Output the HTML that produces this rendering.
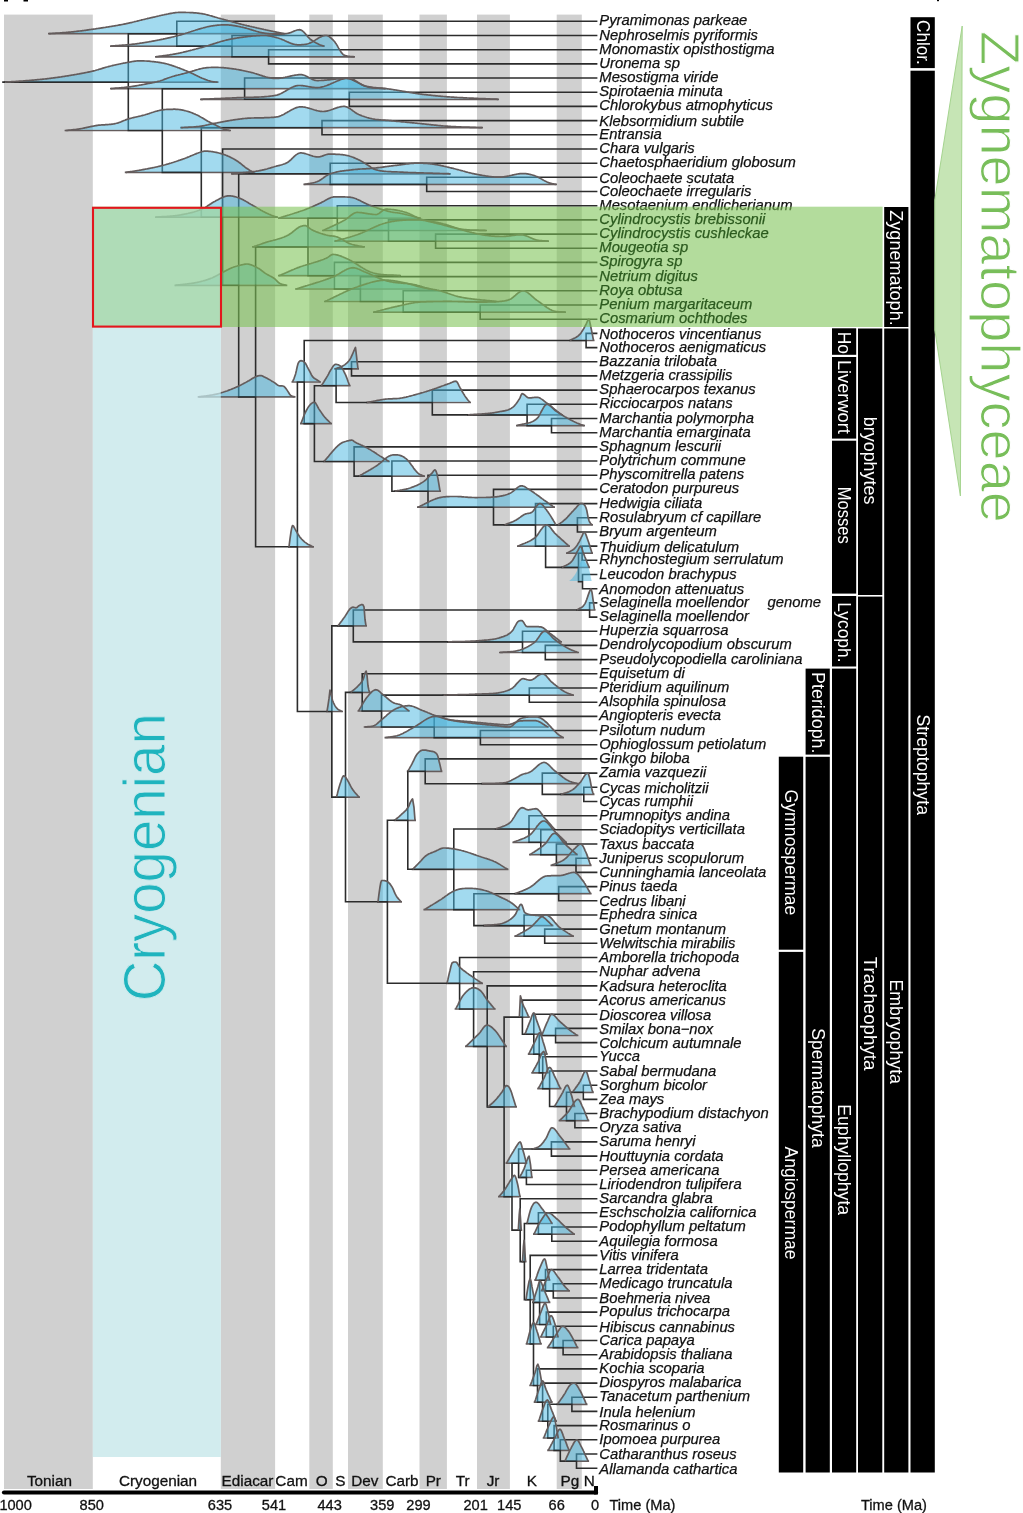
<!DOCTYPE html><html><head><meta charset="utf-8"><style>html,body{margin:0;padding:0;background:#fff}svg{display:block;will-change:transform}text{font-family:"Liberation Sans",sans-serif}</style></head><body>
<svg width="1023" height="1513" viewBox="0 0 1023 1513">
<rect width="1023" height="1513" fill="#fff"/>
<rect x="4.0" y="14.6" width="88.8" height="1474.4" fill="#d0d0d0"/>
<rect x="220.8" y="14.6" width="54.3" height="1474.4" fill="#d0d0d0"/>
<rect x="309.3" y="14.6" width="23.5" height="1474.4" fill="#d0d0d0"/>
<rect x="348.0" y="14.6" width="34.8" height="1474.4" fill="#d0d0d0"/>
<rect x="419.5" y="14.6" width="27.4" height="1474.4" fill="#d0d0d0"/>
<rect x="477.0" y="14.6" width="32.9" height="1474.4" fill="#d0d0d0"/>
<rect x="556.7" y="14.6" width="25.1" height="1474.4" fill="#d0d0d0"/>
<path d="M3.9 82.1H218.6M48 33.7H285M110 46.1H325M155 56.8H355M64.6 130.5H231M110 88.7H386M200 99.3H499M124.8 172.4H255M180 127.7H483M155 217.1H278M174.5 285.3H287.3M231 173.8H451M303.4 184.4H557M197.7 396.9H295.5M252 246.9H365M278 218.1H421M322 230.5H487M334 241.2H549M278 275.7H401M295 289H431M324 301.5H497M373 312.1H566M288 546.8H314M291.5 382H321M569 340.5H594.5M300 423.6H332M320.4 385.7H350.6M334 368.8H359M366 402.5H471M467 414.9H563M516 425.6H585M323 461.5H390M358 476.1H425M394 491.2H441M417 507.1H555M503.6 524.9H557M517 546.1H570M557 524.9H593M561 567.4H590M566 553.2H593M326 711.5H343M337 625.9H367M576 610H595.5M447 641.9H562M499 652.5H579M335.5 797.1H360M349.6 692.4H370.6M357.5 711H410M442.5 695.1H574M363.7 727H549M384.5 737.6H564M377 901.8H402M393.7 820.3H416M406.8 771.3H442.4M481 783.7H579M560 794.4H594.5M411.7 869.3H508.5M494.8 829H555.4M512.4 842.3H567M529 854.7H578M550.5 865.3H591.6M423.4 909.6H520.3M514.3 893.7H591.6M483 925.6H553.5M514.3 936.2H574M446 983.3H483M454.6 1009H495.7M465 1046.4H507M487 1106.9H517M518.4 1017.1H529.8M523.9 1034.2H542.7M527.8 1054.1H547.7M540.7 1035.5H578.4M531.3 1072.8H548.7M537.2 1088.7H561.5M553.6 1106.5H575.4M571.4 1092.3H593.8M558.6 1120.6H589.3M498 1196.7H521M505.5 1163.2H527.4M531.5 1149H570.5M518.5 1177.4H532.8M517.3 1230.1H522.2M521.5 1261.6H526.5M526 1223.5H553M533 1234.1H575M525 1299.7H535.5M525.7 1343.9H541.8M532 1302.4H550.4M534.3 1280.2H550.4M540.6 1290.9H570M535.1 1324.5H551.6M539.8 1337H559M546.8 1347.6H578.5M529.3 1385.5H543.2M533.7 1402.1H552.7M537.7 1421.2H557M556.4 1404.3H587.5M542.7 1438H559.2M547.2 1450.4H570M563.9 1461.1H589.1" fill="none" stroke="#645c5c" stroke-width="1.7"/>
<path d="M3 82.1 H128.3M128.3 33.7 V130.5M128.3 33.7 H176.8M128.3 130.5 H162.3M176.8 21.3 V46.1M176.8 21.3 H596.6M176.8 46.1 H232M232 35.5 V56.8M232 35.5 H596.6M232 56.8 H268.6M268.6 49.7 V63.9M268.6 49.7 H596.6M268.6 63.9 H596.6M162.3 88.7 V172.4M162.3 88.7 H244.6M162.3 172.4 H201.3M244.6 78 V99.3M244.6 78 H596.6M244.6 99.3 H349.3M349.3 92.2 V106.4M349.3 92.2 H596.6M349.3 106.4 H596.6M201.3 127.7 V217.1M201.3 127.7 H322M201.3 217.1 H222.6M322 120.6 V134.8M322 120.6 H596.6M322 134.8 H596.6M222.6 149 V285.3M222.6 149 H596.6M222.6 285.3 H238.7M238.7 173.8 V396.9M238.7 173.8 H330.2M238.7 396.9 H255.6M330.2 163.2 V184.4M330.2 163.2 H596.6M330.2 184.4 H426.7M426.7 177.3 V191.5M426.7 177.3 H596.6M426.7 191.5 H596.6M255.6 246.9 V546.8M255.6 246.9 H308M255.6 546.8 H297.4M308 218.1 V275.7M308 218.1 H337.3M308 275.7 H334.4M337.3 205.7 V230.5M337.3 205.7 H596.6M337.3 230.5 H388.5M388.5 219.9 V241.2M388.5 219.9 H596.6M388.5 241.2 H435.6M435.6 234.1 V248.3M435.6 234.1 H596.6M435.6 248.3 H596.6M334.4 262.4 V289M334.4 262.4 H596.6M334.4 289 H360.4M360.4 276.6 V301.5M360.4 276.6 H596.6M360.4 301.5 H403.2M403.2 290.8 V312.1M403.2 290.8 H596.6M403.2 312.1 H480.2M480.2 305 V319.2M480.2 305 H596.6M480.2 319.2 H596.6M297.4 382 V711.5M297.4 382 H304.2M297.4 711.5 H331.8M304.2 340.5 V423.6M304.2 340.5 H586.1M304.2 423.6 H314.4M586.1 333.4 V347.6M586.1 333.4 H596.6M586.1 347.6 H596.6M314.4 385.7 V461.5M314.4 385.7 H336.1M314.4 461.5 H354.1M336.1 368.8 V402.5M336.1 368.8 H351.5M336.1 402.5 H432.3M351.5 361.7 V375.9M351.5 361.7 H596.6M351.5 375.9 H596.6M432.3 390.1 V414.9M432.3 390.1 H596.6M432.3 414.9 H527.1M527.1 404.3 V425.6M527.1 404.3 H596.6M527.1 425.6 H551.5M551.5 418.5 V432.7M551.5 418.5 H596.6M551.5 432.7 H596.6M354.1 446.9 V476.1M354.1 446.9 H596.6M354.1 476.1 H391.9M391.9 461 V491.2M391.9 461 H596.6M391.9 491.2 H428M428 475.2 V507.1M428 475.2 H596.6M428 507.1 H493.5M493.5 489.4 V524.9M493.5 489.4 H596.6M493.5 524.9 H535.5M535.5 503.6 V546.1M535.5 503.6 H596.6M535.5 546.1 H545.6M545.6 524.9 V567.4M545.6 524.9 H577.4M545.6 567.4 H578.5M577.4 517.8 V532M577.4 517.8 H596.6M577.4 532 H596.6M578.5 553.2 V581.6M578.5 553.2 H582.1M578.5 581.6 H582.5M582.1 546.1 V560.3M582.1 546.1 H596.6M582.1 560.3 H596.6M582.5 574.5 V588.7M582.5 574.5 H596.6M582.5 588.7 H596.6M331.8 625.9 V797.1M331.8 625.9 H353.3M331.8 797.1 H345.5M353.3 610 V641.9M353.3 610 H589.6M353.3 641.9 H522.5M589.6 602.9 V617.1M589.6 602.9 H596.6M589.6 617.1 H596.6M522.5 631.3 V652.5M522.5 631.3 H596.6M522.5 652.5 H545.3M545.3 645.4 V659.6M545.3 645.4 H596.6M545.3 659.6 H596.6M345.5 692.4 V901.8M345.5 692.4 H362.2M345.5 901.8 H387.4M362.2 673.8 V711M362.2 673.8 H596.6M362.2 711 H381.5M381.5 695.1 V727M381.5 695.1 H529.3M381.5 727 H434.2M529.3 688 V702.2M529.3 688 H596.6M529.3 702.2 H596.6M434.2 716.4 V737.6M434.2 716.4 H596.6M434.2 737.6 H480.4M480.4 730.5 V744.7M480.4 730.5 H596.6M480.4 744.7 H596.6M387.4 820.3 V983.3M387.4 820.3 H407.8M387.4 983.3 H459.6M407.8 771.3 V869.3M407.8 771.3 H425.2M407.8 869.3 H453.8M425.2 758.9 V783.7M425.2 758.9 H596.6M425.2 783.7 H542.3M542.3 773.1 V794.4M542.3 773.1 H596.6M542.3 794.4 H583.8M583.8 787.3 V801.5M583.8 787.3 H596.6M583.8 801.5 H596.6M453.8 829 V909.6M453.8 829 H529M453.8 909.6 H473.9M529 815.7 V842.3M529 815.7 H596.6M529 842.3 H540.8M540.8 829.8 V854.7M540.8 829.8 H596.6M540.8 854.7 H556.4M556.4 844 V865.3M556.4 844 H596.6M556.4 865.3 H576M576 858.2 V872.4M576 858.2 H596.6M576 872.4 H596.6M473.9 893.7 V925.6M473.9 893.7 H558.7M473.9 925.6 H524.1M558.7 886.6 V900.8M558.7 886.6 H596.6M558.7 900.8 H596.6M524.1 915 V936.2M524.1 915 H596.6M524.1 936.2 H544.7M544.7 929.1 V943.3M544.7 929.1 H596.6M544.7 943.3 H596.6M459.6 957.5 V1009M459.6 957.5 H596.6M459.6 1009 H473.6M473.6 971.7 V1046.4M473.6 971.7 H596.6M473.6 1046.4 H487.2M487.2 985.9 V1106.9M487.2 985.9 H596.6M487.2 1106.9 H504.1M504.1 1017.1 V1196.7M504.1 1017.1 H522.4M504.1 1196.7 H512M522.4 1000.1 V1034.2M522.4 1000.1 H596.6M522.4 1034.2 H533.8M533.8 1014.2 V1054.1M533.8 1014.2 H596.6M533.8 1054.1 H539.2M539.2 1035.5 V1072.8M539.2 1035.5 H555.6M539.2 1072.8 H542.7M555.6 1028.4 V1042.6M555.6 1028.4 H596.6M555.6 1042.6 H596.6M542.7 1056.8 V1088.7M542.7 1056.8 H596.6M542.7 1088.7 H549.6M549.6 1071 V1106.5M549.6 1071 H596.6M549.6 1106.5 H566.5M566.5 1092.3 V1120.6M566.5 1092.3 H583.3M566.5 1120.6 H574.9M583.3 1085.2 V1099.4M583.3 1085.2 H596.6M583.3 1099.4 H596.6M574.9 1113.5 V1127.7M574.9 1113.5 H596.6M574.9 1127.7 H596.6M512 1163.2 V1230.1M512 1163.2 H518.6M512 1230.1 H520.2M518.6 1149 V1177.4M518.6 1149 H551.4M518.6 1177.4 H526.4M551.4 1141.9 V1156.1M551.4 1141.9 H596.6M551.4 1156.1 H596.6M526.4 1170.3 V1184.5M526.4 1170.3 H596.6M526.4 1184.5 H596.6M520.2 1198.7 V1261.6M520.2 1198.7 H596.6M520.2 1261.6 H524.4M524.4 1223.5 V1299.7M524.4 1223.5 H538.4M524.4 1299.7 H530.2M538.4 1212.8 V1234.1M538.4 1212.8 H596.6M538.4 1234.1 H551.8M551.8 1227 V1241.2M551.8 1227 H596.6M551.8 1241.2 H596.6M530.2 1255.4 V1343.9M530.2 1255.4 H596.6M530.2 1343.9 H533.5M533.5 1302.4 V1385.5M533.5 1302.4 H539.6M533.5 1385.5 H537.5M539.6 1280.2 V1324.5M539.6 1280.2 H545.5M539.6 1324.5 H546.3M545.5 1269.6 V1290.9M545.5 1269.6 H596.6M545.5 1290.9 H553.3M553.3 1283.8 V1298M553.3 1283.8 H596.6M553.3 1298 H596.6M546.3 1312.1 V1337M546.3 1312.1 H596.6M546.3 1337 H553.3M553.3 1326.3 V1347.6M553.3 1326.3 H596.6M553.3 1347.6 H563.1M563.1 1340.5 V1354.7M563.1 1340.5 H596.6M563.1 1354.7 H596.6M537.5 1368.9 V1402.1M537.5 1368.9 H596.6M537.5 1402.1 H542.6M542.6 1383.1 V1421.2M542.6 1383.1 H596.6M542.6 1421.2 H547.8M547.8 1404.3 V1438M547.8 1404.3 H571.9M547.8 1438 H554.1M571.9 1397.2 V1411.4M571.9 1397.2 H596.6M571.9 1411.4 H596.6M554.1 1425.6 V1450.4M554.1 1425.6 H596.6M554.1 1450.4 H560.3M560.3 1439.8 V1461.1M560.3 1439.8 H596.6M560.3 1461.1 H576.5M576.5 1454 V1468.2M576.5 1454 H596.6M576.5 1468.2 H596.6" fill="none" stroke="#2c2c2c" stroke-width="1.6" stroke-linecap="square"/>
<g fill="#45b6e0" fill-opacity="0.5" stroke="none">
<path d="M4.9 81.4L4.9 81.4L5.7 81.4L6.4 81.4L7.2 81.4L7.9 81.4L8.7 81.4L9.4 81.4L10.2 81.4L10.9 81.4L11.7 81.4L12.4 81.4L13.2 81.4L13.9 81.4L14.7 81.4L15.4 81.4L16.1 81.4L16.9 81.4L17.6 81.3L18.4 81.3L19.1 81.2L19.9 81.2L20.6 81.1L21.4 81.1L22.1 81L22.9 81L23.6 80.9L24.4 80.9L25.2 80.8L25.9 80.7L26.7 80.7L27.5 80.6L28.2 80.5L29 80.5L29.8 80.4L30.5 80.3L31.3 80.3L32.1 80.2L32.8 80.2L33.6 80.1L34.4 80L35.1 79.9L35.9 79.9L36.6 79.8L37.4 79.7L38.2 79.7L38.9 79.6L39.7 79.5L40.5 79.4L41.2 79.4L42 79.3L42.8 79.2L43.5 79.1L44.3 79L45.1 79L45.8 78.9L46.6 78.8L47.4 78.7L48.1 78.6L48.9 78.5L49.7 78.4L50.4 78.3L51.2 78.2L51.9 78.1L52.7 78L53.5 77.9L54.2 77.8L55 77.7L55.8 77.6L56.5 77.5L57.3 77.4L58 77.3L58.8 77.2L59.6 77.1L60.3 77L61.1 76.9L61.9 76.7L62.6 76.6L63.4 76.5L64.2 76.4L64.9 76.3L65.7 76.1L66.4 76L67.2 75.9L68 75.8L68.7 75.7L69.5 75.5L70.2 75.4L71 75.3L71.8 75.1L72.5 75L73.3 74.9L74.1 74.8L74.8 74.6L75.6 74.5L76.3 74.4L77.1 74.2L77.8 74.1L78.6 74L79.3 73.8L80.1 73.7L80.8 73.6L81.6 73.4L82.3 73.3L83.1 73.1L83.9 73L84.6 72.8L85.4 72.7L86.1 72.5L86.9 72.4L87.6 72.2L88.4 72.1L89.1 71.9L89.9 71.8L90.6 71.6L91.4 71.4L92.1 71.2L92.9 71.1L93.7 70.9L94.5 70.7L95.2 70.5L96 70.2L96.8 70L97.6 69.8L98.3 69.6L99.1 69.3L99.9 69.1L100.7 68.9L101.5 68.6L102.2 68.4L103 68.1L103.8 67.9L104.6 67.7L105.3 67.4L106.1 67.2L106.9 67L107.7 66.8L108.4 66.6L109.2 66.4L110 66.2L110.8 66L111.6 65.8L112.3 65.6L113.1 65.4L113.9 65.2L114.7 65L115.4 64.9L116.2 64.7L117 64.5L117.8 64.4L118.5 64.2L119.3 64L120.1 63.9L120.9 63.7L121.7 63.5L122.4 63.4L123.2 63.2L124 63.1L124.8 63L125.5 62.8L126.3 62.7L127.1 62.5L127.9 62.4L128.6 62.3L129.4 62.1L130.2 62L130.9 61.8L131.7 61.7L132.5 61.5L133.2 61.4L134 61.3L134.8 61.2L135.6 61.1L136.3 61L137.1 60.9L137.9 60.9L138.6 60.8L139.4 60.8L140.2 60.8L140.9 60.8L141.7 60.9L142.4 60.9L143.2 60.9L144 60.9L144.7 61L145.5 61L146.3 61L147 61.1L147.8 61.1L148.6 61.2L149.3 61.2L150.1 61.3L150.8 61.4L151.6 61.5L152.4 61.6L153.1 61.6L153.9 61.7L154.7 61.8L155.5 61.9L156.2 62L157 62.1L157.8 62.2L158.6 62.3L159.3 62.4L160.1 62.6L160.9 62.7L161.7 62.8L162.4 63L163.2 63.1L164 63.3L164.8 63.4L165.5 63.6L166.3 63.8L167.1 64L167.8 64.2L168.6 64.4L169.4 64.7L170.1 64.9L170.9 65.1L171.7 65.4L172.4 65.6L173.2 65.9L174 66.2L174.8 66.4L175.5 66.7L176.3 67L177.1 67.3L177.8 67.6L178.6 67.8L179.4 68.1L180.1 68.4L180.9 68.7L181.7 69L182.4 69.3L183.2 69.6L183.9 69.9L184.7 70.2L185.4 70.5L186.2 70.8L186.9 71.1L187.7 71.4L188.4 71.8L189.2 72.1L189.9 72.4L190.7 72.8L191.5 73.1L192.2 73.5L193 73.8L193.8 74.2L194.5 74.6L195.3 74.9L196 75.3L196.8 75.7L197.6 76.1L198.3 76.5L199.1 76.8L199.8 77.2L200.6 77.5L201.4 77.9L202.1 78.2L202.9 78.5L203.7 78.8L204.4 79.1L205.2 79.4L205.9 79.7L206.7 79.9L207.4 80.2L208.2 80.5L208.9 80.7L209.7 80.9L210.4 81.2L211.2 81.4L211.9 81.4L212.7 81.4L213.5 81.4L214.3 81.4L215.1 81.4L216 81.4L216.8 81.4L217.6 81.4L217.6 81.4Z"/>
<path d="M49 33L49 33L49.8 33L50.5 33L51.3 33L52 33L52.8 33L53.6 33L54.3 33L55.1 33L55.8 33L56.6 33L57.3 33L58.1 33L58.9 33L59.6 33L60.4 32.9L61.1 32.9L61.9 32.8L62.7 32.7L63.4 32.7L64.2 32.6L64.9 32.6L65.7 32.5L66.4 32.4L67.2 32.4L68 32.3L68.7 32.2L69.5 32.2L70.2 32.1L71 32L71.8 31.9L72.5 31.8L73.3 31.8L74.1 31.7L74.8 31.6L75.6 31.5L76.3 31.4L77.1 31.3L77.9 31.2L78.6 31.1L79.4 31L80.2 31L80.9 30.9L81.7 30.8L82.4 30.7L83.2 30.6L84 30.5L84.7 30.4L85.5 30.3L86.3 30.2L87 30.1L87.8 29.9L88.6 29.8L89.3 29.7L90.1 29.6L90.8 29.5L91.6 29.4L92.4 29.3L93.1 29.2L93.9 29.1L94.7 29L95.4 28.9L96.2 28.7L96.9 28.6L97.7 28.5L98.5 28.4L99.2 28.3L100 28.2L100.8 28.1L101.5 27.9L102.3 27.8L103 27.7L103.8 27.6L104.5 27.5L105.3 27.4L106.1 27.2L106.8 27.1L107.6 27L108.3 26.9L109.1 26.8L109.8 26.6L110.6 26.5L111.4 26.4L112.1 26.3L112.9 26.1L113.6 26L114.4 25.9L115.2 25.8L115.9 25.6L116.7 25.5L117.4 25.4L118.2 25.2L118.9 25.1L119.7 24.9L120.5 24.8L121.2 24.7L122 24.5L122.7 24.4L123.5 24.2L124.2 24.1L125 23.9L125.8 23.8L126.5 23.6L127.3 23.4L128.1 23.3L128.8 23.1L129.6 22.9L130.4 22.7L131.1 22.6L131.9 22.4L132.6 22.2L133.4 22L134.2 21.8L134.9 21.6L135.7 21.5L136.5 21.3L137.2 21.1L138 20.9L138.8 20.7L139.5 20.5L140.3 20.3L141.1 20.1L141.8 19.9L142.6 19.7L143.4 19.5L144.1 19.4L144.9 19.2L145.6 19L146.4 18.8L147.2 18.6L147.9 18.4L148.7 18.3L149.5 18.1L150.2 17.9L151 17.7L151.8 17.6L152.5 17.4L153.3 17.2L154 17.1L154.8 16.9L155.5 16.7L156.3 16.5L157.1 16.3L157.8 16.2L158.6 16L159.3 15.8L160.1 15.6L160.8 15.5L161.6 15.3L162.4 15.1L163.1 15L163.9 14.8L164.6 14.6L165.4 14.5L166.2 14.3L166.9 14.2L167.7 14L168.4 13.8L169.2 13.7L169.9 13.6L170.7 13.4L171.5 13.3L172.2 13.2L173 13L173.7 12.9L174.5 12.8L175.2 12.7L176 12.6L176.8 12.5L177.7 12.5L178.5 12.4L179.3 12.4L180.2 12.4L181 12.4L181.8 12.4L182.5 12.4L183.2 12.4L184 12.4L184.8 12.4L185.5 12.4L186.2 12.5L187 12.5L187.8 12.5L188.5 12.5L189.2 12.5L190 12.6L190.8 12.6L191.5 12.6L192.2 12.7L193 12.7L193.8 12.8L194.5 12.8L195.2 12.9L196 12.9L196.8 13L197.5 13.1L198.2 13.2L199 13.3L199.8 13.4L200.5 13.5L201.2 13.6L202 13.7L202.8 13.8L203.5 14L204.3 14.1L205.1 14.3L205.9 14.5L206.6 14.7L207.4 14.9L208.2 15.1L209 15.3L209.7 15.5L210.5 15.7L211.3 15.9L212 16.1L212.8 16.4L213.6 16.6L214.4 16.8L215.1 17.1L215.9 17.3L216.7 17.5L217.5 17.7L218.2 18L219 18.2L219.8 18.4L220.5 18.6L221.2 18.8L222 19L222.8 19.2L223.5 19.4L224.2 19.6L225 19.8L225.8 20L226.5 20.2L227.2 20.4L228 20.7L228.8 20.9L229.5 21.1L230.2 21.3L231 21.5L231.8 21.7L232.5 21.9L233.2 22.1L234 22.3L234.8 22.5L235.5 22.7L236.2 22.9L237 23.1L237.8 23.3L238.5 23.5L239.2 23.7L240 23.9L240.8 24.1L241.5 24.3L242.3 24.5L243 24.7L243.8 24.8L244.5 25L245.3 25.2L246.1 25.4L246.8 25.6L247.6 25.8L248.3 25.9L249.1 26.1L249.8 26.3L250.6 26.5L251.4 26.6L252.1 26.8L252.9 27L253.6 27.1L254.4 27.3L255.2 27.5L255.9 27.7L256.7 27.8L257.4 28L258.2 28.2L258.9 28.3L259.7 28.5L260.5 28.7L261.2 28.8L262 29L262.7 29.2L263.5 29.3L264.2 29.5L265 29.7L265.8 29.8L266.5 30L267.3 30.2L268 30.3L268.8 30.5L269.6 30.7L270.3 30.8L271.1 31L271.8 31.1L272.6 31.3L273.4 31.5L274.1 31.6L274.9 31.8L275.6 31.9L276.4 32.1L277.2 32.3L277.9 32.4L278.7 32.6L279.4 32.7L280.2 32.9L281 33L281.7 33L282.5 33L283.2 33L284 33L284 33Z"/>
<path d="M111 45.4L111 45.4L111.8 45.4L112.5 45.4L113.2 45.4L114 45.4L114.8 45.4L115.5 45.4L116.2 45.4L117 45.4L117.8 45.4L118.5 45.4L119.2 45.4L120 45.4L120.8 45.3L121.5 45.3L122.2 45.2L123 45.1L123.8 45.1L124.5 45L125.2 45L126 44.9L126.8 44.8L127.5 44.8L128.2 44.7L129 44.6L129.8 44.6L130.5 44.5L131.2 44.4L132 44.3L132.8 44.2L133.5 44.2L134.2 44.1L135 44L135.8 43.9L136.5 43.8L137.2 43.7L138 43.6L138.8 43.5L139.5 43.3L140.3 43.2L141 43.1L141.8 43L142.6 42.9L143.3 42.8L144.1 42.6L144.8 42.5L145.6 42.4L146.4 42.3L147.1 42.1L147.9 42L148.6 41.9L149.4 41.7L150.2 41.6L150.9 41.5L151.7 41.3L152.4 41.2L153.2 41.1L154 40.9L154.7 40.8L155.5 40.6L156.2 40.5L157 40.3L157.8 40.2L158.5 40L159.3 39.9L160 39.7L160.8 39.6L161.6 39.4L162.3 39.3L163.1 39.1L163.8 38.9L164.6 38.8L165.4 38.6L166.1 38.4L166.9 38.3L167.6 38.1L168.4 37.9L169.2 37.8L169.9 37.6L170.7 37.4L171.4 37.2L172.2 37L173 36.9L173.7 36.7L174.5 36.5L175.2 36.3L176 36.1L176.8 35.9L177.5 35.7L178.3 35.5L179.1 35.3L179.8 35.1L180.6 34.9L181.4 34.6L182.1 34.4L182.9 34.2L183.6 33.9L184.4 33.7L185.2 33.5L185.9 33.2L186.7 33L187.5 32.7L188.2 32.5L189 32.2L189.8 32L190.5 31.7L191.3 31.5L192.1 31.2L192.8 31L193.6 30.7L194.4 30.5L195.1 30.3L195.9 30L196.6 29.8L197.4 29.6L198.2 29.3L198.9 29.1L199.7 28.9L200.5 28.7L201.2 28.4L202 28.2L202.8 28L203.5 27.8L204.3 27.6L205.1 27.4L205.8 27.2L206.6 27L207.4 26.8L208.2 26.6L208.9 26.5L209.7 26.3L210.5 26.2L211.2 26L212 25.9L212.8 25.8L213.5 25.7L214.3 25.6L215.1 25.5L215.8 25.4L216.6 25.3L217.4 25.2L218.1 25.1L218.9 25.1L219.6 25L220.4 25L221.2 24.9L221.9 24.9L222.7 24.9L223.5 24.8L224.2 24.8L225 24.8L225.8 24.8L226.5 24.9L227.3 24.9L228.1 24.9L228.9 25L229.6 25.1L230.4 25.1L231.2 25.2L232 25.3L232.7 25.4L233.5 25.6L234.3 25.7L235 25.8L235.8 25.9L236.6 26.1L237.4 26.2L238.1 26.4L238.9 26.5L239.7 26.7L240.5 26.8L241.2 27L242 27.2L242.8 27.3L243.5 27.5L244.2 27.7L245 27.9L245.8 28.1L246.5 28.3L247.2 28.5L248 28.7L248.8 28.9L249.5 29.2L250.2 29.4L251 29.6L251.8 29.9L252.5 30.1L253.2 30.3L254 30.6L254.8 30.8L255.5 31L256.2 31.3L257 31.5L257.8 31.7L258.5 31.9L259.2 32.1L260 32.3L260.8 32.5L261.5 32.6L262.2 32.8L263 32.9L263.8 33L264.5 33.2L265.2 33.3L266 33.4L266.8 33.5L267.5 33.6L268.2 33.7L269 33.8L269.8 33.8L270.5 33.9L271.2 34L272 34L272.8 34.1L273.5 34.1L274.2 34.1L275 34.1L275.8 34.2L276.5 34.2L277.2 34.2L278 34.2L278.8 34.2L279.5 34.2L280.3 34.2L281.1 34.1L281.8 34.1L282.6 34L283.4 34L284.2 33.9L284.9 33.8L285.7 33.7L286.5 33.6L287.2 33.5L288 33.3L288.8 33.2L289.5 32.9L290.3 32.7L291.1 32.4L291.8 32.1L292.6 31.7L293.4 31.4L294.1 31.1L294.9 30.8L295.7 30.5L296.4 30.2L297.2 30L298 29.9L298.7 29.8L299.5 29.7L300.3 29.8L301 30.1L301.8 30.5L302.6 31L303.3 31.7L304.1 32.4L304.9 33.3L305.6 34.1L306.4 35L307.2 35.9L307.9 36.8L308.7 37.6L309.5 38.4L310.2 39.1L311 39.7L311.8 40.3L312.6 40.8L313.4 41.4L314.2 41.9L315 42.3L315.8 42.8L316.6 43.2L317.4 43.6L318.2 44L319 44.4L319.8 44.8L320.7 45.1L321.5 45.3L322.3 45.4L323.2 45.4L324 45.4L324 45.4Z"/>
<path d="M156 56.1L156 56.1L156.8 56.1L157.5 56.1L158.3 56.1L159.1 56.1L159.8 56.1L160.6 56.1L161.4 56L162.2 55.9L162.9 55.8L163.7 55.7L164.5 55.6L165.2 55.5L166 55.4L166.8 55.3L167.5 55.2L168.3 55.1L169.1 55L169.8 54.8L170.6 54.7L171.4 54.6L172.2 54.5L172.9 54.3L173.7 54.2L174.5 54.1L175.2 53.9L176 53.8L176.8 53.6L177.5 53.5L178.3 53.3L179.1 53.2L179.8 53L180.6 52.8L181.4 52.7L182.1 52.5L182.9 52.3L183.6 52.1L184.4 51.9L185.2 51.8L185.9 51.6L186.7 51.4L187.5 51.2L188.2 51L189 50.8L189.8 50.6L190.5 50.4L191.3 50.2L192.1 50L192.8 49.8L193.6 49.6L194.4 49.4L195.1 49.2L195.9 49L196.6 48.8L197.4 48.6L198.2 48.4L198.9 48.2L199.7 48L200.5 47.8L201.2 47.6L202 47.4L202.8 47.2L203.5 47L204.3 46.7L205 46.5L205.8 46.3L206.5 46.1L207.3 45.8L208.1 45.6L208.8 45.4L209.6 45.1L210.3 44.9L211.1 44.6L211.8 44.4L212.6 44.1L213.4 43.9L214.1 43.6L214.9 43.4L215.6 43.2L216.4 42.9L217.2 42.7L217.9 42.4L218.7 42.2L219.4 42L220.2 41.7L220.9 41.5L221.7 41.3L222.5 41.1L223.2 40.9L224 40.7L224.7 40.5L225.5 40.3L226.2 40.1L227 39.9L227.8 39.8L228.5 39.6L229.3 39.4L230 39.3L230.8 39.1L231.5 39L232.3 38.8L233.1 38.7L233.8 38.6L234.6 38.4L235.3 38.3L236.1 38.2L236.8 38L237.6 37.9L238.4 37.8L239.1 37.7L239.9 37.6L240.6 37.5L241.4 37.4L242.2 37.3L242.9 37.2L243.7 37.1L244.4 37L245.2 36.9L245.9 36.8L246.7 36.7L247.5 36.6L248.2 36.5L249 36.4L249.7 36.3L250.5 36.3L251.2 36.2L252 36.1L252.8 36L253.5 36L254.3 35.9L255.1 35.8L255.8 35.8L256.6 35.7L257.4 35.7L258.1 35.6L258.9 35.6L259.6 35.6L260.4 35.5L261.2 35.5L261.9 35.5L262.7 35.5L263.5 35.5L264.2 35.5L265 35.5L265.8 35.5L266.5 35.5L267.3 35.6L268.1 35.7L268.8 35.8L269.6 35.9L270.4 36.1L271.1 36.2L271.9 36.4L272.6 36.6L273.4 36.8L274.2 37L274.9 37.2L275.7 37.4L276.5 37.6L277.2 37.8L278 38L278.8 38.2L279.5 38.5L280.3 38.8L281.1 39L281.8 39.4L282.6 39.7L283.4 40L284.2 40.3L284.9 40.7L285.7 41.1L286.5 41.4L287.2 41.8L288 42.1L288.8 42.4L289.5 42.8L290.3 43.1L291.1 43.4L291.8 43.6L292.6 43.9L293.4 44.1L294.2 44.3L294.9 44.5L295.7 44.6L296.5 44.7L297.2 44.8L298 44.8L298.8 44.8L299.5 44.8L300.3 44.8L301.1 44.8L301.8 44.7L302.6 44.7L303.4 44.6L304.2 44.5L304.9 44.4L305.7 44.3L306.5 44.2L307.2 44L308 43.8L308.8 43.5L309.5 43.2L310.2 42.9L311 42.6L311.8 42.2L312.5 41.8L313.2 41.3L314 40.9L314.8 40.4L315.5 39.9L316.2 39.4L317 39L317.8 38.5L318.5 38.1L319.2 37.6L320 37.2L320.8 36.9L321.5 36.5L322.2 36.2L323 36L323.8 35.7L324.5 35.6L325.2 35.5L326 35.5L326.8 35.5L327.6 35.8L328.4 36.1L329.2 36.6L330 37.2L330.8 37.8L331.6 38.6L332.4 39.4L333.2 40.2L334 41L334.8 41.9L335.5 43L336.3 44.1L337.1 45.4L337.8 46.7L338.6 48.1L339.4 49.4L340.2 50.6L340.9 51.8L341.7 52.9L342.5 53.8L343.2 54.6L344 55.1L344.8 55.4L345.5 55.7L346.3 55.9L347.1 56.1L347.8 56.1L348.6 56.1L349.4 56.1L350.2 56.1L350.9 56.1L351.7 56.1L352.5 56.1L353.2 56.1L354 56.1L354 56.1Z"/>
<path d="M65.6 129.8L65.6 129.8L66.4 129.8L67.1 129.8L67.9 129.8L68.7 129.8L69.4 129.8L70.2 129.8L71 129.8L71.7 129.8L72.5 129.8L73.2 129.7L74 129.7L74.8 129.6L75.5 129.5L76.3 129.4L77.1 129.3L77.8 129.2L78.6 129.1L79.4 128.9L80.1 128.8L80.9 128.7L81.7 128.5L82.4 128.4L83.2 128.2L84 128.1L84.7 127.9L85.5 127.7L86.3 127.6L87 127.4L87.8 127.2L88.6 127.1L89.3 126.9L90.1 126.7L90.9 126.6L91.6 126.4L92.4 126.3L93.2 126.1L93.9 126L94.7 125.8L95.5 125.7L96.2 125.6L97 125.4L97.8 125.3L98.6 125.2L99.3 125.1L100.1 125.1L100.9 125L101.7 124.9L102.5 124.9L103.2 124.8L104 124.8L104.8 124.8L105.6 124.7L106.3 124.7L107.1 124.6L107.9 124.6L108.7 124.5L109.5 124.4L110.2 124.4L111 124.3L111.8 124.2L112.6 124.1L113.4 124L114.1 123.8L114.9 123.7L115.7 123.5L116.5 123.3L117.2 123.1L118 122.9L118.8 122.6L119.5 122.3L120.3 122.1L121.1 121.8L121.8 121.4L122.6 121.1L123.3 120.8L124.1 120.5L124.9 120.2L125.6 119.9L126.4 119.6L127.2 119.3L127.9 119.1L128.7 118.8L129.5 118.6L130.3 118.4L131.1 118.2L131.8 118L132.6 117.8L133.4 117.6L134.2 117.4L135 117.2L135.8 117L136.5 116.9L137.3 116.7L138.1 116.5L138.9 116.3L139.7 116.2L140.5 116L141.2 115.8L142 115.6L142.8 115.4L143.6 115.2L144.4 115L145.2 114.8L145.9 114.5L146.7 114.3L147.5 114.1L148.2 113.8L149 113.6L149.8 113.3L150.6 113L151.3 112.8L152.1 112.5L152.9 112.3L153.7 112L154.4 111.8L155.2 111.5L156 111.3L156.8 111.1L157.5 110.9L158.3 110.7L159.1 110.5L159.9 110.3L160.6 110.2L161.4 110L162.2 109.9L163 109.8L163.7 109.7L164.5 109.6L165.2 109.5L166 109.5L166.7 109.4L167.5 109.4L168.2 109.3L169 109.3L169.7 109.3L170.5 109.3L171.2 109.3L172 109.3L172.7 109.3L173.5 109.2L174.2 109.2L175 109.2L175.8 109.3L176.5 109.3L177.3 109.3L178 109.4L178.8 109.5L179.5 109.6L180.3 109.7L181 109.8L181.8 109.9L182.5 110.1L183.3 110.2L184 110.4L184.8 110.6L185.5 110.8L186.3 111L187.1 111.2L187.9 111.4L188.7 111.7L189.5 111.9L190.3 112.2L191.1 112.5L191.9 112.8L192.6 113.1L193.4 113.4L194.2 113.8L195 114.1L195.8 114.5L196.6 114.8L197.4 115.2L198.2 115.6L199 116L199.8 116.5L200.6 116.9L201.4 117.4L202.2 117.8L203 118.3L203.8 118.8L204.6 119.3L205.4 119.8L206.2 120.2L207 120.7L207.8 121.2L208.6 121.6L209.4 122L210.2 122.4L210.9 122.8L211.7 123.2L212.5 123.6L213.3 124L214.1 124.4L214.9 124.7L215.7 125.1L216.4 125.5L217.2 125.9L218 126.3L218.8 126.7L219.5 127.1L220.3 127.5L221.1 128L221.9 128.4L222.6 128.7L223.4 129.1L224.2 129.3L225.1 129.6L225.9 129.8L226.7 129.8L227.5 129.8L228.3 129.8L229.2 129.8L230 129.8L230 129.8Z"/>
<path d="M111 88L111 88L111.8 88L112.5 88L113.3 88L114 88L114.8 88L115.6 88L116.3 88L117.1 88L117.8 88L118.6 88L119.4 87.9L120.1 87.8L120.9 87.8L121.6 87.7L122.4 87.6L123.2 87.6L123.9 87.5L124.7 87.4L125.4 87.3L126.2 87.2L127 87.1L127.7 87.1L128.5 87L129.2 86.9L130 86.8L130.8 86.7L131.5 86.5L132.3 86.4L133.1 86.3L133.9 86.2L134.6 86.1L135.4 85.9L136.2 85.8L137 85.7L137.7 85.5L138.5 85.4L139.3 85.2L140 85.1L140.8 85L141.6 84.8L142.4 84.7L143.1 84.5L143.9 84.4L144.7 84.2L145.5 84.1L146.2 83.9L147 83.8L147.8 83.6L148.5 83.5L149.2 83.4L150 83.2L150.8 83.1L151.5 82.9L152.2 82.8L153 82.6L153.8 82.5L154.5 82.3L155.2 82.2L156 82L156.8 81.8L157.5 81.6L158.2 81.4L159 81.2L159.8 81L160.5 80.8L161.2 80.5L162 80.3L162.8 80L163.5 79.7L164.2 79.4L165 79.1L165.8 78.8L166.5 78.6L167.2 78.3L168 78L168.8 77.7L169.5 77.5L170.2 77.2L171 77L171.8 76.7L172.5 76.5L173.3 76.3L174.1 76.1L174.9 75.8L175.6 75.6L176.4 75.4L177.2 75.2L178 75L178.7 74.8L179.5 74.7L180.3 74.5L181 74.3L181.8 74.1L182.6 73.9L183.4 73.7L184.1 73.5L184.9 73.3L185.7 73.1L186.5 72.9L187.2 72.7L188 72.5L188.8 72.3L189.5 72.1L190.2 71.8L191 71.6L191.8 71.4L192.5 71.1L193.2 70.9L194 70.7L194.8 70.4L195.5 70.2L196.2 69.9L197 69.7L197.8 69.5L198.5 69.3L199.2 69.1L200 68.9L200.8 68.7L201.5 68.5L202.2 68.4L203 68.2L203.8 68.1L204.5 68L205.2 67.9L206 67.8L206.8 67.7L207.5 67.6L208.2 67.6L209 67.5L209.8 67.5L210.5 67.5L211.2 67.4L212 67.4L212.8 67.4L213.5 67.4L214.2 67.4L215 67.4L215.8 67.4L216.5 67.4L217.3 67.4L218.1 67.4L218.9 67.5L219.6 67.5L220.4 67.5L221.2 67.6L222 67.6L222.7 67.7L223.5 67.7L224.3 67.8L225 67.9L225.8 67.9L226.6 68L227.4 68.1L228.1 68.2L228.9 68.3L229.7 68.4L230.5 68.5L231.2 68.6L232 68.7L232.8 68.8L233.5 68.9L234.3 69L235.1 69.1L235.9 69.2L236.6 69.4L237.4 69.5L238.2 69.6L239 69.8L239.7 69.9L240.5 70.1L241.3 70.2L242 70.4L242.8 70.5L243.6 70.7L244.4 70.9L245.1 71L245.9 71.2L246.7 71.4L247.5 71.5L248.2 71.7L249 71.9L249.8 72L250.5 72.2L251.2 72.4L252 72.6L252.8 72.8L253.5 73L254.2 73.2L255 73.5L255.8 73.7L256.5 73.9L257.2 74.2L258 74.4L258.8 74.7L259.5 74.9L260.2 75.2L261 75.4L261.8 75.6L262.5 75.9L263.2 76.1L264 76.3L264.8 76.6L265.5 76.8L266.2 77L267 77.2L267.8 77.4L268.5 77.5L269.2 77.7L270 77.8L270.8 78L271.5 78.1L272.2 78.2L273 78.3L273.8 78.4L274.5 78.4L275.2 78.4L276 78.5L276.8 78.4L277.5 78.4L278.3 78.4L279 78.3L279.8 78.2L280.5 78.1L281.3 78L282.1 77.9L282.8 77.8L283.6 77.6L284.3 77.5L285.1 77.3L285.8 77.1L286.6 77L287.4 76.8L288.1 76.6L288.9 76.5L289.6 76.3L290.4 76.1L291.2 75.9L291.9 75.8L292.7 75.6L293.4 75.5L294.2 75.3L294.9 75.2L295.7 75.1L296.5 75L297.2 74.9L298 74.8L298.7 74.7L299.5 74.7L300.2 74.6L301 74.6L301.8 74.7L302.5 74.8L303.3 75L304 75.2L304.8 75.5L305.6 75.8L306.3 76.2L307.1 76.6L307.9 77L308.6 77.4L309.4 77.8L310.1 78.2L310.9 78.6L311.7 79L312.4 79.4L313.2 79.7L314 80L314.7 80.3L315.5 80.4L316.2 80.5L317 80.6L317.8 80.6L318.5 80.6L319.3 80.5L320.1 80.5L320.8 80.5L321.6 80.4L322.3 80.4L323.1 80.3L323.9 80.3L324.6 80.2L325.4 80.2L326.2 80.1L326.9 80L327.7 79.9L328.4 79.9L329.2 79.8L330 79.7L330.7 79.6L331.5 79.5L332.3 79.4L333 79.4L333.8 79.3L334.6 79.2L335.3 79.1L336.1 79L336.8 79L337.6 78.9L338.4 78.8L339.1 78.8L339.9 78.7L340.7 78.6L341.4 78.6L342.2 78.6L342.9 78.5L343.7 78.5L344.5 78.5L345.2 78.5L346 78.5L346.8 78.5L347.5 78.6L348.3 78.7L349.1 78.8L349.8 79L350.6 79.3L351.4 79.5L352.2 79.8L352.9 80.2L353.7 80.5L354.5 80.9L355.2 81.3L356 81.6L356.8 82L357.5 82.4L358.3 82.8L359.1 83.2L359.8 83.6L360.6 84L361.4 84.4L362.2 84.7L362.9 85.1L363.7 85.4L364.5 85.7L365.2 85.9L366 86.1L366.8 86.3L367.5 86.5L368.3 86.6L369 86.8L369.8 86.9L370.6 87.1L371.3 87.2L372.1 87.3L372.8 87.4L373.6 87.5L374.4 87.6L375.1 87.7L375.9 87.7L376.6 87.8L377.4 87.9L378.2 88L378.9 88L379.7 88L380.4 88L381.2 88L382 88L382.7 88L383.5 88L384.2 88L385 88L385 88Z"/>
<path d="M201 98.6L201 98.6L201.8 98.6L202.5 98.6L203.2 98.6L204 98.6L204.8 98.6L205.5 98.6L206.2 98.6L207 98.6L207.8 98.6L208.5 98.6L209.2 98.6L210 98.6L210.8 98.6L211.5 98.6L212.2 98.6L213 98.6L213.8 98.6L214.5 98.6L215.2 98.6L216 98.6L216.8 98.6L217.5 98.6L218.2 98.6L219 98.5L219.8 98.5L220.5 98.5L221.2 98.4L222 98.4L222.8 98.4L223.5 98.3L224.2 98.3L225 98.3L225.8 98.2L226.5 98.2L227.2 98.2L228 98.1L228.8 98.1L229.5 98.1L230.2 98L231 98L231.8 98L232.5 97.9L233.2 97.9L234 97.9L234.8 97.8L235.5 97.8L236.2 97.8L237 97.7L237.8 97.7L238.5 97.7L239.2 97.6L240 97.6L240.8 97.6L241.5 97.6L242.2 97.5L243 97.5L243.8 97.5L244.5 97.5L245.2 97.4L246 97.4L246.8 97.4L247.5 97.4L248.2 97.4L249 97.4L249.8 97.3L250.5 97.3L251.2 97.3L252 97.3L252.8 97.3L253.5 97.3L254.2 97.2L255 97.2L255.8 97.2L256.5 97.2L257.2 97.1L258 97.1L258.8 97.1L259.5 97L260.2 97L261 97L261.8 96.9L262.5 96.9L263.2 96.8L264 96.8L264.8 96.7L265.5 96.7L266.2 96.6L267 96.5L267.8 96.5L268.5 96.4L269.2 96.3L270 96.2L270.8 96.1L271.5 96L272.2 95.9L273 95.8L273.8 95.7L274.5 95.5L275.2 95.4L276 95.3L276.8 95.1L277.5 94.9L278.3 94.6L279.1 94.4L279.8 94L280.6 93.7L281.4 93.3L282.1 92.9L282.9 92.5L283.7 92.1L284.4 91.6L285.2 91.2L286 90.7L286.7 90.3L287.5 89.8L288.3 89.4L289 88.9L289.8 88.5L290.6 88.1L291.3 87.7L292.1 87.3L292.9 87L293.6 86.6L294.4 86.4L295.2 86.1L295.9 85.9L296.7 85.7L297.5 85.6L298.2 85.5L299 85.5L299.8 85.5L300.5 85.5L301.2 85.6L302 85.6L302.8 85.7L303.5 85.8L304.2 85.9L305 86L305.8 86.1L306.5 86.3L307.2 86.4L308 86.5L308.8 86.7L309.5 86.8L310.2 86.9L311 87.1L311.8 87.2L312.5 87.3L313.2 87.4L314 87.4L314.8 87.5L315.5 87.6L316.2 87.6L317 87.6L317.8 87.6L318.5 87.5L319.2 87.5L320 87.4L320.8 87.2L321.5 87.1L322.2 86.9L323 86.7L323.8 86.5L324.5 86.3L325.2 86L326 85.8L326.8 85.5L327.5 85.2L328.2 84.9L329 84.6L329.8 84.3L330.5 84L331.2 83.6L332 83.3L332.8 83L333.5 82.6L334.2 82.3L335 82L335.8 81.6L336.5 81.3L337.2 81L338 80.7L338.8 80.4L339.5 80.1L340.2 79.8L341 79.5L341.8 79.3L342.5 79.1L343.2 78.9L344 78.7L344.8 78.5L345.6 78.3L346.4 78.1L347.2 78.1L348 78L348.8 78.1L349.5 78.2L350.2 78.3L351 78.5L351.8 78.8L352.5 79.1L353.2 79.5L354 79.8L354.8 80.3L355.5 80.7L356.2 81.2L357 81.6L357.8 82.1L358.5 82.6L359.2 83.1L360 83.6L360.8 84L361.5 84.5L362.2 84.9L363 85.3L363.8 85.7L364.5 86L365.2 86.3L366 86.5L366.8 86.7L367.5 86.9L368.3 87.1L369 87.3L369.8 87.4L370.6 87.5L371.3 87.6L372.1 87.7L372.8 87.8L373.6 87.9L374.3 88L375.1 88L375.9 88.1L376.6 88.1L377.4 88.2L378.1 88.2L378.9 88.2L379.7 88.3L380.4 88.3L381.2 88.3L381.9 88.4L382.7 88.4L383.4 88.5L384.2 88.5L385 88.6L385.7 88.6L386.5 88.7L387.2 88.8L388 88.9L388.8 89L389.5 89.1L390.3 89.2L391 89.3L391.8 89.4L392.6 89.5L393.3 89.7L394.1 89.8L394.9 89.9L395.6 90L396.4 90.1L397.1 90.3L397.9 90.4L398.7 90.5L399.4 90.7L400.2 90.8L401 90.9L401.7 91L402.5 91.2L403.2 91.3L404 91.4L404.8 91.6L405.5 91.7L406.3 91.8L407 92L407.8 92.1L408.6 92.2L409.3 92.4L410.1 92.5L410.9 92.6L411.6 92.7L412.4 92.9L413.1 93L413.9 93.1L414.7 93.2L415.4 93.3L416.2 93.5L417 93.6L417.7 93.7L418.5 93.8L419.2 93.9L420 94L420.8 94.1L421.5 94.2L422.2 94.3L423 94.4L423.8 94.5L424.5 94.6L425.2 94.6L426 94.7L426.8 94.8L427.5 94.9L428.2 95L429 95.1L429.8 95.2L430.5 95.2L431.2 95.3L432 95.4L432.8 95.5L433.5 95.6L434.2 95.6L435 95.7L435.8 95.8L436.5 95.9L437.2 95.9L438 96L438.8 96.1L439.5 96.1L440.2 96.2L441 96.3L441.8 96.3L442.5 96.4L443.2 96.5L444 96.5L444.8 96.6L445.5 96.6L446.2 96.7L447 96.8L447.8 96.8L448.5 96.9L449.2 96.9L450 97L450.8 97L451.5 97.1L452.2 97.1L453 97.2L453.8 97.2L454.5 97.3L455.2 97.3L456 97.4L456.8 97.4L457.5 97.5L458.2 97.5L459 97.5L459.8 97.6L460.5 97.6L461.2 97.7L462 97.7L462.8 97.7L463.5 97.8L464.2 97.8L465 97.9L465.8 97.9L466.5 97.9L467.2 98L468 98L468.8 98L469.5 98.1L470.2 98.1L471 98.1L471.8 98.2L472.5 98.2L473.2 98.2L474 98.3L474.8 98.3L475.5 98.3L476.2 98.4L477 98.4L477.8 98.4L478.5 98.5L479.2 98.5L480 98.5L480.8 98.6L481.5 98.6L482.2 98.6L483 98.6L483.8 98.6L484.5 98.6L485.2 98.6L486 98.6L486.8 98.6L487.5 98.6L488.2 98.6L489 98.6L489.8 98.6L490.5 98.6L491.2 98.6L492 98.6L492.8 98.6L493.5 98.6L494.2 98.6L495 98.6L495.8 98.6L496.5 98.6L497.2 98.6L498 98.6L498 98.6Z"/>
<path d="M125.8 171.7L125.8 171.7L126.6 171.7L127.3 171.7L128.1 171.7L128.8 171.7L129.6 171.7L130.4 171.7L131.1 171.6L131.9 171.5L132.7 171.4L133.4 171.3L134.2 171.1L134.9 171L135.7 170.9L136.5 170.8L137.2 170.6L138 170.5L138.8 170.4L139.5 170.2L140.2 170.1L141 170L141.8 169.8L142.5 169.7L143.2 169.6L144 169.4L144.8 169.3L145.5 169.1L146.2 169L147 168.9L147.8 168.7L148.5 168.6L149.2 168.4L150 168.3L150.8 168.1L151.5 168L152.2 167.8L153 167.7L153.8 167.5L154.5 167.4L155.2 167.2L156 167L156.8 166.9L157.5 166.7L158.2 166.5L159 166.3L159.8 166.2L160.5 166L161.2 165.8L162 165.6L162.8 165.4L163.5 165.2L164.3 165L165.1 164.8L165.8 164.6L166.6 164.3L167.4 164.1L168.2 163.9L168.9 163.7L169.7 163.4L170.5 163.2L171.2 163L172 162.7L172.8 162.5L173.5 162.2L174.3 162L175.1 161.7L175.8 161.5L176.6 161.2L177.4 161L178.1 160.7L178.9 160.4L179.7 160.2L180.5 159.9L181.2 159.7L182 159.4L182.8 159.1L183.5 158.8L184.3 158.6L185.1 158.3L185.8 158L186.6 157.7L187.3 157.4L188.1 157.1L188.9 156.8L189.6 156.5L190.4 156.1L191.1 155.8L191.9 155.5L192.7 155.2L193.4 154.8L194.2 154.5L194.9 154.2L195.7 153.9L196.4 153.6L197.2 153.3L198 153L198.7 152.7L199.5 152.5L200.2 152.2L201 152L201.8 151.7L202.6 151.5L203.4 151.3L204.2 151.2L205 151.1L205.8 151.1L206.5 151.1L207.2 151.2L208 151.2L208.8 151.3L209.5 151.3L210.2 151.4L211 151.5L211.8 151.6L212.5 151.7L213.2 151.8L214 152L214.8 152.1L215.6 152.3L216.4 152.4L217.2 152.6L218 152.8L218.8 153L219.6 153.2L220.4 153.4L221.2 153.6L222 153.9L222.8 154.1L223.6 154.4L224.4 154.7L225.2 154.9L226 155.3L226.8 155.6L227.6 155.9L228.4 156.3L229.2 156.6L230 157L230.8 157.4L231.5 157.8L232.3 158.2L233.1 158.6L233.9 159.1L234.7 159.5L235.5 160L236.3 160.5L237.1 161L237.9 161.5L238.7 162.1L239.5 162.7L240.3 163.3L241.1 163.9L241.9 164.6L242.6 165.2L243.4 165.8L244.2 166.4L245 167.1L245.8 167.7L246.6 168.2L247.4 168.8L248.2 169.3L248.9 169.8L249.7 170.3L250.4 170.7L251.2 171.1L252.1 171.6L253.1 171.7L254 171.7L254 171.7Z"/>
<path d="M181 127L181 127L181.8 127L182.5 127L183.3 127L184.1 127L184.8 127L185.6 127L186.4 127L187.2 127L187.9 127L188.7 127L189.5 127L190.2 127L191 127L191.8 127L192.5 127L193.3 127L194.1 126.9L194.8 126.9L195.6 126.8L196.4 126.7L197.2 126.7L197.9 126.6L198.7 126.5L199.5 126.4L200.2 126.3L201 126.2L201.8 126.1L202.5 125.9L203.3 125.8L204.1 125.7L204.8 125.5L205.6 125.3L206.4 125.1L207.1 125L207.9 124.8L208.6 124.6L209.4 124.4L210.2 124.2L210.9 124.1L211.7 123.9L212.5 123.7L213.2 123.6L214 123.4L214.8 123.3L215.5 123.2L216.2 123L217 122.9L217.8 122.7L218.5 122.6L219.2 122.5L220 122.3L220.8 122.2L221.5 122L222.2 121.9L223 121.8L223.8 121.6L224.5 121.5L225.2 121.3L226 121.2L226.8 121.1L227.5 120.9L228.2 120.8L229 120.7L229.8 120.5L230.5 120.4L231.2 120.3L232 120.2L232.8 120L233.5 119.9L234.2 119.8L235 119.7L235.8 119.6L236.5 119.5L237.2 119.4L238 119.3L238.8 119.2L239.5 119.1L240.2 119L241 118.9L241.8 118.8L242.5 118.7L243.2 118.6L244 118.5L244.8 118.5L245.5 118.4L246.2 118.3L247 118.3L247.8 118.2L248.5 118.2L249.2 118.1L250 118.1L250.8 118.1L251.5 118L252.3 118L253.1 118L253.8 118L254.6 117.9L255.4 117.9L256.1 117.9L256.9 117.9L257.6 117.9L258.4 117.9L259.2 117.9L259.9 117.8L260.7 117.8L261.5 117.8L262.2 117.8L263 117.8L263.8 117.8L264.5 117.7L265.3 117.7L266.1 117.7L266.8 117.7L267.6 117.6L268.4 117.6L269.1 117.6L269.9 117.5L270.6 117.5L271.4 117.4L272.2 117.4L272.9 117.3L273.7 117.3L274.5 117.2L275.2 117.1L276 117L276.8 116.9L277.5 116.8L278.3 116.6L279 116.4L279.8 116.1L280.5 115.8L281.3 115.5L282.1 115.1L282.8 114.8L283.6 114.4L284.3 114L285.1 113.5L285.8 113.1L286.6 112.7L287.4 112.2L288.1 111.8L288.9 111.4L289.6 110.9L290.4 110.5L291.2 110.1L291.9 109.6L292.7 109.3L293.4 108.9L294.2 108.5L294.9 108.2L295.7 107.9L296.5 107.6L297.2 107.4L298 107.2L298.7 107L299.5 106.9L300.2 106.8L301 106.8L301.8 106.8L302.5 106.9L303.3 107L304 107.1L304.8 107.2L305.6 107.3L306.3 107.5L307.1 107.7L307.8 107.9L308.6 108.1L309.3 108.3L310.1 108.6L310.9 108.8L311.6 109L312.4 109.3L313.1 109.5L313.9 109.8L314.7 110L315.4 110.2L316.2 110.4L316.9 110.6L317.7 110.8L318.4 111L319.2 111.1L320 111.3L320.7 111.4L321.5 111.4L322.2 111.5L323 111.5L323.8 111.5L324.5 111.4L325.2 111.3L326 111.2L326.8 111.1L327.5 110.9L328.2 110.7L329 110.5L329.8 110.3L330.5 110L331.2 109.8L332 109.5L332.8 109.2L333.5 108.9L334.2 108.7L335 108.4L335.8 108.1L336.5 107.9L337.2 107.6L338 107.4L338.8 107.2L339.5 107L340.2 106.8L341 106.7L341.8 106.6L342.5 106.5L343.2 106.4L344 106.4L344.8 106.4L345.5 106.6L346.3 106.8L347.1 107.1L347.9 107.5L348.6 107.9L349.4 108.3L350.2 108.8L351 109.4L351.7 109.9L352.5 110.5L353.3 111.1L354.1 111.6L354.8 112.2L355.6 112.7L356.4 113.2L357.2 113.7L357.9 114.1L358.7 114.5L359.5 114.8L360.2 115.1L361 115.4L361.7 115.7L362.5 116L363.2 116.2L364 116.5L364.7 116.8L365.5 117L366.2 117.2L367 117.5L367.7 117.7L368.5 117.9L369.2 118.1L370 118.3L370.7 118.5L371.5 118.6L372.2 118.8L373 119L373.8 119.1L374.5 119.2L375.2 119.4L376 119.5L376.8 119.6L377.5 119.6L378.2 119.7L379 119.8L379.8 119.8L380.5 119.9L381.2 120L382 120L382.8 120.1L383.5 120.1L384.2 120.2L385 120.2L385.8 120.3L386.5 120.3L387.2 120.4L388 120.4L388.8 120.5L389.5 120.6L390.3 120.7L391.1 120.7L391.8 120.8L392.6 120.9L393.3 121L394.1 121L394.9 121.1L395.6 121.2L396.4 121.3L397.2 121.3L397.9 121.4L398.7 121.5L399.4 121.5L400.2 121.6L401 121.7L401.7 121.8L402.5 121.8L403.3 121.9L404 122L404.8 122L405.6 122.1L406.3 122.2L407.1 122.3L407.8 122.3L408.6 122.4L409.4 122.5L410.1 122.6L410.9 122.6L411.7 122.7L412.4 122.8L413.2 122.8L413.9 122.9L414.7 123L415.5 123.1L416.2 123.1L417 123.2L417.8 123.3L418.5 123.4L419.3 123.4L420 123.5L420.8 123.6L421.6 123.7L422.3 123.8L423.1 123.8L423.8 123.9L424.6 124L425.3 124.1L426.1 124.2L426.9 124.3L427.6 124.3L428.4 124.4L429.1 124.5L429.9 124.6L430.7 124.7L431.4 124.8L432.2 124.8L432.9 124.9L433.7 125L434.5 125.1L435.2 125.2L436 125.2L436.7 125.3L437.5 125.4L438.3 125.5L439 125.6L439.8 125.6L440.5 125.7L441.3 125.8L442 125.8L442.8 125.9L443.6 126L444.3 126L445.1 126.1L445.8 126.1L446.6 126.2L447.4 126.2L448.1 126.3L448.9 126.3L449.6 126.4L450.4 126.4L451.1 126.5L451.9 126.5L452.6 126.6L453.4 126.6L454.1 126.7L454.9 126.7L455.6 126.7L456.4 126.8L457.1 126.8L457.9 126.8L458.7 126.9L459.4 126.9L460.2 126.9L460.9 126.9L461.7 127L462.4 127L463.2 127L463.9 127L464.7 127L465.4 127L466.2 127L466.9 127L467.7 127L468.4 127L469.2 127L469.9 127L470.7 127L471.5 127L472.2 127L473 127L473.7 127L474.5 127L475.2 127L476 127L476.7 127L477.5 127L478.2 127L479 127L479.7 127L480.5 127L481.2 127L482 127L482 127Z"/>
<path d="M156 216.4L156 216.4L156.8 216.4L157.5 216.4L158.2 216.4L159 216.4L159.8 216.4L160.5 216.4L161.2 216.4L162 216.4L162.8 216.4L163.5 216.4L164.2 216.4L165 216.4L165.8 216.4L166.5 216.4L167.2 216.4L168 216.4L168.8 216.3L169.5 216.3L170.2 216.2L171 216.1L171.8 216.1L172.5 216L173.2 215.9L174 215.9L174.8 215.8L175.5 215.7L176.2 215.6L177 215.5L177.8 215.4L178.5 215.3L179.2 215.1L180 215L180.8 214.9L181.5 214.7L182.3 214.6L183.1 214.4L183.8 214.3L184.6 214.1L185.4 214L186.1 213.8L186.9 213.7L187.7 213.5L188.4 213.3L189.2 213.1L190 213L190.7 212.8L191.5 212.6L192.3 212.4L193 212.2L193.8 212L194.6 211.7L195.3 211.5L196.1 211.3L196.9 211L197.6 210.7L198.4 210.5L199.2 210.2L199.9 209.9L200.7 209.6L201.5 209.3L202.2 209L203 208.6L203.8 208.2L204.6 207.8L205.4 207.4L206.1 206.9L206.9 206.4L207.7 205.8L208.5 205.3L209.3 204.8L210.1 204.2L210.9 203.7L211.6 203.2L212.4 202.7L213.2 202.2L214 201.8L214.8 201.4L215.5 201L216.2 200.6L217 200.2L217.8 199.8L218.5 199.4L219.2 199L220 198.6L220.8 198.2L221.5 197.9L222.2 197.5L223 197.2L223.8 196.9L224.5 196.7L225.2 196.4L226 196.2L226.8 196.1L227.5 195.9L228.2 195.9L229 195.8L229.8 195.9L230.6 195.9L231.4 196L232.1 196.1L232.9 196.2L233.7 196.4L234.5 196.6L235.3 196.8L236.1 197L236.9 197.3L237.6 197.5L238.4 197.8L239.2 198.1L240 198.4L240.8 198.7L241.6 199.1L242.4 199.4L243.1 199.8L243.9 200.3L244.7 200.7L245.5 201.1L246.3 201.6L247.1 202.1L247.9 202.5L248.6 203L249.4 203.5L250.2 203.9L251 204.4L251.8 204.8L252.5 205.2L253.3 205.7L254.1 206.1L254.8 206.6L255.6 207L256.4 207.5L257.1 207.9L257.9 208.4L258.6 208.8L259.4 209.3L260.2 209.7L260.9 210.2L261.7 210.6L262.5 211L263.2 211.4L264 211.8L264.8 212.2L265.5 212.6L266.2 212.9L267 213.3L267.8 213.6L268.5 214L269.2 214.3L270 214.6L270.8 215L271.5 215.3L272.2 215.6L273 215.9L273.8 216.2L274.6 216.4L275.4 216.4L276.2 216.4L277 216.4L277 216.4Z"/>
<path d="M175.5 284.6L175.5 284.6L176.3 284.6L177 284.6L177.8 284.6L178.5 284.6L179.3 284.6L180 284.6L180.8 284.6L181.5 284.6L182.3 284.5L183.1 284.4L183.8 284.3L184.6 284.3L185.3 284.2L186.1 284.1L186.8 284L187.6 283.9L188.3 283.8L189.1 283.7L189.8 283.6L190.6 283.5L191.4 283.4L192.1 283.3L192.9 283.2L193.6 283.1L194.4 282.9L195.1 282.8L195.9 282.6L196.6 282.5L197.4 282.3L198.2 282.2L198.9 282L199.7 281.8L200.4 281.6L201.2 281.4L201.9 281.2L202.7 281L203.4 280.8L204.2 280.6L205 280.4L205.7 280.2L206.5 279.9L207.2 279.7L208 279.4L208.7 279.1L209.5 278.9L210.2 278.6L211 278.3L211.8 278L212.5 277.7L213.3 277.3L214 276.9L214.8 276.6L215.5 276.2L216.3 275.8L217 275.4L217.8 275L218.5 274.6L219.3 274.2L220.1 273.9L220.8 273.4L221.6 273L222.4 272.6L223.1 272.2L223.9 271.8L224.7 271.3L225.4 270.9L226.2 270.5L227 270.1L227.8 269.7L228.5 269.3L229.3 268.9L230.1 268.5L230.8 268.2L231.6 267.9L232.4 267.5L233.2 267.3L233.9 267L234.7 266.7L235.5 266.5L236.3 266.2L237.1 266L237.8 265.8L238.6 265.6L239.4 265.4L240.2 265.2L240.9 265L241.7 264.8L242.5 264.7L243.3 264.5L244.1 264.3L245 264.2L245.8 264.1L246.6 264L247.4 264L248.2 264.1L249 264.3L249.7 264.4L250.5 264.7L251.3 264.9L252.1 265.2L252.9 265.5L253.7 265.9L254.5 266.3L255.2 266.6L256 267L256.8 267.4L257.6 267.9L258.4 268.3L259.2 268.8L260.1 269.4L260.9 270L261.7 270.6L262.5 271.2L263.3 271.9L264.2 272.5L265 273.1L265.8 273.6L266.6 274.1L267.4 274.6L268.3 275L269.1 275.4L269.9 275.9L270.7 276.3L271.5 276.7L272.4 277.2L273.2 277.7L274 278.3L274.8 278.9L275.6 279.7L276.4 280.4L277.1 281.2L277.9 282L278.7 282.6L279.5 283.2L280.3 283.6L281 283.9L281.8 284.2L282.5 284.4L283.3 284.6L284 284.6L284.8 284.6L285.5 284.6L286.3 284.6L286.3 284.6Z"/>
<path d="M232 173.1L232 173.1L232.8 173.1L233.5 173.1L234.3 173.1L235 173.1L235.8 173.1L236.5 173.1L237.3 173.1L238.1 173.1L238.8 173.1L239.6 173L240.3 173L241.1 172.9L241.8 172.8L242.6 172.8L243.4 172.7L244.1 172.6L244.9 172.6L245.6 172.5L246.4 172.4L247.1 172.4L247.9 172.3L248.6 172.2L249.4 172.1L250.2 172L250.9 172L251.7 171.9L252.4 171.8L253.2 171.7L253.9 171.6L254.7 171.5L255.5 171.4L256.2 171.2L257 171.1L257.7 171L258.5 170.9L259.2 170.7L260 170.6L260.8 170.4L261.5 170.3L262.2 170.1L263 169.9L263.8 169.8L264.5 169.6L265.2 169.4L266 169.2L266.8 169L267.5 168.8L268.2 168.5L269 168.3L269.8 168.1L270.5 167.9L271.2 167.7L272 167.4L272.8 167.2L273.5 167L274.2 166.8L275 166.5L275.8 166.3L276.5 166.1L277.2 165.9L278 165.7L278.8 165.6L279.5 165.4L280.2 165.2L281 165L281.8 164.8L282.5 164.5L283.2 164.3L284 164L284.8 163.7L285.5 163.4L286.2 163.1L287 162.7L287.8 162.3L288.5 161.8L289.2 161.2L290 160.5L290.8 159.8L291.5 159.1L292.2 158.4L293 157.7L293.8 156.9L294.5 156.2L295.2 155.6L296 154.9L296.8 154.4L297.5 153.9L298.2 153.5L299 153.2L299.8 153L300.5 152.9L301.3 152.9L302 153L302.8 153.1L303.5 153.2L304.3 153.4L305.1 153.6L305.8 153.8L306.6 154L307.3 154.3L308.1 154.5L308.9 154.8L309.6 155.1L310.4 155.3L311.2 155.6L311.9 155.8L312.7 156.1L313.4 156.3L314.2 156.5L315 156.6L315.7 156.8L316.5 156.9L317.2 156.9L318 157L318.8 156.9L319.6 156.8L320.4 156.6L321.1 156.4L321.9 156.2L322.7 155.9L323.5 155.6L324.3 155.3L325.1 155L325.9 154.7L326.6 154.5L327.4 154.3L328.2 154.2L329 154.2L329.8 154.2L330.5 154.2L331.2 154.2L332 154.2L332.8 154.2L333.5 154.2L334.2 154.2L335 154.2L335.8 154.3L336.5 154.3L337.2 154.3L338 154.4L338.8 154.4L339.5 154.4L340.2 154.5L341 154.6L341.8 154.6L342.5 154.7L343.2 154.8L344 154.9L344.8 155L345.5 155.2L346.2 155.3L347 155.5L347.8 155.6L348.5 155.8L349.2 156L350 156.3L350.8 156.5L351.5 156.8L352.2 157L353 157.3L353.8 157.6L354.5 157.9L355.2 158.2L356 158.6L356.8 158.9L357.5 159.2L358.2 159.6L359 159.9L359.8 160.3L360.5 160.7L361.2 161.1L362 161.6L362.8 162L363.5 162.5L364.2 162.9L365 163.4L365.8 163.9L366.5 164.3L367.2 164.8L368 165.3L368.8 165.8L369.6 166.3L370.3 166.8L371.1 167.4L371.9 167.9L372.7 168.4L373.4 168.9L374.2 169.2L375 169.5L375.8 169.7L376.5 170L377.3 170.1L378 170.3L378.8 170.5L379.5 170.6L380.3 170.8L381.1 170.9L381.8 171L382.6 171.1L383.3 171.2L384.1 171.3L384.8 171.4L385.6 171.4L386.4 171.5L387.1 171.5L387.9 171.6L388.6 171.6L389.4 171.7L390.2 171.7L390.9 171.7L391.7 171.8L392.4 171.8L393.2 171.8L393.9 171.8L394.7 171.9L395.5 171.9L396.2 171.9L397 171.9L397.7 172L398.5 172L399.2 172L400 172.1L400.8 172.1L401.5 172.2L402.2 172.2L403 172.2L403.8 172.3L404.5 172.3L405.2 172.4L406 172.4L406.8 172.4L407.5 172.4L408.2 172.5L409 172.5L409.8 172.5L410.5 172.6L411.2 172.6L412 172.6L412.8 172.6L413.5 172.7L414.2 172.7L415 172.7L415.8 172.7L416.5 172.8L417.2 172.8L418 172.8L418.8 172.8L419.5 172.8L420.2 172.9L421 172.9L421.8 172.9L422.5 172.9L423.2 172.9L424 173L424.8 173L425.5 173L426.2 173L427 173.1L427.8 173.1L428.5 173.1L429.2 173.1L430 173.1L430.8 173.1L431.5 173.1L432.3 173.1L433.1 173.1L433.8 173.1L434.6 173.1L435.4 173.1L436.2 173.1L436.9 173.1L437.7 173.1L438.5 173.1L439.2 173.1L440 173.1L440.8 173.1L441.5 173.1L442.3 173.1L443.1 173.1L443.8 173.1L444.6 173.1L445.4 173.1L446.2 173.1L446.9 173.1L447.7 173.1L448.5 173.1L449.2 173.1L450 173.1L450 173.1Z"/>
<path d="M304.4 183.7L304.4 183.7L305.2 183.7L306 183.7L306.7 183.7L307.5 183.7L308.3 183.7L309.1 183.6L309.8 183.5L310.6 183.3L311.4 183.2L312.2 183L312.9 182.9L313.7 182.7L314.5 182.5L315.3 182.3L316 182L316.8 181.8L317.6 181.4L318.4 181.1L319.2 180.7L319.9 180.2L320.7 179.7L321.5 179.2L322.3 178.6L323.1 178.1L323.8 177.5L324.6 177L325.4 176.4L326.2 175.9L327 175.4L327.7 175L328.5 174.6L329.3 174.2L330.1 173.9L330.8 173.6L331.6 173.4L332.3 173.1L333.1 172.9L333.8 172.7L334.6 172.5L335.4 172.3L336.1 172.1L336.9 171.9L337.6 171.8L338.4 171.6L339.2 171.5L339.9 171.3L340.7 171.2L341.4 171.1L342.2 171L342.9 170.9L343.7 170.8L344.5 170.7L345.2 170.6L346 170.5L346.7 170.4L347.5 170.4L348.3 170.3L349 170.2L349.8 170.1L350.5 170L351.3 169.9L352 169.8L352.8 169.7L353.6 169.6L354.3 169.5L355.1 169.5L355.8 169.4L356.6 169.3L357.4 169.3L358.1 169.2L358.9 169.1L359.6 169.1L360.4 169L361.2 169L361.9 169L362.7 168.9L363.4 168.9L364.2 168.8L364.9 168.8L365.7 168.8L366.5 168.7L367.2 168.7L368 168.6L368.7 168.6L369.5 168.6L370.3 168.5L371 168.4L371.8 168.4L372.5 168.3L373.3 168.2L374.1 168.2L374.8 168.1L375.6 168L376.3 167.9L377.1 167.8L377.8 167.7L378.6 167.6L379.4 167.5L380.1 167.5L380.9 167.4L381.6 167.3L382.4 167.2L383.2 167.1L383.9 166.9L384.7 166.8L385.4 166.7L386.2 166.6L386.9 166.5L387.7 166.4L388.5 166.3L389.2 166.2L390 166.1L390.7 166L391.5 165.9L392.3 165.8L393 165.7L393.8 165.6L394.5 165.5L395.3 165.4L396 165.3L396.8 165.3L397.6 165.2L398.3 165.1L399.1 165L399.8 164.9L400.6 164.8L401.4 164.7L402.1 164.6L402.9 164.5L403.6 164.4L404.4 164.3L405.2 164.1L405.9 164L406.7 163.9L407.4 163.8L408.2 163.8L408.9 163.7L409.7 163.6L410.5 163.5L411.2 163.4L412 163.4L412.7 163.3L413.5 163.3L414.3 163.2L415 163.2L415.8 163.1L416.5 163.1L417.3 163.1L418.1 163.1L418.8 163.1L419.6 163.1L420.4 163.2L421.2 163.2L421.9 163.2L422.7 163.2L423.5 163.3L424.3 163.3L425 163.3L425.8 163.4L426.6 163.4L427.4 163.5L428.1 163.6L428.9 163.6L429.7 163.7L430.5 163.8L431.2 163.9L432 164L432.8 164.1L433.5 164.2L434.3 164.3L435 164.4L435.8 164.6L436.6 164.7L437.3 164.8L438.1 165L438.8 165.1L439.6 165.3L440.4 165.4L441.1 165.6L441.9 165.8L442.6 165.9L443.4 166.1L444.1 166.3L444.9 166.5L445.7 166.6L446.4 166.8L447.2 167L447.9 167.2L448.7 167.3L449.5 167.5L450.2 167.7L451 167.9L451.7 168.1L452.5 168.2L453.3 168.4L454 168.6L454.8 168.8L455.5 169L456.3 169.2L457 169.4L457.8 169.6L458.6 169.8L459.3 170L460.1 170.2L460.8 170.4L461.6 170.6L462.4 170.8L463.1 171L463.9 171.2L464.6 171.4L465.4 171.7L466.1 171.9L466.9 172.1L467.7 172.3L468.4 172.5L469.2 172.7L469.9 172.8L470.7 173L471.5 173.2L472.2 173.4L473 173.6L473.7 173.7L474.5 173.9L475.2 174.1L476 174.2L476.8 174.3L477.5 174.5L478.3 174.6L479 174.8L479.8 174.9L480.5 175.1L481.3 175.2L482 175.3L482.8 175.5L483.5 175.6L484.3 175.7L485.1 175.8L485.8 176L486.6 176.1L487.3 176.2L488.1 176.3L488.8 176.4L489.6 176.5L490.3 176.6L491.1 176.7L491.9 176.8L492.6 176.8L493.4 176.9L494.1 177L494.9 177L495.6 177.1L496.4 177.1L497.1 177.1L497.9 177.2L498.6 177.2L499.4 177.2L500.2 177.2L500.9 177.1L501.7 177.1L502.4 177L503.2 176.9L503.9 176.8L504.7 176.7L505.5 176.6L506.2 176.4L507 176.3L507.7 176.1L508.5 176L509.3 175.8L510 175.6L510.8 175.5L511.5 175.3L512.3 175.1L513 174.9L513.8 174.8L514.6 174.6L515.3 174.5L516.1 174.3L516.8 174.2L517.6 174L518.4 173.9L519.1 173.8L519.9 173.7L520.6 173.7L521.4 173.6L522.1 173.6L522.9 173.6L523.7 173.6L524.5 173.6L525.2 173.7L526 173.7L526.8 173.8L527.6 173.9L528.4 174.1L529.1 174.2L529.9 174.4L530.7 174.6L531.5 174.8L532.3 175L533 175.2L533.8 175.4L534.6 175.7L535.4 176L536.1 176.3L536.9 176.6L537.7 177L538.5 177.4L539.2 177.8L540 178.2L540.8 178.6L541.6 179.1L542.3 179.5L543.1 179.9L543.9 180.4L544.7 180.8L545.4 181.2L546.2 181.6L547 182L547.8 182.3L548.5 182.6L549.3 182.9L550.1 183.2L551 183.4L551.8 183.6L552.6 183.7L553.5 183.7L554.3 183.7L555.2 183.7L556 183.7L556 183.7Z"/>
<path d="M198.7 396.2L198.7 396.2L199.5 396.2L200.2 396.2L201 396.2L201.8 396.2L202.5 396.2L203.3 396.2L204.1 396.2L204.8 396.1L205.6 396L206.4 395.9L207.2 395.8L207.9 395.6L208.7 395.5L209.5 395.4L210.2 395.3L211 395.1L211.8 395L212.6 394.9L213.4 394.7L214.2 394.6L215 394.4L215.8 394.2L216.6 394.1L217.4 393.9L218.2 393.7L219 393.5L219.8 393.3L220.6 393L221.4 392.8L222.1 392.5L222.9 392.3L223.7 392L224.5 391.8L225.2 391.5L226 391.2L226.8 391L227.6 390.7L228.3 390.4L229.1 390.1L229.9 389.8L230.7 389.5L231.4 389.2L232.2 388.9L233 388.5L233.8 388.2L234.5 387.9L235.3 387.6L236.1 387.2L236.9 386.9L237.6 386.5L238.4 386.2L239.2 385.8L240 385.4L240.9 385L241.7 384.6L242.5 384.1L243.3 383.7L244.1 383.2L245 382.8L245.8 382.4L246.6 381.9L247.4 381.5L248.1 381.1L248.9 380.7L249.6 380.2L250.4 379.8L251.2 379.3L251.9 378.8L252.7 378.3L253.4 377.9L254.2 377.5L255 377.1L255.7 376.7L256.5 376.4L257.3 376.1L258 375.9L258.8 375.7L259.5 375.6L260.3 375.6L261.1 375.6L261.9 375.8L262.7 376.1L263.4 376.5L264.2 376.9L265 377.3L265.8 377.7L266.6 378.1L267.4 378.5L268.3 379L269.1 379.4L269.9 379.9L270.7 380.4L271.5 380.9L272.4 381.4L273.2 381.9L274 382.4L274.8 382.9L275.6 383.5L276.4 384.1L277.1 384.7L277.9 385.2L278.7 385.6L279.5 385.8L280.3 385.9L281.1 385.9L282 385.9L282.8 386L283.6 386.2L284.4 386.7L285.2 387.6L286.1 388.7L286.9 389.9L287.7 391.1L288.6 392.5L289.5 394L290.4 395.1L291.2 395.8L292 396.1L292.9 396.2L293.7 396.2L294.5 396.2L294.5 396.2Z"/>
<path d="M253 246.2L253 246.2L253.8 246.2L254.5 246.2L255.2 246.1L256 245.9L256.8 245.6L257.5 245.3L258.2 245L259 244.8L259.8 244.5L260.5 244.2L261.2 244L262 243.7L262.8 243.4L263.5 243.2L264.2 242.9L265 242.7L265.8 242.4L266.5 242.2L267.3 241.9L268.1 241.7L268.8 241.5L269.6 241.3L270.4 241.1L271.1 240.9L271.9 240.7L272.7 240.5L273.4 240.3L274.2 240.1L275 239.9L275.7 239.7L276.5 239.5L277.3 239.2L278 239L278.8 238.8L279.6 238.6L280.3 238.3L281.1 238.1L281.9 237.8L282.6 237.5L283.4 237.3L284.2 237L284.9 236.6L285.7 236.3L286.5 236L287.2 235.6L288 235.2L288.8 234.8L289.5 234.3L290.2 233.8L291 233.3L291.8 232.7L292.5 232.1L293.2 231.5L294 230.9L294.8 230.3L295.5 229.7L296.2 229.1L297 228.5L297.8 228L298.5 227.5L299.2 227.1L300 226.7L300.8 226.3L301.7 226.1L302.5 225.9L303.3 225.7L304.2 225.7L305 225.6L305.8 225.7L306.6 226L307.3 226.5L308.1 227L308.9 227.7L309.7 228.3L310.4 228.9L311.2 229.4L312 229.9L312.8 230.2L313.5 230.6L314.2 230.9L315 231.2L315.8 231.6L316.5 231.9L317.2 232.1L318 232.4L318.8 232.7L319.5 233L320.2 233.2L321 233.5L321.8 233.7L322.5 233.9L323.2 234.2L324 234.4L324.8 234.6L325.5 234.8L326.2 235L327 235.2L327.8 235.4L328.5 235.5L329.3 235.7L330.1 235.8L330.8 235.8L331.6 235.9L332.4 236L333.2 236.1L333.9 236.2L334.7 236.3L335.5 236.5L336.2 236.7L337 236.9L337.8 237.2L338.5 237.5L339.3 237.9L340.1 238.3L340.8 238.7L341.6 239.1L342.4 239.6L343.1 240L343.9 240.5L344.6 241L345.4 241.4L346.2 241.9L346.9 242.3L347.7 242.7L348.5 243.1L349.2 243.4L350 243.7L350.8 244L351.6 244.3L352.3 244.5L353.1 244.7L353.9 244.9L354.7 245.1L355.4 245.3L356.2 245.4L357 245.6L357.8 245.7L358.6 245.9L359.3 246L360.1 246.2L360.9 246.2L361.7 246.2L362.4 246.2L363.2 246.2L364 246.2L364 246.2Z"/>
<path d="M279 217.4L279 217.4L279.8 217.4L280.5 217.4L281.3 217.4L282.1 217.1L282.8 216.9L283.6 216.6L284.3 216.4L285.1 216.2L285.9 215.9L286.6 215.7L287.4 215.4L288.2 215.2L288.9 215L289.7 214.7L290.4 214.5L291.2 214.2L292 214L292.7 213.8L293.5 213.5L294.3 213.3L295 213L295.8 212.8L296.6 212.6L297.3 212.3L298.1 212.1L298.8 211.8L299.6 211.5L300.4 211.3L301.1 211L301.9 210.8L302.7 210.5L303.4 210.2L304.2 210L304.9 209.7L305.7 209.4L306.5 209.1L307.2 208.8L308 208.5L308.8 208.2L309.5 207.9L310.2 207.6L311 207.3L311.8 207L312.5 206.6L313.2 206.3L314 205.9L314.8 205.6L315.5 205.2L316.2 204.9L317 204.6L317.8 204.2L318.5 203.9L319.2 203.5L320 203.2L320.8 202.9L321.5 202.5L322.2 202.1L323 201.7L323.8 201.3L324.5 200.9L325.2 200.4L326 200L326.8 199.6L327.5 199.2L328.2 198.8L329 198.4L329.8 198.1L330.5 197.8L331.2 197.5L332 197.3L332.8 197.1L333.5 196.9L334.2 196.8L335 196.8L335.8 196.8L336.5 196.8L337.2 196.8L338 196.8L338.8 196.8L339.5 196.8L340.2 196.8L341 196.8L341.8 196.9L342.5 196.9L343.2 196.9L344 196.9L344.8 196.9L345.5 197L346.2 197L347 197L347.8 197.1L348.5 197.1L349.2 197.2L350 197.2L350.8 197.3L351.5 197.5L352.3 197.6L353.1 197.8L353.8 198L354.6 198.3L355.4 198.5L356.2 198.8L356.9 199.2L357.7 199.5L358.5 199.9L359.2 200.2L360 200.6L360.8 201L361.5 201.4L362.3 201.8L363.1 202.2L363.8 202.6L364.6 202.9L365.4 203.3L366.2 203.7L366.9 204.1L367.7 204.4L368.5 204.7L369.2 205L370 205.3L370.8 205.6L371.5 205.9L372.3 206.2L373.1 206.4L373.8 206.7L374.6 207L375.4 207.3L376.2 207.5L376.9 207.8L377.7 208.1L378.5 208.3L379.2 208.6L380 208.9L380.8 209.1L381.5 209.4L382.3 209.6L383.1 209.8L383.8 210.1L384.6 210.3L385.4 210.5L386.2 210.7L386.9 210.9L387.7 211.2L388.5 211.4L389.2 211.5L390 211.7L390.8 211.9L391.5 212L392.3 212.2L393.1 212.3L393.8 212.4L394.6 212.5L395.4 212.6L396.2 212.7L396.9 212.7L397.7 212.8L398.5 213L399.2 213.1L400 213.2L400.8 213.4L401.5 213.5L402.3 213.7L403.1 213.9L403.8 214L404.6 214.2L405.4 214.4L406.2 214.6L406.9 214.8L407.7 215L408.5 215.2L409.2 215.4L410 215.5L410.8 215.7L411.5 215.9L412.3 216.1L413.1 216.3L413.8 216.5L414.6 216.7L415.4 216.9L416.2 217.1L416.9 217.3L417.7 217.4L418.5 217.4L419.2 217.4L420 217.4L420 217.4Z"/>
<path d="M323 229.8L323 229.8L323.8 229.8L324.5 229.8L325.3 229.4L326 229.1L326.8 228.7L327.6 228.4L328.3 228L329.1 227.7L329.8 227.3L330.6 227L331.3 226.6L332.1 226.3L332.9 225.9L333.6 225.6L334.4 225.2L335.1 224.9L335.9 224.5L336.7 224.1L337.4 223.8L338.2 223.4L338.9 223L339.7 222.7L340.4 222.3L341.2 221.9L342 221.5L342.7 221.1L343.5 220.7L344.2 220.3L345 219.9L345.8 219.4L346.5 218.9L347.2 218.4L348 217.8L348.8 217.2L349.5 216.5L350.2 215.9L351 215.3L351.8 214.7L352.5 214.2L353.2 213.7L354 213.3L354.8 212.9L355.5 212.7L356.2 212.5L357 212.4L357.8 212.4L358.5 212.5L359.3 212.5L360 212.6L360.8 212.6L361.6 212.7L362.3 212.8L363.1 212.9L363.8 213.1L364.6 213.2L365.4 213.3L366.1 213.4L366.9 213.6L367.6 213.7L368.4 213.8L369.2 213.9L369.9 214L370.7 214.1L371.4 214.2L372.2 214.3L373 214.4L373.7 214.5L374.5 214.5L375.2 214.5L376 214.6L376.8 214.5L377.5 214.2L378.3 213.8L379.1 213.4L379.8 212.8L380.6 212.2L381.4 211.6L382.2 211L382.9 210.4L383.7 209.9L384.5 209.6L385.2 209.3L386 209.2L386.8 209.2L387.5 209.2L388.3 209.3L389.1 209.3L389.8 209.4L390.6 209.4L391.4 209.5L392.2 209.5L392.9 209.6L393.7 209.7L394.5 209.8L395.2 209.9L396 210.1L396.8 210.2L397.5 210.3L398.3 210.5L399.1 210.6L399.8 210.8L400.6 211L401.4 211.2L402.2 211.3L402.9 211.5L403.7 211.7L404.5 212L405.2 212.2L406 212.4L406.8 212.7L407.6 213L408.3 213.3L409.1 213.6L409.9 214L410.7 214.3L411.4 214.7L412.2 215.1L413 215.5L413.8 215.9L414.6 216.3L415.3 216.7L416.1 217.1L416.9 217.5L417.7 217.9L418.4 218.2L419.2 218.5L420 218.8L420.8 219.1L421.5 219.3L422.3 219.6L423.1 219.8L423.8 220.1L424.6 220.3L425.4 220.5L426.2 220.7L426.9 221L427.7 221.2L428.5 221.4L429.2 221.6L430 221.7L430.8 221.9L431.5 222.1L432.3 222.3L433.1 222.5L433.8 222.7L434.6 222.8L435.4 223L436.2 223.2L436.9 223.4L437.7 223.6L438.5 223.8L439.2 223.9L440 224.1L440.8 224.3L441.5 224.5L442.3 224.7L443.1 225L443.8 225.2L444.6 225.4L445.4 225.6L446.2 225.8L446.9 226L447.7 226.2L448.5 226.4L449.2 226.6L450 226.8L450.8 227.1L451.5 227.3L452.3 227.4L453.1 227.6L453.8 227.8L454.6 228L455.4 228.2L456.2 228.3L456.9 228.5L457.7 228.6L458.5 228.8L459.2 228.9L460 229L460.8 229.1L461.5 229.3L462.3 229.3L463.1 229.4L463.8 229.5L464.6 229.6L465.4 229.7L466.1 229.7L466.9 229.8L467.6 229.8L468.4 229.8L469.2 229.8L469.9 229.8L470.7 229.8L471.5 229.8L472.2 229.8L473 229.8L473.8 229.8L474.5 229.8L475.3 229.8L476.1 229.8L476.8 229.8L477.6 229.8L478.4 229.8L479.1 229.8L479.9 229.8L480.6 229.8L481.4 229.8L482.2 229.8L482.9 229.8L483.7 229.8L484.5 229.8L485.2 229.8L486 229.8L486 229.8Z"/>
<path d="M335 240.5L335 240.5L335.8 240.5L336.5 240.5L337.3 240.5L338 240.3L338.8 240.1L339.6 239.9L340.3 239.7L341.1 239.5L341.8 239.3L342.6 239.1L343.3 238.9L344.1 238.7L344.9 238.5L345.6 238.2L346.4 238L347.1 237.8L347.9 237.6L348.7 237.4L349.4 237.2L350.2 237L350.9 236.7L351.7 236.5L352.4 236.3L353.2 236L354 235.8L354.7 235.5L355.5 235.3L356.2 235L357 234.8L357.8 234.5L358.5 234.2L359.3 233.9L360.1 233.6L360.8 233.3L361.6 233L362.3 232.7L363.1 232.3L363.9 232L364.6 231.7L365.4 231.3L366.2 231L366.9 230.6L367.7 230.3L368.4 229.9L369.2 229.5L370 229.2L370.7 228.8L371.5 228.5L372.3 228.1L373 227.8L373.8 227.4L374.6 227.1L375.3 226.7L376.1 226.4L376.8 226.1L377.6 225.8L378.4 225.4L379.1 225.1L379.9 224.8L380.7 224.5L381.4 224.3L382.2 224L382.9 223.7L383.7 223.5L384.5 223.3L385.2 223.1L386 222.8L386.8 222.7L387.5 222.5L388.3 222.3L389.1 222.1L389.8 222L390.6 221.8L391.3 221.7L392.1 221.5L392.9 221.4L393.6 221.3L394.4 221.2L395.2 221L395.9 220.9L396.7 220.8L397.4 220.7L398.2 220.7L399 220.6L399.7 220.5L400.5 220.4L401.3 220.4L402 220.3L402.8 220.2L403.6 220.2L404.3 220.1L405.1 220.1L405.8 220.1L406.6 220L407.4 220L408.1 220L408.9 219.9L409.7 219.9L410.4 219.9L411.2 219.9L411.9 219.9L412.7 219.9L413.5 219.9L414.2 219.9L415 219.9L415.8 219.9L416.5 219.9L417.3 219.9L418 219.9L418.8 220L419.5 220L420.3 220L421.1 220.1L421.8 220.2L422.6 220.2L423.3 220.3L424.1 220.4L424.8 220.5L425.6 220.5L426.4 220.6L427.1 220.7L427.9 220.8L428.6 221L429.4 221.1L430.2 221.2L430.9 221.3L431.7 221.4L432.4 221.6L433.2 221.7L433.9 221.8L434.7 222L435.5 222.1L436.2 222.3L437 222.4L437.7 222.6L438.5 222.7L439.2 222.9L440 223.1L440.8 223.2L441.5 223.4L442.3 223.6L443 223.8L443.8 224L444.5 224.2L445.3 224.4L446.1 224.6L446.8 224.9L447.6 225.1L448.3 225.3L449.1 225.6L449.8 225.8L450.6 226.1L451.4 226.3L452.1 226.6L452.9 226.8L453.6 227.1L454.4 227.3L455.1 227.6L455.9 227.8L456.6 228.1L457.4 228.3L458.2 228.6L458.9 228.9L459.7 229.1L460.4 229.4L461.2 229.6L461.9 229.8L462.7 230.1L463.5 230.3L464.2 230.5L465 230.8L465.7 231L466.5 231.2L467.2 231.4L468 231.6L468.8 231.8L469.5 232L470.3 232.2L471.1 232.3L471.8 232.5L472.6 232.7L473.4 232.9L474.2 233.1L474.9 233.2L475.7 233.4L476.5 233.6L477.2 233.7L478 233.9L478.8 234.1L479.5 234.2L480.3 234.4L481.1 234.5L481.8 234.7L482.6 234.8L483.4 234.9L484.2 235.1L484.9 235.2L485.7 235.3L486.5 235.4L487.2 235.5L488 235.6L488.8 235.7L489.6 235.8L490.3 235.9L491.1 236L491.9 236.1L492.7 236.1L493.4 236.2L494.2 236.2L495 236.3L495.8 236.3L496.6 236.4L497.3 236.4L498.1 236.4L498.9 236.4L499.7 236.5L500.4 236.5L501.2 236.5L502 236.5L502.8 236.5L503.5 236.5L504.3 236.4L505 236.4L505.8 236.3L506.6 236.2L507.3 236.2L508.1 236.1L508.8 236L509.6 235.9L510.4 235.8L511.1 235.7L511.9 235.6L512.6 235.5L513.4 235.4L514.2 235.3L514.9 235.2L515.7 235.1L516.4 235L517.2 235L518 234.9L518.7 234.8L519.5 234.8L520.2 234.8L521 234.8L521.8 234.8L522.5 234.9L523.3 235L524 235.2L524.8 235.4L525.6 235.6L526.3 235.9L527.1 236.2L527.9 236.5L528.6 236.8L529.4 237.2L530.1 237.5L530.9 237.9L531.7 238.2L532.4 238.5L533.2 238.9L534 239.2L534.7 239.4L535.5 239.7L536.2 239.9L537 240.1L537.8 240.3L538.6 240.4L539.4 240.5L540.1 240.5L540.9 240.5L541.7 240.5L542.5 240.5L543.3 240.5L544.1 240.5L544.9 240.5L545.6 240.5L546.4 240.5L547.2 240.5L548 240.5L548 240.5Z"/>
<path d="M279 275L279 275L279.8 275L280.5 275L281.3 274.8L282 274.4L282.8 274.1L283.6 273.8L284.3 273.4L285.1 273.1L285.8 272.8L286.6 272.4L287.4 272.1L288.1 271.8L288.9 271.4L289.6 271.1L290.4 270.8L291.2 270.4L291.9 270.1L292.7 269.8L293.4 269.5L294.2 269.2L295 268.8L295.7 268.5L296.5 268.2L297.2 267.9L298 267.6L298.8 267.4L299.5 267.1L300.3 266.8L301.1 266.5L301.8 266.3L302.6 266L303.3 265.8L304.1 265.5L304.9 265.3L305.6 265.1L306.4 264.8L307.2 264.6L307.9 264.4L308.7 264.1L309.4 263.9L310.2 263.7L311 263.5L311.7 263.2L312.5 263L313.3 262.8L314 262.5L314.8 262.3L315.6 262.1L316.3 261.8L317.1 261.6L317.8 261.4L318.6 261.1L319.4 260.8L320.1 260.6L320.9 260.3L321.7 260L322.4 259.7L323.2 259.5L323.9 259.2L324.7 258.8L325.5 258.5L326.2 258.2L327 257.9L327.8 257.4L328.5 256.9L329.2 256.4L330 255.8L330.8 255.3L331.5 254.8L332.2 254.6L333 254.4L333.8 254.5L334.6 254.5L335.3 254.6L336.1 254.8L336.9 254.9L337.7 255.1L338.4 255.3L339.2 255.6L340 255.8L340.8 256.1L341.6 256.4L342.3 256.7L343.1 257L343.9 257.4L344.7 257.7L345.4 258L346.2 258.4L347 258.7L347.8 259L348.5 259.4L349.3 259.8L350 260.2L350.8 260.6L351.5 261L352.3 261.4L353.1 261.9L353.8 262.3L354.6 262.8L355.3 263.3L356.1 263.8L356.8 264.2L357.6 264.7L358.4 265.2L359.1 265.7L359.9 266.2L360.6 266.7L361.4 267.2L362.2 267.6L362.9 268.1L363.7 268.6L364.4 269L365.2 269.4L365.9 269.9L366.7 270.3L367.5 270.6L368.2 271L369 271.4L369.7 271.7L370.5 272L371.2 272.3L372 272.5L372.8 272.8L373.5 273L374.3 273.2L375 273.4L375.8 273.6L376.5 273.7L377.3 273.9L378.1 274L378.8 274.1L379.6 274.3L380.3 274.4L381.1 274.5L381.8 274.5L382.6 274.6L383.4 274.7L384.1 274.8L384.9 274.8L385.6 274.9L386.4 274.9L387.1 275L387.9 275L388.6 275L389.4 275L390.2 275L390.9 275L391.7 275L392.4 275L393.2 275L393.9 275L394.7 275L395.5 275L396.2 275L397 275L397.7 275L398.5 275L399.2 275L400 275L400 275Z"/>
<path d="M296 288.3L296 288.3L296.8 288.3L297.5 288.3L298.3 288.3L299 288.1L299.8 287.8L300.5 287.6L301.3 287.3L302 287.1L302.8 286.9L303.6 286.6L304.3 286.4L305.1 286.2L305.8 285.9L306.6 285.7L307.3 285.5L308.1 285.2L308.8 285L309.6 284.8L310.3 284.6L311.1 284.3L311.9 284.1L312.6 283.9L313.4 283.6L314.1 283.4L314.9 283.2L315.6 282.9L316.4 282.7L317.1 282.4L317.9 282.2L318.7 282L319.4 281.7L320.2 281.5L320.9 281.2L321.7 281L322.4 280.7L323.2 280.5L323.9 280.2L324.7 280L325.4 279.7L326.2 279.4L327 279.2L327.7 278.9L328.5 278.6L329.2 278.3L330 278.1L330.7 277.8L331.5 277.5L332.2 277.2L333 276.9L333.8 276.6L334.5 276.2L335.3 275.9L336.1 275.5L336.8 275L337.6 274.6L338.4 274.1L339.2 273.7L339.9 273.2L340.7 272.7L341.5 272.3L342.2 271.8L343 271.3L343.8 270.9L344.5 270.5L345.3 270L346.1 269.7L346.8 269.3L347.6 269L348.4 268.7L349.2 268.4L349.9 268.2L350.7 268L351.5 267.9L352.2 267.8L353 267.7L353.8 267.8L354.5 267.9L355.2 268L356 268.2L356.8 268.4L357.5 268.7L358.2 269L359 269.3L359.8 269.6L360.5 270L361.2 270.3L362 270.7L362.8 271L363.5 271.4L364.2 271.7L365 272L365.8 272.3L366.5 272.6L367.2 272.9L368 273.2L368.8 273.6L369.5 273.9L370.2 274.2L371 274.6L371.8 274.9L372.5 275.3L373.2 275.6L374 276L374.8 276.3L375.5 276.7L376.2 277L377 277.3L377.8 277.7L378.5 278L379.2 278.3L380 278.6L380.8 278.9L381.5 279.2L382.2 279.5L383 279.8L383.8 280L384.5 280.3L385.2 280.5L386 280.7L386.8 280.9L387.5 281.1L388.3 281.3L389.1 281.5L389.8 281.6L390.6 281.8L391.3 281.9L392.1 282L392.9 282.2L393.6 282.3L394.4 282.4L395.2 282.5L395.9 282.6L396.7 282.6L397.4 282.7L398.2 282.8L399 282.9L399.7 282.9L400.5 283L401.3 283.1L402 283.1L402.8 283.2L403.6 283.3L404.3 283.3L405.1 283.4L405.8 283.5L406.6 283.5L407.4 283.6L408.1 283.7L408.9 283.8L409.7 283.9L410.4 284L411.2 284.1L411.9 284.2L412.7 284.3L413.5 284.5L414.2 284.6L415 284.8L415.8 284.9L416.5 285.1L417.2 285.3L418 285.5L418.8 285.7L419.5 285.9L420.2 286.1L421 286.3L421.8 286.6L422.5 286.8L423.2 287L424 287.2L424.8 287.5L425.5 287.7L426.2 287.9L427 288.2L427.8 288.3L428.5 288.3L429.2 288.3L430 288.3L430 288.3Z"/>
<path d="M325 300.8L325 300.8L325.8 300.8L326.5 300.8L327.3 300.4L328 300L328.8 299.7L329.6 299.3L330.3 299L331.1 298.6L331.9 298.2L332.6 297.9L333.4 297.5L334.1 297.1L334.9 296.7L335.7 296.4L336.4 296L337.2 295.6L338 295.3L338.7 294.9L339.5 294.5L340.2 294.1L341 293.8L341.8 293.4L342.5 293L343.3 292.7L344 292.3L344.8 292L345.6 291.6L346.3 291.3L347.1 290.9L347.9 290.6L348.6 290.3L349.4 289.9L350.1 289.6L350.9 289.3L351.7 289L352.4 288.7L353.2 288.4L354 288.1L354.7 287.8L355.5 287.5L356.2 287.2L357 287L357.8 286.7L358.5 286.4L359.3 286.2L360.1 285.9L360.8 285.7L361.6 285.4L362.3 285.1L363.1 284.9L363.9 284.6L364.6 284.4L365.4 284.1L366.2 283.9L366.9 283.6L367.7 283.4L368.4 283.2L369.2 283L370 282.7L370.7 282.5L371.5 282.3L372.3 282.1L373 281.9L373.8 281.7L374.6 281.6L375.3 281.4L376.1 281.2L376.8 281.1L377.6 280.9L378.4 280.8L379.1 280.7L379.9 280.6L380.7 280.5L381.4 280.4L382.2 280.3L382.9 280.3L383.7 280.2L384.5 280.2L385.2 280.2L386 280.2L386.8 280.2L387.5 280.2L388.3 280.2L389.1 280.3L389.8 280.3L390.6 280.4L391.4 280.5L392.2 280.5L392.9 280.6L393.7 280.8L394.5 280.9L395.2 281L396 281.1L396.8 281.3L397.5 281.4L398.3 281.5L399.1 281.7L399.8 281.8L400.6 282L401.4 282.2L402.2 282.3L402.9 282.5L403.7 282.6L404.5 282.8L405.2 283L406 283.1L406.8 283.3L407.6 283.5L408.3 283.7L409.1 283.9L409.9 284.1L410.7 284.3L411.4 284.6L412.2 284.8L413 285L413.8 285.2L414.6 285.5L415.3 285.7L416.1 285.9L416.9 286.2L417.7 286.4L418.4 286.6L419.2 286.8L420 287L420.8 287.1L421.5 287.3L422.3 287.5L423.1 287.6L423.8 287.8L424.6 287.9L425.4 288.1L426.2 288.2L426.9 288.3L427.7 288.5L428.5 288.6L429.2 288.7L430 288.8L430.8 289L431.5 289.1L432.3 289.2L433.1 289.4L433.8 289.5L434.6 289.6L435.4 289.8L436.2 289.9L436.9 290.1L437.7 290.3L438.5 290.4L439.2 290.6L440 290.8L440.8 291L441.5 291.2L442.3 291.4L443 291.7L443.8 291.9L444.6 292.2L445.3 292.4L446.1 292.7L446.8 292.9L447.6 293.2L448.4 293.5L449.1 293.7L449.9 294L450.6 294.3L451.4 294.5L452.2 294.8L452.9 295L453.7 295.3L454.4 295.5L455.2 295.8L456 296L456.7 296.2L457.5 296.4L458.2 296.6L459 296.8L459.8 296.9L460.5 297.1L461.3 297.2L462 297.4L462.8 297.5L463.5 297.7L464.3 297.8L465 297.9L465.8 298.1L466.6 298.2L467.3 298.3L468.1 298.4L468.8 298.5L469.6 298.6L470.3 298.7L471.1 298.8L471.8 298.9L472.6 299L473.3 299.1L474.1 299.2L474.9 299.3L475.6 299.3L476.4 299.4L477.1 299.5L477.9 299.6L478.6 299.7L479.4 299.7L480.1 299.8L480.9 299.9L481.7 300L482.4 300L483.2 300.1L483.9 300.2L484.7 300.2L485.4 300.3L486.2 300.4L486.9 300.5L487.7 300.5L488.4 300.6L489.2 300.7L490 300.8L490.7 300.8L491.5 300.8L492.2 300.8L493 300.8L493.7 300.8L494.5 300.8L495.2 300.8L496 300.8L496 300.8Z"/>
<path d="M374 311.4L374 311.4L374.8 311.4L375.5 311.4L376.3 311.4L377 311.3L377.8 311.1L378.6 310.9L379.3 310.7L380.1 310.5L380.8 310.3L381.6 310.1L382.3 309.9L383.1 309.7L383.9 309.5L384.6 309.3L385.4 309.1L386.1 308.9L386.9 308.7L387.7 308.6L388.4 308.4L389.2 308.2L389.9 308L390.7 307.8L391.4 307.6L392.2 307.4L393 307.2L393.7 307.1L394.5 306.9L395.2 306.7L396 306.6L396.8 306.4L397.5 306.2L398.2 306.1L399 305.9L399.8 305.7L400.5 305.5L401.2 305.4L402 305.2L402.8 305L403.5 304.8L404.2 304.7L405 304.5L405.8 304.3L406.5 304.2L407.2 304L408 303.9L408.8 303.7L409.5 303.5L410.2 303.4L411 303.3L411.8 303.1L412.5 303L413.2 302.9L414 302.7L414.8 302.6L415.5 302.5L416.2 302.4L417 302.3L417.8 302.3L418.5 302.2L419.2 302.1L420 302.1L420.8 302L421.5 302L422.2 301.9L423 301.9L423.8 301.9L424.5 301.8L425.2 301.8L426 301.8L426.8 301.7L427.5 301.7L428.2 301.7L429 301.7L429.8 301.6L430.5 301.6L431.2 301.6L432 301.6L432.8 301.6L433.5 301.5L434.2 301.5L435 301.5L435.8 301.5L436.5 301.5L437.2 301.5L438 301.5L438.8 301.5L439.5 301.5L440.2 301.5L441 301.5L441.8 301.5L442.5 301.5L443.2 301.4L444 301.4L444.8 301.4L445.5 301.4L446.2 301.4L447 301.4L447.8 301.4L448.5 301.4L449.2 301.4L450 301.4L450.8 301.4L451.5 301.4L452.2 301.5L453 301.5L453.8 301.5L454.5 301.5L455.2 301.5L456 301.5L456.8 301.5L457.5 301.5L458.2 301.6L459 301.6L459.8 301.6L460.5 301.6L461.2 301.6L462 301.7L462.8 301.7L463.5 301.7L464.2 301.7L465 301.8L465.8 301.8L466.5 301.8L467.2 301.8L468 301.9L468.8 301.9L469.5 301.9L470.2 301.9L471 301.9L471.8 302L472.5 302L473.2 302L474 302L474.8 302L475.5 302L476.2 302.1L477 302.1L477.8 302.1L478.5 302.1L479.2 302.1L480 302.1L480.8 302.1L481.5 302.1L482.3 302.1L483.1 302.1L483.8 302.1L484.6 302.1L485.4 302.1L486.2 302.1L486.9 302.1L487.7 302L488.5 302L489.2 302L490 302L490.8 302L491.5 302L492.3 301.9L493.1 301.9L493.8 301.9L494.6 301.8L495.4 301.8L496.2 301.7L496.9 301.7L497.7 301.6L498.5 301.6L499.2 301.5L500 301.4L500.8 301.4L501.5 301.3L502.3 301.2L503.1 301.1L503.8 301L504.6 300.9L505.4 300.7L506.2 300.6L506.9 300.4L507.7 300.2L508.5 299.9L509.2 299.6L510 299.3L510.8 298.9L511.5 298.5L512.3 297.9L513.1 297.3L513.8 296.7L514.6 296L515.4 295.4L516.1 294.7L516.9 294L517.6 293.4L518.4 292.8L519.2 292.2L519.9 291.7L520.7 291.4L521.5 291L522.2 290.9L523 290.8L523.8 290.9L524.6 291L525.3 291.3L526.1 291.6L526.9 292.1L527.7 292.6L528.4 293.2L529.2 293.8L530 294.4L530.8 295.1L531.6 295.8L532.3 296.5L533.1 297.2L533.9 297.9L534.7 298.6L535.4 299.2L536.2 299.8L537 300.4L537.8 300.9L538.5 301.4L539.3 302L540.1 302.5L540.9 303.1L541.6 303.7L542.4 304.2L543.2 304.8L544 305.4L544.7 305.9L545.5 306.5L546.3 307L547 307.6L547.8 308.1L548.6 308.5L549.4 309L550.1 309.4L550.9 309.8L551.7 310.2L552.5 310.5L553.2 310.8L554 311L554.8 311.2L555.6 311.4L556.4 311.4L557.1 311.4L557.9 311.4L558.7 311.4L559.5 311.4L560.3 311.4L561.1 311.4L561.9 311.4L562.6 311.4L563.4 311.4L564.2 311.4L565 311.4L565 311.4Z"/>
<path d="M289 546.1L289 546.1L290 538.9L291 531.9L291.8 527.6L292.5 525.5L293.4 526L294.2 527.5L295.1 529.2L296 530.8L296.8 532.1L297.6 533.5L298.4 534.8L299.2 536.1L300 537.2L300.8 538.1L301.5 539L302.2 539.7L303 540.5L303.8 541.1L304.5 541.8L305.2 542.4L306 542.9L306.8 543.5L307.6 544L308.3 544.4L309.1 544.8L309.9 545.2L310.7 545.6L311.4 546L312.2 546.1L313 546.1L313 546.1Z"/>
<path d="M292.5 381.3L292.5 381.3L293.3 380.1L294.1 378.3L294.8 376.3L295.6 373.9L296.4 370.5L297.2 366.7L298 363.7L298.8 362.1L299.6 361.2L300.3 360.8L301.1 360.7L301.9 360.8L302.7 361L303.4 361.4L304.2 362L305 362.9L305.8 363.9L306.6 365.3L307.3 366.8L308.1 368.4L308.9 369.9L309.7 371.4L310.5 372.9L311.2 374.4L312 375.8L312.8 376.9L313.6 377.7L314.4 378.3L315.1 378.8L315.9 379.2L316.7 379.7L317.5 380.3L318.4 380.8L319.2 381.3L320 381.3L320 381.3Z"/>
<path d="M570 339.8L570 339.8L570.8 339.8L571.5 339.6L572.3 339.2L573.1 338.8L573.8 338.4L574.6 338.1L575.4 337.7L576.2 337.2L576.9 336.7L577.7 336.2L578.5 335.6L579.2 334.9L580 334.1L580.8 333.2L581.5 332.1L582.2 331L583 329.8L583.8 328.5L584.5 327.2L585.2 325.8L586 324.5L586.9 322.4L587.8 320.2L588.7 319.2L589.5 320.6L590.2 324L591 327.7L591.8 331.7L592.7 336.1L593.5 339.8L593.5 339.8Z"/>
<path d="M301 422.9L301 422.9L301.8 421.4L302.6 419.2L303.4 417L304.2 415L305 413.1L305.8 411.5L306.6 410L307.4 408.6L308.1 407.4L308.9 406.2L309.7 405.3L310.5 404.4L311.3 403.7L312 403.1L312.8 402.6L313.6 402.4L314.4 402.3L315.2 402.6L315.9 403.6L316.7 404.9L317.5 406.3L318.2 407.8L319 409.1L319.8 410.3L320.6 411.4L321.4 412.6L322.2 413.8L323 414.9L323.8 416L324.6 417L325.4 417.9L326.2 418.8L327 419.6L327.8 420.4L328.6 421.2L329.4 422L330.2 422.8L331 422.9L331 422.9Z"/>
<path d="M321.4 385L321.4 385L322.2 384.4L323 383.2L323.8 382L324.5 380.8L325.3 379.5L326.1 378.3L326.9 376.9L327.7 375.6L328.5 374.1L329.2 372.6L330 371.2L330.8 369.9L331.6 368.7L332.4 367.4L333.1 366.3L333.9 365.3L334.7 364.6L335.5 364.4L336.3 364.4L337.1 364.5L337.9 364.7L338.6 364.9L339.4 365.4L340.2 365.9L341 366.7L341.8 367.7L342.6 368.9L343.4 370.3L344.1 371.9L344.9 373.5L345.7 375.2L346.5 377.1L347.3 379.2L348 381.3L348.8 383.5L349.6 385L349.6 385Z"/>
<path d="M335 368.1L335 368.1L335.8 368.1L336.5 368.1L337.3 368L338.1 367.7L338.8 367.5L339.6 367.2L340.4 367L341.2 366.7L341.9 366.4L342.7 366L343.5 365.6L344.2 365.1L345 364.6L345.8 363.9L346.7 363.2L347.5 362.4L348.3 361.5L349.2 360.5L350 359.2L350.8 357.8L351.6 356.1L352.4 354.3L353.2 352.5L354 350.7L354.8 348.7L355.5 347.5L356.5 356.1L357.2 362.4L358 368.1L358 368.1Z"/>
<path d="M367 401.8L367 401.8L367.8 401.8L368.5 401.8L369.3 401.8L370 401.8L370.8 401.8L371.6 401.6L372.3 401.5L373.1 401.3L373.8 401.2L374.6 401L375.4 400.9L376.1 400.7L376.9 400.6L377.6 400.4L378.4 400.3L379.2 400.2L379.9 400L380.7 399.9L381.4 399.8L382.2 399.6L383 399.5L383.7 399.4L384.5 399.3L385.2 399.2L386 399.1L386.8 399L387.6 399L388.3 398.9L389.1 398.9L389.9 398.8L390.7 398.8L391.4 398.8L392.2 398.8L393 398.7L393.8 398.7L394.6 398.7L395.3 398.7L396.1 398.6L396.9 398.6L397.7 398.5L398.4 398.5L399.2 398.4L400 398.3L400.8 398.1L401.5 398L402.3 397.9L403.1 397.7L403.8 397.6L404.6 397.4L405.4 397.3L406.2 397.1L406.9 396.9L407.7 396.7L408.5 396.5L409.2 396.3L410 396.1L410.8 395.9L411.5 395.7L412.3 395.5L413.1 395.3L413.8 395.1L414.6 394.9L415.4 394.7L416.2 394.4L416.9 394.2L417.7 394L418.5 393.8L419.2 393.6L420 393.4L420.8 393.1L421.5 392.9L422.3 392.7L423.1 392.5L423.8 392.3L424.6 392L425.4 391.8L426.1 391.6L426.9 391.3L427.6 391.1L428.4 390.8L429.2 390.6L429.9 390.3L430.7 390.1L431.5 389.8L432.2 389.6L433 389.3L433.8 389.1L434.5 388.8L435.3 388.5L436 388.3L436.8 388L437.6 387.7L438.3 387.4L439.1 387.2L439.9 386.9L440.6 386.6L441.4 386.3L442.1 386L442.9 385.8L443.7 385.5L444.4 385.2L445.2 384.9L446 384.6L446.7 384.4L447.5 384.1L448.2 383.8L449 383.6L449.8 383.3L450.6 382.9L451.3 382.6L452.1 382.3L452.9 381.9L453.7 381.6L454.4 381.4L455.2 381.3L456 381.2L456.8 381.7L457.6 382.8L458.4 384.4L459.2 386.1L460 387.6L460.8 389L461.7 390.5L462.5 392L463.3 393.4L464.2 394.8L465 396.1L465.8 397.3L466.7 398.4L467.5 399.5L468.3 400.5L469.2 401.5L470 401.8L470 401.8Z"/>
<path d="M468 414.2L468 414.2L468.8 414.2L469.5 414.2L470.2 414.2L471 414.2L471.8 414.2L472.5 414.2L473.2 414.2L474 414.2L474.8 414.2L475.5 414.2L476.2 414.2L477 414.2L477.8 414.2L478.5 414.2L479.2 414.1L480 414.1L480.8 414L481.5 414L482.2 413.9L483 413.9L483.8 413.8L484.5 413.8L485.2 413.7L486 413.6L486.8 413.6L487.5 413.5L488.2 413.4L489 413.3L489.8 413.3L490.5 413.2L491.2 413.1L492 413L492.8 412.9L493.5 412.8L494.2 412.7L495 412.5L495.8 412.4L496.5 412.3L497.2 412.1L498 412L498.8 411.8L499.5 411.7L500.2 411.5L501 411.4L501.8 411.3L502.5 411.2L503.2 411.1L504 410.9L504.8 410.8L505.5 410.6L506.2 410.4L507 410.2L507.8 410L508.5 409.7L509.2 409.4L510 409L510.8 408.6L511.5 408.2L512.2 407.6L513 407.1L513.8 406.4L514.6 405.6L515.3 404.7L516.1 403.8L516.9 402.7L517.7 401.6L518.4 400.4L519.2 399.2L520 397.9L521 395.3L522 393.6L522.8 393.8L523.6 394.2L524.3 394.7L525.1 395.4L525.9 396.1L526.7 396.8L527.4 397.4L528.2 397.7L529 397.9L529.8 397.9L530.6 397.8L531.4 397.8L532.2 397.7L533 397.6L533.8 397.5L534.6 397.4L535.4 397.3L536.2 397.3L537 397.3L537.8 397.3L538.5 397.5L539.3 397.8L540.1 398.1L540.8 398.6L541.6 399.1L542.4 399.6L543.2 400.2L543.9 400.8L544.7 401.5L545.5 402.1L546.2 402.7L547 403.2L547.8 403.8L548.6 404.4L549.4 405L550.2 405.7L551 406.3L551.8 407L552.6 407.7L553.4 408.3L554.2 409L555 409.6L555.8 410.2L556.6 410.8L557.3 411.4L558.1 412L558.9 412.6L559.7 413.2L560.4 413.8L561.2 414.2L562 414.2L562 414.2Z"/>
<path d="M517 424.9L517 424.9L517.8 424.9L518.5 424.9L519.3 424.9L520.1 424.7L520.8 424.5L521.6 424.4L522.4 424.2L523.2 424.1L523.9 424L524.7 423.8L525.5 423.7L526.2 423.6L527 423.4L527.8 423.2L528.5 423L529.3 422.8L530.1 422.6L530.8 422.3L531.6 422L532.4 421.6L533.2 421.2L533.9 420.8L534.7 420.3L535.5 419.8L536.2 419.2L537 418.5L537.8 417.7L538.5 416.7L539.3 415.4L540.1 414L540.8 412.5L541.6 411L542.4 409.6L543.2 408.2L543.9 406.9L544.7 405.8L545.5 405L546.2 404.5L547 404.3L547.8 404.4L548.5 404.6L549.2 405.1L550 405.6L550.8 406.2L551.5 406.9L552.2 407.7L553 408.4L553.8 409.2L554.5 409.9L555.2 410.5L556 411.1L556.8 411.6L557.5 412.1L558.3 412.6L559.1 413.1L559.8 413.6L560.6 414.1L561.4 414.6L562.2 415L562.9 415.5L563.7 416L564.5 416.4L565.2 416.9L566 417.3L566.8 417.8L567.5 418.2L568.3 418.6L569.1 419.1L569.8 419.5L570.6 419.9L571.4 420.3L572.2 420.7L572.9 421.1L573.7 421.5L574.5 421.8L575.2 422.2L576 422.6L576.8 423L577.6 423.3L578.4 423.6L579.2 423.9L580 424.2L580.8 424.5L581.6 424.7L582.4 424.9L583.2 424.9L584 424.9L584 424.9Z"/>
<path d="M324 460.8L324 460.8L324.8 460.6L325.5 459.8L326.3 458.9L327 458L327.8 457.1L328.6 456.2L329.3 455.3L330.1 454.3L330.9 453.4L331.6 452.5L332.4 451.6L333.1 450.8L333.9 449.9L334.7 449L335.4 448.2L336.2 447.4L337 446.7L337.7 445.9L338.5 445.3L339.2 444.6L340 444L340.8 443.5L341.6 443L342.3 442.6L343.1 442.3L343.9 442L344.7 441.7L345.4 441.5L346.2 441.3L347 441L347.8 440.8L348.7 440.6L349.5 440.4L350.3 440.3L351.2 440.2L352 440.2L352.8 440.4L353.5 440.9L354.2 441.6L355 442.1L355.8 442.5L356.5 442.9L357.2 443.3L358 443.6L358.8 444L359.5 444.3L360.2 444.6L361 445L361.8 445.3L362.5 445.6L363.2 446L364 446.3L364.8 446.7L365.5 447.1L366.2 447.4L367 447.8L367.8 448.3L368.5 448.7L369.3 449.2L370.1 449.6L370.9 450.1L371.6 450.6L372.4 451.1L373.2 451.6L374 452L374.7 452.5L375.5 453L376.3 453.5L377 454.1L377.8 454.6L378.6 455.1L379.4 455.6L380.1 456.1L380.9 456.6L381.7 457L382.5 457.5L383.2 458L384 458.5L384.8 459L385.7 459.5L386.5 460L387.3 460.5L388.2 460.8L389 460.8L389 460.8Z"/>
<path d="M359 475.4L359 475.4L359.8 475.4L360.5 475.2L361.2 474.8L362 474.4L362.8 473.9L363.5 473.5L364.2 473.1L365 472.7L365.8 472.2L366.5 471.8L367.2 471.4L368 471L368.8 470.5L369.5 470.1L370.2 469.7L371 469.2L371.8 468.8L372.5 468.3L373.2 467.9L374 467.4L374.8 466.9L375.5 466.4L376.2 466L377 465.5L377.8 464.9L378.5 464.3L379.3 463.7L380.1 463.1L380.8 462.5L381.6 461.8L382.4 461.1L383.1 460.5L383.9 459.8L384.6 459.2L385.4 458.6L386.2 458L386.9 457.4L387.7 456.9L388.5 456.4L389.2 456L390 455.7L390.8 455.4L391.5 455.2L392.2 455L393 454.9L393.8 454.9L394.5 454.8L395.2 454.8L396 454.8L396.8 454.8L397.5 454.9L398.3 455L399.1 455.2L399.8 455.3L400.6 455.6L401.4 455.9L402.2 456.2L402.9 456.6L403.7 457L404.5 457.5L405.2 458.1L406 458.6L406.8 459.3L407.5 460L408.2 460.9L409 461.8L409.8 462.7L410.5 463.7L411.2 464.8L412 465.8L412.8 466.8L413.5 467.9L414.2 468.9L415 469.9L415.8 470.8L416.5 471.7L417.2 472.4L418 473.1L418.8 473.7L419.5 474.2L420.2 474.6L421 474.9L421.8 475.2L422.5 475.4L423.2 475.4L424 475.4L424 475.4Z"/>
<path d="M395 490.5L395 490.5L395.8 490.5L396.5 490.5L397.2 490.5L398 490.5L398.8 490.5L399.5 490.4L400.2 490.2L401 490.1L401.8 490L402.5 489.8L403.2 489.7L404 489.6L404.8 489.4L405.5 489.3L406.2 489.1L407 488.9L407.8 488.7L408.5 488.5L409.2 488.2L410 488L410.8 487.7L411.5 487.4L412.2 487.2L413 486.9L413.8 486.6L414.5 486.3L415.2 486L416 485.7L416.8 485.4L417.5 485.1L418.2 484.7L419 484.3L419.8 483.9L420.5 483.5L421.2 483.1L422 482.6L422.8 482.1L423.5 481.6L424.2 481.1L425 480.5L425.8 479.9L426.6 479.1L427.3 478.3L428.1 477.5L428.9 476.6L429.7 475.7L430.4 474.8L431.2 473.9L432 473.1L432.8 472.1L433.5 471.1L434.2 470.2L435 469.9L436 471.1L437 474.1L438 478.9L439 484.8L440 490.5L440 490.5Z"/>
<path d="M418 506.4L418 506.4L418.8 506.4L419.5 506.4L420.3 506.1L421 505.7L421.8 505.4L422.6 505L423.3 504.6L424.1 504.2L424.8 503.8L425.6 503.4L426.3 503.1L427.1 502.7L427.9 502.3L428.6 501.9L429.4 501.5L430.1 501.2L430.9 500.8L431.7 500.5L432.4 500.1L433.2 499.8L433.9 499.5L434.7 499.2L435.4 498.9L436.2 498.6L437 498.4L437.7 498.1L438.5 497.9L439.2 497.7L440 497.6L440.8 497.4L441.5 497.3L442.2 497.1L443 497L443.8 496.9L444.5 496.9L445.2 496.8L446 496.7L446.8 496.7L447.5 496.6L448.2 496.6L449 496.6L449.8 496.5L450.5 496.5L451.2 496.5L452 496.5L452.8 496.5L453.5 496.5L454.2 496.5L455 496.5L455.8 496.5L456.5 496.5L457.3 496.5L458.1 496.6L458.8 496.6L459.6 496.6L460.4 496.7L461.2 496.7L461.9 496.8L462.7 496.8L463.5 496.9L464.2 497L465 497L465.8 497.1L466.5 497.1L467.3 497.2L468.1 497.3L468.8 497.3L469.6 497.4L470.4 497.4L471.2 497.4L471.9 497.5L472.7 497.5L473.5 497.5L474.2 497.5L475 497.6L475.8 497.6L476.5 497.6L477.3 497.6L478.1 497.5L478.8 497.5L479.6 497.5L480.4 497.5L481.2 497.5L481.9 497.5L482.7 497.5L483.5 497.5L484.2 497.5L485 497.5L485.8 497.5L486.5 497.4L487.3 497.4L488.1 497.4L488.8 497.3L489.6 497.3L490.4 497.3L491.2 497.2L491.9 497.2L492.7 497.1L493.5 497L494.2 497L495 496.9L495.8 496.8L496.5 496.8L497.2 496.7L498 496.6L498.8 496.5L499.5 496.3L500.2 496.2L501 496.1L501.8 495.9L502.5 495.8L503.2 495.6L504 495.4L504.8 495.2L505.5 495L506.2 494.7L507 494.5L507.8 494.2L508.5 493.9L509.2 493.6L510 493.3L510.8 492.9L511.5 492.4L512.3 491.9L513.1 491.2L513.9 490.6L514.6 489.9L515.4 489.3L516.2 488.6L517 488L517.7 487.4L518.5 486.9L519.3 486.4L520.1 486.1L520.8 485.9L521.6 485.8L522.4 485.9L523.1 486.1L523.9 486.3L524.7 486.7L525.4 487.1L526.2 487.6L526.9 488.1L527.7 488.6L528.5 489.1L529.2 489.6L530 490.1L530.8 490.6L531.5 491L532.2 491.5L533 492L533.8 492.5L534.5 493.1L535.2 493.6L536 494.1L536.8 494.7L537.5 495.2L538.2 495.8L539 496.3L539.8 496.9L540.5 497.5L541.2 498L542 498.6L542.8 499.1L543.5 499.7L544.2 500.2L545 500.7L545.8 501.3L546.5 501.8L547.2 502.3L548 502.9L548.8 503.4L549.5 503.9L550.2 504.5L551 505L551.8 505.5L552.5 506.1L553.2 506.4L554 506.4L554 506.4Z"/>
<path d="M504.6 524.2L504.6 524.2L505.4 524.2L506.2 524.2L507 523.9L507.8 523.6L508.6 523.3L509.4 523L510.2 522.7L511 522.4L511.8 522.1L512.6 521.8L513.4 521.4L514.2 521L515 520.6L515.8 520.2L516.5 519.7L517.3 519.2L518.1 518.7L518.8 518.2L519.6 517.6L520.4 517.1L521.2 516.5L521.9 516L522.7 515.5L523.5 515L524.2 514.6L525 514.2L525.8 513.9L526.6 513.7L527.3 513.5L528.1 513.4L528.9 513.3L529.7 513.1L530.4 512.9L531.2 512.6L532 512.1L532.8 511.4L533.6 510.5L534.3 509.4L535.1 508.3L535.9 507.1L536.7 506L537.5 505.1L538.2 504.3L539 503.8L539.8 503.6L540.6 503.7L541.4 504.1L542.3 504.7L543.1 505.5L543.9 506.5L544.7 507.5L545.5 508.7L546.4 509.8L547.2 511L548 512.1L548.8 513.2L549.6 514.4L550.4 515.6L551.2 516.9L552 518.2L552.8 519.5L553.6 520.9L554.4 522.2L555.2 523.6L556 524.2L556 524.2Z"/>
<path d="M518 545.4L518 545.4L518.8 545.4L519.5 545.4L520.3 545.1L521.1 544.7L521.9 544.4L522.6 544.1L523.4 543.8L524.2 543.5L525 543.2L525.7 542.8L526.5 542.5L527.3 542.2L528 541.8L528.8 541.5L529.6 541.1L530.4 540.7L531.1 540.3L531.9 539.8L532.7 539.3L533.5 538.8L534.2 538.2L535 537.6L535.8 536.9L536.5 536.1L537.3 535.1L538.1 534.1L538.9 532.9L539.6 531.8L540.4 530.6L541.2 529.5L542 528.5L542.7 527.5L543.5 526.6L544.3 525.9L545.1 525.3L545.8 525L546.6 524.8L547.4 525L548.1 525.4L548.9 526L549.7 526.7L550.4 527.6L551.2 528.6L551.9 529.6L552.7 530.6L553.5 531.6L554.2 532.6L555 533.4L555.8 534.1L556.6 534.8L557.3 535.6L558.1 536.3L558.9 537L559.7 537.7L560.4 538.4L561.2 539.1L562 539.8L562.8 540.5L563.6 541.2L564.3 541.9L565.1 542.6L565.9 543.3L566.7 544L567.4 544.7L568.2 545.4L569 545.4L569 545.4Z"/>
<path d="M558 524.2L558 524.2L558.8 524.2L559.6 523.7L560.3 523.2L561.1 522.6L561.9 522.1L562.7 521.5L563.4 520.9L564.2 520.2L565 519.5L565.8 518.8L566.5 518.1L567.3 517.3L568.1 516.4L568.8 515.6L569.6 514.7L570.4 513.9L571.2 513L571.9 512.1L572.7 511.3L573.5 510.5L574.2 509.7L575 508.9L575.8 508.1L576.5 507.2L577.2 506.3L578 505.5L578.8 504.7L579.5 504.1L580.2 503.7L581 503.6L581.8 503.6L582.7 503.7L583.5 504.1L584.3 504.8L585.2 506L586 507.8L586.8 510.5L587.5 514.1L588.2 517.8L589 520.6L589.8 522.3L590.5 523.3L591.2 524L592 524.2L592 524.2Z"/>
<path d="M562 566.7L562 566.7L562.8 566.7L563.5 566.6L564.3 566.2L565.1 565.8L565.8 565.5L566.6 565.1L567.4 564.7L568.2 564.3L568.9 563.8L569.7 563.3L570.5 562.6L571.2 561.9L572 561L572.8 560L573.5 558.8L574.2 557.5L575 556.1L575.8 554.6L576.5 553.2L577.2 551.7L578 550.4L578.8 548.6L579.7 546.9L580.5 546.1L581.4 547L582.2 549.3L583.1 552.1L584 554.6L584.8 556.7L585.7 558.9L586.5 561L587.3 563.1L588.2 565.3L589 566.7L589 566.7Z"/>
<path d="M567 552.5L567 552.5L567.8 552.5L568.5 552.3L569.2 551.9L570 551.5L570.8 551.1L571.5 550.6L572.2 550.2L573 549.7L573.8 549.1L574.5 548.5L575.2 547.7L576 546.8L576.8 545.8L577.5 544.7L578.2 543.4L579 542.1L579.8 540.6L580.5 539.2L581.2 537.7L582 536.2L583 533.6L584 531.9L584.8 532.5L585.6 533.9L586.4 535.9L587.2 538.2L588 540.5L588.8 542.7L589.6 545.3L590.4 547.9L591.2 550.6L592 552.5L592 552.5Z"/>
<path d="M568.7 580.9L568.7 580.9L569.6 580.8L570.4 580L571.3 579.2L572.1 578.4L573 577.3L573.8 576.3L574.6 575.2L575.4 574L576.2 572.6L577 571L577.8 568.9L578.5 566.7L579.3 564.6L580.2 562.8L581 561.4L582 560.5L583 560.3L583.9 560.7L584.8 561.8L585.6 563.2L586.5 564.6L587.5 565.7L588.6 567.8L589.4 570.6L590.2 574.1L590.9 577.9L591.7 580.9L591.7 580.9Z"/>
<path d="M327 710.8L327 710.8L328 705.4L329 698.7L330 690.2L331 693.7L332 698.7L332.8 701.1L333.6 703L334.4 704.7L335.2 706.1L336 707.3L336.8 708.2L337.5 708.9L338.2 709.5L339 709.9L339.8 710.3L340.5 710.7L341.2 710.8L342 710.8L342 710.8Z"/>
<path d="M338 625.2L338 625.2L338.8 624.9L339.6 623.8L340.3 622.8L341.1 621.7L341.9 620.7L342.7 619.6L343.4 618.5L344.2 617.5L345 616.4L345.8 615.1L346.7 613.7L347.5 612.4L348.3 611.1L349.2 609.9L350 608.9L350.8 608.2L351.5 607.7L352.2 607.3L353 607.2L353.8 607.3L354.5 607.5L355.2 607.7L356 607.8L356.8 607.6L357.5 607L358.2 606.3L359 605.7L359.8 605.3L360.5 605L361.2 604.7L362 604.6L363 604.9L364 606.8L365 619.5L366 625.2L366 625.2Z"/>
<path d="M577 609.3L577 609.3L577.8 609.3L578.6 608.9L579.4 608.5L580.2 608.1L581 607.7L581.8 607.2L582.6 606.6L583.4 605.8L584.2 604.8L585 603.6L585.8 601.9L586.6 599.8L587.4 597.4L588.2 595.1L589 592.9L590 590.2L591 588.7L592 592.4L593 599.3L593.8 604.5L594.5 609.3L594.5 609.3Z"/>
<path d="M448 641.2L448 641.2L448.8 641.2L449.5 641.2L450.3 641.2L451 641.2L451.8 641.2L452.6 641.2L453.3 641.2L454.1 641.2L454.9 641.2L455.6 641.2L456.4 641.2L457.1 641.2L457.9 641.2L458.7 641.2L459.4 641.2L460.2 641.2L461 641.2L461.7 641.2L462.5 641.2L463.2 641.2L464 641.2L464.8 641.2L465.5 641.2L466.3 641.2L467 641.2L467.8 641.2L468.6 641.2L469.3 641.2L470.1 641.2L470.9 641.2L471.6 641.2L472.4 641.2L473.1 641.1L473.9 641.1L474.7 641L475.4 641L476.2 640.9L477 640.9L477.7 640.8L478.5 640.8L479.2 640.7L480 640.6L480.8 640.5L481.5 640.5L482.3 640.4L483.1 640.4L483.8 640.3L484.6 640.2L485.4 640.2L486.2 640.1L486.9 640L487.7 640L488.5 639.9L489.2 639.8L490 639.7L490.8 639.6L491.5 639.5L492.3 639.4L493.1 639.3L493.8 639.2L494.6 639L495.4 638.9L496.2 638.7L496.9 638.5L497.7 638.3L498.5 638.1L499.2 637.9L500 637.6L500.8 637.4L501.5 637.1L502.2 636.9L503 636.7L503.8 636.4L504.5 636.1L505.2 635.8L506 635.5L506.8 635.2L507.5 634.8L508.2 634.3L509 633.8L509.8 633.3L510.5 632.7L511.2 632L512 631.2L512.8 630.3L513.5 629.1L514.2 627.7L515 626.3L515.8 624.9L516.5 623.6L517.2 622.5L518 621.7L518.9 621L519.9 620.7L520.8 620.6L521.7 620.6L522.5 620.9L523.2 621.8L524 622.9L524.7 624.2L525.5 625.3L526.2 626.2L527 626.6L527.8 626.6L528.5 626.6L529.3 626.6L530.1 626.6L530.8 626.7L531.6 626.7L532.4 626.7L533.1 626.7L533.9 626.7L534.6 626.7L535.4 626.7L536.2 626.7L536.9 626.7L537.7 626.7L538.5 626.7L539.2 626.8L540 626.8L540.8 626.9L541.5 627.1L542.3 627.4L543.1 627.8L543.8 628.3L544.6 628.9L545.4 629.5L546.2 630.2L546.9 630.8L547.7 631.5L548.5 632.2L549.2 632.8L550 633.4L550.8 633.9L551.6 634.5L552.4 635.1L553.1 635.7L553.9 636.3L554.7 636.9L555.5 637.6L556.3 638.2L557.1 638.8L557.9 639.4L558.6 640L559.4 640.7L560.2 641.2L561 641.2L561 641.2Z"/>
<path d="M500 651.8L500 651.8L500.8 651.8L501.5 651.8L502.3 651.8L503.1 651.8L503.8 651.8L504.6 651.8L505.4 651.8L506.2 651.8L506.9 651.8L507.7 651.8L508.5 651.8L509.2 651.8L510 651.8L510.8 651.7L511.5 651.6L512.3 651.6L513.1 651.5L513.8 651.4L514.6 651.3L515.4 651.1L516.2 651L516.9 650.8L517.7 650.6L518.5 650.4L519.2 650.2L520 650L520.8 649.7L521.5 649.5L522.2 649.2L523 648.9L523.8 648.6L524.5 648.3L525.2 647.9L526 647.6L526.8 647.2L527.5 646.8L528.2 646.5L529 646L529.8 645.6L530.5 645.1L531.2 644.7L532 644.1L532.8 643.6L533.5 643.1L534.2 642.5L535 641.9L535.8 641.1L536.6 640.2L537.4 639.1L538.2 637.9L539 636.8L539.8 635.6L540.6 634.4L541.4 633.4L542.2 632.5L543 631.8L543.8 631.4L544.6 631.2L545.4 631.3L546.2 631.6L547 632.1L547.8 632.7L548.6 633.3L549.4 634.1L550.2 635L551 635.8L551.8 636.7L552.6 637.6L553.4 638.4L554.2 639.1L555 639.8L555.8 640.3L556.5 640.9L557.3 641.4L558.1 642L558.8 642.5L559.6 643L560.4 643.6L561.1 644.1L561.9 644.6L562.6 645.1L563.4 645.6L564.2 646.1L564.9 646.5L565.7 647L566.5 647.4L567.2 647.9L568 648.3L568.8 648.7L569.5 649.1L570.3 649.4L571.1 649.8L571.8 650.1L572.6 650.4L573.4 650.7L574.2 651L574.9 651.3L575.7 651.6L576.5 651.8L577.2 651.8L578 651.8L578 651.8Z"/>
<path d="M336.5 796.4L336.5 796.4L337.4 793.8L338.2 790.4L339.1 787.2L340 784.3L340.8 782L341.5 779.7L342.3 777.7L343 776.3L343.8 775.8L344.6 776.2L345.5 777.1L346.3 778.3L347.2 779.7L348 781.1L348.8 782.5L349.6 784.1L350.4 785.7L351.2 787.2L352 788.6L352.8 789.7L353.6 790.8L354.3 791.8L355.1 792.7L355.9 793.6L356.7 794.4L357.4 795.3L358.2 796.2L359 796.4L359 796.4Z"/>
<path d="M350.6 691.7L350.6 691.7L351.4 691.7L352.2 691.1L353.1 690.4L353.9 689.8L354.7 689.1L355.5 688.4L356.4 687.7L357.2 686.9L358 686L358.8 685.2L359.7 684.3L360.5 683.4L361.3 682.4L362.2 681.1L363 679.6L363.8 677.4L364.6 674.6L365.4 672.2L366.2 671.1L367 675.4L368 686L368.8 689.9L369.6 691.7L369.6 691.7Z"/>
<path d="M358.5 710.3L358.5 710.3L359.3 709.8L360 708.4L360.8 707.1L361.6 705.7L362.4 704.4L363.1 703L363.9 701.7L364.7 700.5L365.5 699.3L366.2 698.2L367 697.2L367.8 696.3L368.5 695.4L369.2 694.5L370 693.6L370.8 692.8L371.5 692.1L372.2 691.4L373 690.9L373.8 690.4L374.5 690L375.2 689.8L376 689.7L376.8 689.9L377.6 690.2L378.3 690.6L379.1 691.2L379.9 691.9L380.7 692.6L381.4 693.3L382.2 694L383 694.6L383.8 695.2L384.5 695.9L385.3 696.5L386.1 697.2L386.8 697.8L387.6 698.5L388.4 699.2L389.2 699.8L389.9 700.4L390.7 701L391.5 701.6L392.2 702.1L393 702.5L393.8 702.9L394.6 703.2L395.4 703.5L396.2 703.7L397 703.8L397.8 704L398.6 704.2L399.4 704.4L400.2 704.7L401 705.1L401.8 705.5L402.6 706.1L403.4 706.6L404.2 707.2L405 707.9L405.8 708.5L406.6 709.1L407.4 709.8L408.2 710.3L409 710.3L409 710.3Z"/>
<path d="M443.5 694.4L443.5 694.4L444.3 694.4L445 694.4L445.8 694.4L446.5 694.4L447.3 694.4L448.1 694.4L448.8 694.4L449.6 694.4L450.3 694.4L451.1 694.4L451.9 694.4L452.6 694.4L453.4 694.4L454.1 694.4L454.9 694.4L455.7 694.4L456.4 694.4L457.2 694.4L457.9 694.4L458.7 694.4L459.5 694.4L460.2 694.4L461 694.4L461.8 694.4L462.5 694.4L463.3 694.4L464 694.4L464.8 694.4L465.6 694.4L466.3 694.4L467.1 694.4L467.8 694.4L468.6 694.4L469.4 694.4L470.1 694.4L470.9 694.4L471.6 694.4L472.4 694.3L473.2 694.3L473.9 694.3L474.7 694.3L475.4 694.2L476.2 694.2L477 694.2L477.7 694.1L478.5 694.1L479.2 694.1L480 694L480.8 694L481.5 694L482.3 693.9L483.1 693.9L483.8 693.9L484.6 693.9L485.4 693.8L486.2 693.8L486.9 693.8L487.7 693.8L488.5 693.8L489.2 693.7L490 693.7L490.8 693.7L491.5 693.6L492.3 693.6L493.1 693.5L493.8 693.4L494.6 693.4L495.4 693.3L496.2 693.2L496.9 693.1L497.7 693L498.5 692.8L499.2 692.7L500 692.5L500.8 692.4L501.5 692.2L502.3 692L503.1 691.9L503.8 691.7L504.6 691.5L505.4 691.3L506.1 691L506.9 690.8L507.6 690.5L508.4 690.2L509.2 689.9L509.9 689.5L510.7 689.1L511.5 688.6L512.2 688.2L513 687.6L513.8 686.9L514.7 686.1L515.5 685.1L516.3 684.1L517.2 683.1L518 682.3L518.8 681.5L519.6 680.7L520.4 680L521.1 679.3L521.9 678.9L522.7 678.7L523.5 678.7L524.3 678.9L525.1 679.1L525.9 679.3L526.8 679.6L527.6 679.8L528.4 680L529.2 680.1L530 680.2L530.8 680.1L531.6 679.9L532.3 679.6L533.1 679.2L533.9 678.7L534.7 678.2L535.5 677.6L536.2 677L537 676.4L537.8 675.8L538.6 675.3L539.4 674.8L540.2 674.4L540.9 674.1L541.7 673.9L542.5 673.8L543.3 673.9L544.1 674.2L544.9 674.8L545.7 675.4L546.5 676.2L547.2 677.1L548 678L548.8 678.9L549.6 679.9L550.4 680.8L551.2 681.6L552 682.3L552.8 682.9L553.5 683.6L554.3 684.2L555.1 684.8L555.8 685.4L556.6 686L557.4 686.6L558.1 687.2L558.9 687.8L559.6 688.4L560.4 688.9L561.2 689.5L561.9 690L562.7 690.5L563.5 691L564.2 691.4L565 691.9L565.8 692.3L566.6 692.7L567.4 693L568.2 693.4L569 693.7L569.8 693.9L570.6 694.2L571.4 694.4L572.2 694.4L573 694.4L573 694.4Z"/>
<path d="M364.7 726.3L364.7 726.3L365.5 726.3L366.3 726.3L367.1 726.3L367.9 726.3L368.7 726.3L369.5 726.3L370.4 726.3L371.2 726.3L372 726.3L372.8 726.1L373.6 725.8L374.4 725.5L375.2 725.1L376 724.6L376.9 723.9L377.7 723.2L378.5 722.5L379.3 721.7L380.2 721L381 720.2L381.8 719.5L382.6 718.9L383.3 718.3L384.1 717.6L384.9 716.9L385.6 716.3L386.4 715.6L387.1 714.9L387.9 714.2L388.7 713.6L389.4 713L390.2 712.3L390.9 711.7L391.7 711.2L392.5 710.7L393.2 710.2L394 709.8L394.8 709.3L395.5 709L396.3 708.6L397.1 708.2L397.9 707.9L398.6 707.6L399.4 707.3L400.2 707.1L401 706.8L401.7 706.6L402.5 706.4L403.3 706.3L404.1 706.1L404.8 706L405.6 705.9L406.4 705.8L407.2 705.8L407.9 705.7L408.7 705.7L409.5 705.7L410.2 705.8L411 705.9L411.8 706.1L412.5 706.3L413.3 706.5L414.1 706.8L414.8 707.1L415.6 707.4L416.4 707.7L417.2 708.1L417.9 708.4L418.7 708.8L419.5 709.2L420.2 709.5L421 709.9L421.8 710.2L422.5 710.5L423.3 710.8L424.1 711.1L424.8 711.4L425.6 711.7L426.4 712L427.1 712.3L427.9 712.7L428.7 713L429.5 713.3L430.2 713.6L431 713.9L431.8 714.3L432.5 714.6L433.3 714.9L434.1 715.2L434.8 715.4L435.6 715.7L436.4 716L437.1 716.2L437.9 716.5L438.7 716.8L439.4 717L440.2 717.3L440.9 717.5L441.7 717.7L442.5 718L443.2 718.2L444 718.4L444.8 718.6L445.5 718.8L446.3 719L447 719.2L447.8 719.3L448.6 719.5L449.3 719.6L450.1 719.8L450.8 719.9L451.6 720L452.3 720.1L453.1 720.2L453.9 720.3L454.6 720.4L455.4 720.5L456.1 720.6L456.9 720.6L457.6 720.7L458.4 720.8L459.1 720.9L459.9 720.9L460.7 721L461.4 721L462.2 721.1L462.9 721.2L463.7 721.2L464.4 721.3L465.2 721.3L465.9 721.4L466.7 721.4L467.5 721.5L468.2 721.6L469 721.6L469.7 721.7L470.5 721.7L471.2 721.8L472 721.9L472.8 722L473.5 722L474.3 722.1L475 722.2L475.8 722.3L476.5 722.3L477.3 722.4L478.1 722.5L478.8 722.6L479.6 722.6L480.3 722.7L481.1 722.8L481.8 722.9L482.6 722.9L483.4 723L484.1 723.1L484.9 723.2L485.6 723.2L486.4 723.3L487.2 723.4L487.9 723.5L488.7 723.5L489.4 723.6L490.2 723.7L490.9 723.7L491.7 723.8L492.5 723.9L493.2 723.9L494 724L494.7 724.1L495.5 724.1L496.2 724.2L497 724.2L497.8 724.3L498.5 724.4L499.3 724.4L500.1 724.5L500.8 724.6L501.6 724.6L502.4 724.7L503.2 724.7L503.9 724.8L504.7 724.8L505.5 724.8L506.2 724.9L507 724.9L507.8 724.8L508.6 724.7L509.3 724.6L510.1 724.4L510.9 724.1L511.7 723.9L512.4 723.6L513.2 723.3L514 722.9L514.8 722.6L515.6 722.3L516.3 722L517.1 721.7L517.9 721.4L518.7 721.2L519.4 721L520.2 720.9L521 720.8L521.8 720.8L522.6 720.8L523.3 720.7L524.1 720.7L524.9 720.7L525.7 720.7L526.4 720.7L527.2 720.7L528 720.6L528.8 720.6L529.6 720.6L530.3 720.6L531.1 720.6L531.9 720.6L532.7 720.6L533.4 720.6L534.2 720.6L535 720.6L535.8 720.7L536.5 720.8L537.3 721L538.1 721.2L538.8 721.6L539.6 721.9L540.4 722.3L541.1 722.8L541.9 723.2L542.6 723.7L543.4 724.2L544.2 724.7L544.9 725.2L545.7 725.7L546.5 726.2L547.2 726.3L548 726.3L548 726.3Z"/>
<path d="M385.5 736.9L385.5 736.9L386.2 736.9L387 736.9L387.8 736.9L388.5 736.9L389.2 736.9L390 736.9L390.8 736.9L391.5 736.8L392.2 736.7L393 736.5L393.8 736.4L394.5 736.3L395.2 736.1L396 736L396.8 735.8L397.5 735.6L398.2 735.3L399 735.1L399.8 734.8L400.5 734.5L401.3 734.1L402.1 733.8L402.9 733.4L403.6 733L404.4 732.6L405.2 732.2L406 731.8L406.7 731.4L407.5 730.9L408.3 730.5L409 730L409.8 729.6L410.6 729.1L411.4 728.7L412.1 728.2L412.9 727.7L413.7 727.3L414.5 726.8L415.2 726.4L416 725.9L416.8 725.5L417.5 725L418.3 724.5L419.1 724L419.9 723.5L420.6 723L421.4 722.5L422.2 721.9L423 721.4L423.7 720.9L424.5 720.4L425.3 719.9L426.1 719.4L426.8 719L427.6 718.6L428.4 718.2L429.2 717.8L429.9 717.5L430.7 717.2L431.5 716.9L432.3 716.7L433.1 716.6L433.9 716.5L434.8 716.4L435.6 716.4L436.4 716.4L437.2 716.3L438 716.3L438.8 716.4L439.5 716.5L440.3 716.7L441 716.9L441.8 717.2L442.5 717.5L443.3 717.8L444 718.1L444.8 718.5L445.5 718.8L446.3 719.1L447 719.3L447.8 719.5L448.6 719.7L449.3 719.9L450.1 720L450.8 720.2L451.6 720.4L452.3 720.5L453.1 720.6L453.9 720.8L454.6 720.9L455.4 721L456.1 721.1L456.9 721.3L457.6 721.4L458.4 721.5L459.1 721.6L459.9 721.7L460.7 721.8L461.4 721.9L462.2 722L462.9 722.1L463.7 722.2L464.4 722.3L465.2 722.3L465.9 722.4L466.7 722.5L467.5 722.6L468.2 722.7L469 722.8L469.7 722.9L470.5 723L471.2 723.1L472 723.2L472.8 723.3L473.5 723.3L474.3 723.4L475 723.5L475.8 723.6L476.5 723.7L477.3 723.8L478.1 723.9L478.8 723.9L479.6 724L480.3 724.1L481.1 724.2L481.8 724.2L482.6 724.3L483.4 724.4L484.1 724.5L484.9 724.5L485.6 724.6L486.4 724.7L487.2 724.8L487.9 724.8L488.7 724.9L489.4 725L490.2 725L490.9 725.1L491.7 725.2L492.5 725.3L493.2 725.3L494 725.4L494.7 725.5L495.5 725.6L496.2 725.6L497 725.7L497.8 725.8L498.5 725.9L499.2 726L500 726.1L500.8 726.2L501.5 726.3L502.2 726.4L503 726.5L503.8 726.6L504.5 726.7L505.2 726.8L506 726.9L506.8 726.9L507.5 727L508.2 727L509 727L509.8 726.9L510.5 726.7L511.2 726.3L512 725.9L512.8 725.3L513.5 724.7L514.2 724L515 723.2L515.8 722.5L516.5 721.8L517.2 721.1L518 720.4L518.8 719.8L519.5 719.2L520.2 718.8L521 718.5L521.8 718.2L522.5 718L523.2 717.8L524 717.6L524.8 717.5L525.5 717.4L526.2 717.2L527 717.1L527.8 717.1L528.5 717L529.2 716.9L530 716.9L530.8 716.8L531.5 716.8L532.2 716.8L533 716.8L533.8 716.8L534.5 716.8L535.2 716.8L536 716.8L536.8 716.8L537.6 716.9L538.3 717.1L539.1 717.4L539.9 717.7L540.7 718.1L541.4 718.5L542.2 719L543 719.5L543.8 720.1L544.5 720.7L545.2 721.3L546 722L546.8 722.7L547.5 723.4L548.2 724.2L549 725L549.8 725.8L550.5 726.6L551.2 727.4L552 728.3L552.8 729.1L553.5 729.9L554.2 730.7L555 731.4L555.8 732.2L556.5 732.9L557.2 733.6L558 734.2L558.8 734.9L559.7 735.5L560.5 736L561.3 736.6L562.2 736.9L563 736.9L563 736.9Z"/>
<path d="M378 901.1L378 901.1L379 893.9L380 886.9L380.8 882.5L381.6 880.5L382.4 880.5L383.3 880.5L384.1 880.6L384.9 880.7L385.7 880.9L386.6 881.2L387.4 881.6L388.2 882.1L388.9 882.8L389.7 883.6L390.5 884.6L391.2 885.7L392 886.9L392.8 888.4L393.6 890.2L394.4 892.1L395.2 893.9L396 895.4L396.8 896.7L397.7 897.9L398.5 898.9L399.3 899.8L400.2 900.8L401 901.1L401 901.1Z"/>
<path d="M394.7 819.6L394.7 819.6L395.5 819.6L396.3 818.9L397.1 818.2L397.9 817.6L398.8 816.9L399.6 816.2L400.4 815.4L401.2 814.7L402 813.9L402.8 813.2L403.5 812.6L404.2 811.9L405 811.2L405.8 810.4L406.5 809.6L407.2 808.6L408 807.5L408.8 806.1L409.5 804.4L410.2 802.6L411 801.1L411.8 799.7L412.6 799L414 807.5L415 819.6L415 819.6Z"/>
<path d="M407.8 770.6L407.8 770.6L408.6 769.9L409.5 768.4L410.3 766.9L411.2 765.4L412 763.9L412.8 762.2L413.7 760.5L414.5 758.7L415.3 757L416.2 755.5L417 754.3L417.8 753.3L418.6 752.5L419.4 751.7L420.2 751.1L421.1 750.6L421.9 750.3L422.7 750.1L423.5 750L424.3 750.1L425.1 750.1L425.9 750.2L426.8 750.4L427.6 750.6L428.4 750.7L429.2 750.9L430 751.1L430.8 751.2L431.6 751.3L432.3 751.4L433.1 751.6L433.9 751.8L434.7 752.2L435.4 752.7L436.2 753.4L437 754.3L437.8 756L438.5 758.6L439.2 761.8L440 764.9L441.4 770.6L441.4 770.6Z"/>
<path d="M482 783L482 783L482.8 783L483.5 783L484.3 783L485.1 783L485.8 783L486.6 783L487.4 783L488.1 783L488.9 783L489.7 783L490.4 783L491.2 783L492 783L492.7 783L493.5 783L494.3 783L495 783L495.8 783L496.6 783L497.3 783L498.1 783L498.9 783L499.6 783L500.4 783L501.2 783L501.9 783L502.7 783L503.5 782.9L504.2 782.8L505 782.7L505.8 782.5L506.5 782.4L507.3 782.1L508.1 781.8L508.8 781.5L509.6 781.2L510.4 780.8L511.2 780.4L511.9 780L512.7 779.6L513.5 779.2L514.2 778.8L515 778.4L515.8 778L516.6 777.6L517.3 777.1L518.1 776.7L518.9 776.2L519.7 775.8L520.4 775.3L521.2 774.9L522 774.6L522.8 774.3L523.6 774L524.4 773.8L525.2 773.6L526 773.4L526.8 773.2L527.6 773L528.4 772.7L529.2 772.4L530 772L530.8 771.6L531.6 771.1L532.3 770.5L533.1 769.9L533.9 769.2L534.7 768.5L535.4 767.8L536.2 767.1L537 766.4L537.8 765.7L538.6 765L539.3 764.4L540.1 763.9L540.9 763.4L541.7 763L542.4 762.7L543.2 762.5L544 762.4L544.8 762.5L545.6 762.8L546.4 763.1L547.1 763.6L547.9 764.2L548.7 764.9L549.5 765.7L550.3 766.4L551.1 767.3L551.9 768.1L552.6 768.9L553.4 769.6L554.2 770.3L555 771L555.8 771.5L556.5 772.1L557.3 772.8L558.1 773.4L558.8 774L559.6 774.6L560.4 775.2L561.1 775.8L561.9 776.4L562.6 777L563.4 777.6L564.2 778.1L564.9 778.7L565.7 779.2L566.5 779.7L567.2 780.1L568 780.5L568.8 780.9L569.5 781.3L570.3 781.6L571.1 781.8L571.8 782.1L572.6 782.3L573.4 782.5L574.2 782.7L574.9 782.9L575.7 783L576.5 783L577.2 783L578 783L578 783Z"/>
<path d="M561 793.7L561 793.7L561.8 793.7L562.6 793.7L563.4 793.6L564.1 793.3L564.9 793.1L565.7 792.9L566.5 792.6L567.3 792.4L568.1 792.1L568.9 791.8L569.6 791.4L570.4 791L571.2 790.6L572 790.1L572.8 789.6L573.6 789L574.4 788.3L575.2 787.6L576 786.8L576.8 786L577.6 785.2L578.4 784.4L579.2 783.5L580 782.7L580.8 781.7L581.5 780.6L582.3 779.4L583.1 778.1L583.9 776.8L584.6 775.7L585.4 774.6L586.2 773.8L586.9 773.3L587.7 773.1L588.5 774L589.2 776.4L590 779.5L591 784.8L592 790.1L592.8 792.5L593.5 793.7L593.5 793.7Z"/>
<path d="M412.7 868.6L412.7 868.6L413.5 868.5L414.3 867.6L415.1 866.8L415.9 866L416.8 865.2L417.6 864.3L418.4 863.5L419.2 862.7L420 861.8L420.8 861L421.5 860.2L422.2 859.4L423 858.5L423.8 857.7L424.5 857L425.2 856.3L426 855.7L426.8 855.1L427.5 854.7L428.2 854.2L429 853.8L429.8 853.5L430.5 853.2L431.2 852.9L432 852.6L432.8 852.3L433.5 852L434.2 851.7L435 851.4L435.8 851.1L436.5 850.7L437.2 850.3L438 850L438.8 849.6L439.5 849.2L440.2 848.9L441 848.6L441.8 848.3L442.5 848.2L443.2 848L444 848L444.8 848L445.5 848L446.3 848.1L447 848.1L447.8 848.1L448.6 848.2L449.3 848.3L450.1 848.4L450.9 848.5L451.6 848.6L452.4 848.7L453.1 848.8L453.9 848.9L454.7 849L455.4 849.2L456.2 849.3L457 849.5L457.7 849.6L458.5 849.8L459.2 850L460 850.1L460.8 850.3L461.5 850.5L462.3 850.7L463.1 850.9L463.8 851.1L464.6 851.3L465.4 851.6L466.2 851.8L466.9 852L467.7 852.3L468.5 852.5L469.2 852.8L470 853L470.8 853.3L471.5 853.6L472.3 853.8L473.1 854.1L473.8 854.4L474.6 854.6L475.4 854.9L476.2 855.2L476.9 855.5L477.7 855.7L478.5 856L479.2 856.3L480 856.5L480.8 856.8L481.5 857L482.2 857.3L483 857.5L483.8 857.7L484.5 858L485.2 858.2L486 858.4L486.8 858.7L487.5 858.9L488.2 859.2L489 859.4L489.8 859.7L490.5 860L491.2 860.2L492 860.5L492.8 860.8L493.5 861.2L494.2 861.5L495 861.8L495.8 862.2L496.6 862.6L497.3 863.1L498.1 863.5L498.9 863.9L499.7 864.4L500.5 864.9L501.2 865.4L502 865.9L502.8 866.4L503.6 866.9L504.4 867.4L505.2 867.9L505.9 868.3L506.7 868.6L507.5 868.6L507.5 868.6Z"/>
<path d="M495.8 828.3L495.8 828.3L496.6 828.3L497.4 828.3L498.2 828L499 827.7L499.7 827.5L500.5 827.2L501.3 827L502.1 826.7L502.9 826.4L503.7 826.2L504.5 825.8L505.3 825.5L506.1 825.1L506.8 824.7L507.6 824.3L508.4 823.8L509.2 823.2L510 822.6L510.8 821.8L511.5 821L512.3 819.9L513 818.8L513.8 817.6L514.6 816.4L515.3 815.1L516.1 813.8L516.9 812.6L517.6 811.5L518.4 810.4L519.2 809.5L519.9 808.7L520.7 808.2L521.4 807.8L522.2 807.7L523 807.8L523.9 808.1L524.7 808.5L525.5 809L526.3 809.4L527.2 809.7L528 809.8L528.8 809.8L529.6 809.7L530.4 809.6L531.2 809.4L532 809.3L532.7 809.1L533.5 809L534.3 808.8L535.1 808.8L535.9 808.7L536.7 808.8L537.4 809.2L538.2 809.8L538.9 810.5L539.7 811.3L540.5 812.3L541.2 813.3L542 814.3L542.7 815.4L543.5 816.4L544.2 817.4L545 818.3L545.8 819.2L546.6 820L547.4 820.9L548.1 821.8L548.9 822.7L549.7 823.6L550.5 824.5L551.3 825.4L552 826.3L552.8 827.2L553.6 828.1L554.4 828.3L554.4 828.3Z"/>
<path d="M513.4 841.6L513.4 841.6L514.2 841.6L514.9 841.6L515.7 841.3L516.4 841L517.2 840.7L517.9 840.5L518.7 840.2L519.4 839.9L520.2 839.7L520.9 839.4L521.7 839.1L522.5 838.8L523.2 838.5L524 838.2L524.7 837.9L525.5 837.5L526.2 837.1L527 836.7L527.7 836.3L528.5 835.8L529.2 835.3L530 834.8L530.8 834.2L531.5 833.4L532.3 832.6L533 831.7L533.8 830.7L534.6 829.7L535.3 828.7L536.1 827.7L536.9 826.6L537.6 825.6L538.4 824.7L539.1 823.8L539.9 823L540.7 822.3L541.4 821.8L542.2 821.3L542.9 821.1L543.7 821L544.5 821L545.2 821.3L546 821.7L546.7 822.3L547.5 822.9L548.2 823.7L549 824.5L549.7 825.4L550.5 826.3L551.2 827.2L552 828.2L552.7 829.1L553.5 830L554.2 830.8L555 831.6L555.8 832.4L556.6 833.1L557.4 833.9L558.1 834.6L558.9 835.4L559.7 836.2L560.5 836.9L561.3 837.7L562.1 838.4L562.9 839.2L563.6 840L564.4 840.7L565.2 841.5L566 841.6L566 841.6Z"/>
<path d="M530 854L530 854L530.8 854L531.5 853.6L532.2 853.1L533 852.6L533.8 852.2L534.5 851.7L535.2 851.2L536 850.7L536.8 850.2L537.5 849.7L538.2 849.2L539 848.7L539.8 848.2L540.5 847.7L541.2 847.1L542 846.6L542.8 846L543.5 845.3L544.2 844.7L545 844L545.8 843.2L546.6 842.2L547.4 841.1L548.1 840L548.9 838.8L549.7 837.6L550.5 836.5L551.3 835.5L552 834.6L552.8 834L553.6 833.5L554.4 833.4L555.2 833.5L555.9 833.8L556.7 834.3L557.4 834.9L558.2 835.7L558.9 836.5L559.7 837.4L560.5 838.4L561.2 839.4L562 840.4L562.7 841.4L563.5 842.4L564.2 843.2L565 844L565.8 844.7L566.5 845.4L567.2 846.1L568 846.8L568.8 847.5L569.5 848.1L570.2 848.8L571 849.4L571.8 850.1L572.5 850.7L573.2 851.4L574 852L574.8 852.7L575.5 853.3L576.2 854L577 854L577 854Z"/>
<path d="M551.5 864.6L551.5 864.6L552.2 864.6L553 864.6L553.8 864.3L554.5 864L555.2 863.8L556 863.5L556.8 863.2L557.5 862.9L558.2 862.6L559 862.3L559.8 862L560.5 861.6L561.2 861.3L562 860.9L562.8 860.4L563.5 860L564.2 859.5L565 858.9L565.8 858.3L566.5 857.6L567.3 856.8L568.1 856L568.8 855.1L569.6 854.2L570.4 853.3L571.2 852.4L571.9 851.5L572.7 850.6L573.5 849.8L574.2 849L575 848.3L575.8 847.5L576.7 846.7L577.5 845.9L578.3 845.1L579.1 844.5L580 844.2L580.8 844L581.7 844.4L582.5 845.4L583.4 846.8L584.3 848.6L585.1 850.6L586 852.5L586.8 854.4L587.5 856.4L588.3 858.6L589.1 860.9L589.8 863.1L590.6 864.6L590.6 864.6Z"/>
<path d="M424.4 908.9L424.4 908.9L425.2 908.9L426 908.7L426.7 908.2L427.5 907.7L428.3 907.2L429.1 906.8L429.9 906.3L430.6 905.8L431.4 905.3L432.2 904.9L433 904.4L433.8 903.9L434.5 903.4L435.3 903L436.1 902.5L436.9 902L437.7 901.5L438.4 901L439.2 900.5L440 900.1L440.8 899.6L441.5 899.1L442.2 898.6L443 898L443.8 897.5L444.5 897L445.2 896.4L446 895.9L446.8 895.4L447.5 894.8L448.2 894.3L449 893.8L449.8 893.3L450.5 892.8L451.2 892.4L452 891.9L452.8 891.5L453.5 891.1L454.2 890.8L455 890.5L455.8 890.2L456.6 889.9L457.4 889.7L458.2 889.4L458.9 889.2L459.7 889.1L460.5 888.9L461.3 888.8L462.1 888.7L462.9 888.6L463.7 888.5L464.5 888.5L465.2 888.4L466 888.4L466.8 888.4L467.6 888.3L468.4 888.3L469.2 888.3L469.9 888.4L470.7 888.4L471.4 888.4L472.2 888.4L472.9 888.5L473.7 888.5L474.4 888.6L475.2 888.7L475.9 888.7L476.7 888.8L477.5 888.9L478.2 889L479 889.1L479.7 889.3L480.5 889.4L481.2 889.6L482 889.7L482.7 889.9L483.5 890.1L484.2 890.3L485 890.5L485.8 890.7L486.5 890.9L487.2 891.2L488 891.4L488.8 891.7L489.5 892L490.2 892.3L491 892.6L491.8 892.9L492.5 893.3L493.2 893.6L494 894L494.8 894.3L495.5 894.7L496.2 895L497 895.4L497.8 895.8L498.5 896.1L499.2 896.5L500 896.9L500.8 897.2L501.5 897.6L502.2 897.9L503 898.3L503.8 898.6L504.5 899L505.2 899.3L506 899.7L506.8 900.1L507.5 900.5L508.2 900.9L509 901.3L509.8 901.8L510.5 902.2L511.2 902.7L512 903.2L512.8 903.8L513.6 904.5L514.4 905.2L515.2 905.9L516.1 906.7L516.9 907.4L517.7 908.2L518.5 908.9L519.3 908.9L519.3 908.9Z"/>
<path d="M515.3 893L515.3 893L516.1 893L516.8 893L517.6 892.7L518.4 892.4L519.2 892.1L519.9 891.8L520.7 891.5L521.5 891.2L522.3 890.9L523 890.6L523.8 890.2L524.6 889.9L525.4 889.6L526.1 889.2L526.9 888.9L527.7 888.5L528.5 888.1L529.2 887.7L530 887.3L530.8 886.8L531.5 886.3L532.3 885.8L533 885.2L533.8 884.6L534.5 884L535.3 883.3L536 882.7L536.8 882L537.5 881.3L538.3 880.7L539.1 880L539.8 879.4L540.6 878.8L541.3 878.3L542.1 877.8L542.8 877.3L543.6 876.9L544.3 876.6L545.1 876.3L545.8 876.1L546.6 876L547.4 875.9L548.2 875.9L549 875.8L549.8 875.8L550.5 875.8L551.3 875.7L552.1 875.7L552.9 875.7L553.7 875.7L554.5 875.7L555.3 875.7L556.1 875.7L556.8 875.6L557.6 875.6L558.4 875.6L559.2 875.6L560 875.6L560.8 875.5L561.6 875.4L562.3 875.3L563.1 875.1L563.9 874.9L564.7 874.7L565.4 874.4L566.2 874.2L567 873.9L567.8 873.7L568.6 873.4L569.3 873.2L570.1 873L570.9 872.8L571.7 872.6L572.4 872.5L573.2 872.4L574 872.4L574.8 872.5L575.5 872.7L576.2 873.2L577 873.7L577.8 874.4L578.5 875.2L579.2 876L580 876.9L580.8 877.9L581.5 878.9L582.2 879.9L583 880.9L583.8 881.9L584.5 883.1L585.3 884.3L586 885.6L586.8 886.9L587.6 888.3L588.3 889.7L589.1 891L589.8 892.4L590.6 893L590.6 893Z"/>
<path d="M484 924.9L484 924.9L484.8 924.9L485.5 924.9L486.2 924.9L487 924.9L487.8 924.9L488.5 924.9L489.2 924.9L490 924.9L490.8 924.9L491.5 924.9L492.2 924.9L493 924.9L493.8 924.8L494.5 924.7L495.2 924.7L496 924.6L496.8 924.5L497.5 924.4L498.2 924.3L499 924.2L499.8 924L500.5 923.9L501.2 923.7L502 923.5L502.8 923.2L503.5 923L504.2 922.7L505 922.4L505.8 922.1L506.5 921.7L507.3 921.3L508.1 920.9L508.8 920.4L509.6 919.9L510.4 919.4L511.2 918.8L511.9 918.2L512.7 917.5L513.5 916.7L514.2 915.9L515 914.9L515.8 913.8L516.5 912.2L517.3 910.5L518.1 908.7L518.9 907L519.7 905.6L520.4 904.6L521.2 904.3L522 905.1L522.7 907.1L523.5 909.5L524.2 911.7L525 912.8L525.8 913.2L526.5 913.6L527.3 913.9L528 914.1L528.8 914.3L529.5 914.5L530.3 914.7L531 914.8L531.8 914.9L532.5 915L533.3 915.1L534 915.2L534.8 915.2L535.5 915.3L536.3 915.4L537 915.4L537.8 915.5L538.5 915.6L539.3 915.7L540 915.8L540.8 916L541.6 916.3L542.4 916.6L543.1 917L543.9 917.6L544.7 918.2L545.5 918.9L546.3 919.6L547 920.3L547.8 921.1L548.6 921.9L549.4 922.7L550.2 923.5L550.9 924.2L551.7 924.9L552.5 924.9L552.5 924.9Z"/>
<path d="M515.3 935.5L515.3 935.5L516.1 935.5L516.8 935.4L517.6 934.9L518.4 934.5L519.2 934.1L519.9 933.7L520.7 933.2L521.5 932.8L522.3 932.4L523 932L523.8 931.5L524.6 931.1L525.4 930.7L526.1 930.2L526.9 929.7L527.7 929.3L528.5 928.8L529.2 928.2L530 927.7L530.8 927.1L531.6 926.5L532.4 925.8L533.1 925L533.9 924.2L534.7 923.3L535.5 922.5L536.3 921.6L537.1 920.8L537.9 920L538.6 919.1L539.4 918.4L540.2 917.7L541 917L541.8 916.4L542.6 915.9L543.3 915.5L544.1 915.2L544.9 915L545.7 914.9L546.5 915L547.2 915.2L548 915.6L548.7 916L549.5 916.6L550.2 917.2L551 917.9L551.7 918.7L552.5 919.5L553.2 920.4L554 921.3L554.7 922.2L555.5 923.1L556.2 923.9L557 924.8L557.7 925.6L558.5 926.4L559.2 927.1L560 927.7L560.8 928.3L561.5 928.9L562.3 929.4L563.1 929.9L563.8 930.4L564.6 930.9L565.4 931.4L566.1 931.9L566.9 932.4L567.6 932.9L568.4 933.4L569.2 933.8L569.9 934.3L570.7 934.8L571.5 935.2L572.2 935.5L573 935.5L573 935.5Z"/>
<path d="M447 982.6L447 982.6L447.8 980L448.5 976.8L449.2 973.6L450 970.5L451 966L452 963L452.9 962.4L453.8 962.1L454.7 962L455.6 962L456.5 962.4L457.4 963.4L458.2 964.8L459.1 966.2L460 967.3L460.8 968.1L461.6 968.8L462.4 969.5L463.1 970.1L463.9 970.7L464.7 971.3L465.5 971.9L466.3 972.5L467.1 973.1L467.9 973.6L468.6 974.2L469.4 974.7L470.2 975.3L471 975.8L471.8 976.4L472.6 976.9L473.4 977.5L474.1 978L474.9 978.6L475.7 979.1L476.5 979.6L477.3 980.1L478.1 980.7L478.9 981.2L479.6 981.7L480.4 982.2L481.2 982.6L482 982.6L482 982.6Z"/>
<path d="M455.6 1008.3L455.6 1008.3L456.4 1007.6L457.2 1006.1L458 1004.6L458.8 1003L459.6 1001.5L460.3 1000L461.1 998.6L461.9 997.3L462.7 996L463.5 995L464.3 994L465.1 993.1L465.8 992.3L466.6 991.5L467.4 990.8L468.2 990.1L468.9 989.5L469.7 989L470.5 988.5L471.3 988.2L472 987.9L472.8 987.8L473.6 987.7L474.4 987.8L475.2 987.9L476 988.1L476.8 988.4L477.5 988.7L478.3 989.1L479.1 989.7L479.9 990.3L480.7 990.9L481.5 991.8L482.3 992.7L483.1 993.8L483.9 995L484.6 996.2L485.4 997.4L486.2 998.6L487 999.7L487.8 1000.7L488.5 1001.6L489.3 1002.6L490.1 1003.5L490.9 1004.4L491.6 1005.4L492.4 1006.3L493.2 1007.2L493.9 1008.1L494.7 1008.3L494.7 1008.3Z"/>
<path d="M466 1045.7L466 1045.7L466.8 1045.6L467.5 1044.9L468.3 1044.1L469.1 1043.4L469.8 1042.7L470.6 1041.9L471.4 1041.2L472.1 1040.4L472.9 1039.7L473.6 1038.9L474.4 1038.2L475.2 1037.4L475.9 1036.7L476.7 1035.9L477.5 1035.2L478.2 1034.4L479 1033.6L479.8 1032.7L480.6 1031.7L481.4 1030.6L482.2 1029.4L483 1028.3L483.8 1027.3L484.6 1026.4L485.4 1025.7L486.2 1025.3L487 1025.1L487.8 1025.2L488.6 1025.4L489.4 1025.7L490.2 1026.2L491 1026.7L491.8 1027.3L492.6 1028L493.4 1028.8L494.2 1029.6L495 1030.4L495.8 1031.3L496.6 1032.3L497.4 1033.3L498.2 1034.4L499 1035.6L499.8 1036.8L500.6 1038L501.4 1039.3L502.2 1040.5L503 1041.7L503.8 1042.8L504.5 1044L505.2 1045.2L506 1045.7L506 1045.7Z"/>
<path d="M488 1106.2L488 1106.2L488.8 1106.2L489.6 1105.5L490.3 1104.8L491.1 1104.2L491.9 1103.5L492.7 1102.8L493.4 1102.1L494.2 1101.3L495 1100.5L495.8 1099.7L496.6 1098.8L497.3 1097.9L498.1 1096.9L498.9 1096L499.7 1095L500.4 1094L501.2 1093L502 1092L502.8 1090.8L503.5 1089.4L504.2 1088L505 1086.8L505.8 1085.9L506.5 1085.6L507.4 1085.8L508.2 1086.3L509.1 1087.3L510 1088.8L510.8 1090.6L511.6 1092.8L512.4 1095.4L513.2 1098L514 1100.5L515 1103.7L516 1106.2L516 1106.2Z"/>
<path d="M519.4 1016.4L519.4 1016.4L520 1004.4L520.4 995.8L521.2 998.4L522 1002.2L522.8 1004.2L523.5 1005.7L524.2 1007.1L525 1008.6L525.8 1010.3L526.5 1012L527.3 1013.7L528 1015.4L528.8 1016.4L528.8 1016.4Z"/>
<path d="M524.9 1033.5L524.9 1033.5L525.8 1032.1L526.6 1029.9L527.5 1027.7L528.3 1025.6L529.1 1023.5L530 1021.4L530.8 1019.4L531.5 1017.1L532.3 1015L533 1013.5L533.8 1012.9L534.6 1013.8L535.4 1016.1L536.2 1018.9L537 1021.4L537.8 1023.5L538.6 1025.7L539.4 1027.8L540.1 1029.9L540.9 1032.1L541.7 1033.5L541.7 1033.5Z"/>
<path d="M528.8 1053.4L528.8 1053.4L529.6 1052.5L530.3 1050.9L531.1 1049.3L531.9 1047.7L532.7 1046L533.5 1044.5L534.2 1042.9L535 1041.4L535.8 1039.7L536.6 1037.8L537.4 1036L538.1 1034.4L538.9 1033.3L539.7 1032.8L540.5 1033.7L541.4 1035.9L542.2 1038.6L543 1041.4L543.9 1044.3L544.9 1047.6L545.8 1050.9L546.7 1053.4L546.7 1053.4Z"/>
<path d="M541.7 1034.8L541.7 1034.8L542.5 1033.7L543.2 1031.8L544 1029.9L544.7 1028L545.5 1026.2L546.2 1024.4L547 1022.7L547.8 1021L548.5 1019.1L549.3 1017.3L550.1 1015.7L550.8 1014.6L551.6 1014.2L552.4 1014.3L553.1 1014.7L553.9 1015.2L554.7 1015.9L555.4 1016.6L556.2 1017.5L556.9 1018.4L557.7 1019.3L558.5 1020.1L559.2 1021L560 1021.7L560.8 1022.4L561.5 1023L562.3 1023.7L563.1 1024.4L563.8 1025L564.6 1025.7L565.4 1026.4L566.2 1027L566.9 1027.7L567.7 1028.3L568.5 1029L569.2 1029.6L570 1030.2L570.8 1030.8L571.6 1031.5L572.5 1032.1L573.3 1032.6L574.1 1033.2L574.9 1033.8L575.8 1034.4L576.6 1034.8L577.4 1034.8L577.4 1034.8Z"/>
<path d="M532.3 1072.1L532.3 1072.1L533.1 1071.2L533.9 1069.7L534.7 1068.2L535.6 1066.7L536.4 1065.2L537.2 1063.6L538 1062.1L538.8 1060.4L539.6 1058.4L540.4 1056.4L541.3 1054.5L542.1 1053L542.9 1051.9L543.7 1051.5L544.5 1052.7L545.2 1055.9L546 1060L546.9 1066L547.7 1072.1L547.7 1072.1Z"/>
<path d="M538.2 1088L538.2 1088L539 1087.2L539.9 1085.7L540.7 1084.2L541.5 1082.7L542.3 1081.1L543.2 1079.6L544 1078.1L544.8 1076.4L545.6 1074.4L546.4 1072.4L547.2 1070.5L548 1068.9L548.8 1067.8L549.6 1067.4L550.4 1067.8L551.1 1068.7L551.9 1070.1L552.7 1071.8L553.5 1073.6L554.2 1075.4L555 1077L555.8 1078.6L556.6 1080.2L557.4 1081.9L558.1 1083.6L558.9 1085.3L559.7 1087L560.5 1088L560.5 1088Z"/>
<path d="M554.6 1105.8L554.6 1105.8L555.4 1105L556.2 1103.6L557.1 1102.2L557.9 1100.7L558.7 1099.3L559.5 1097.9L560.4 1096.5L561.2 1095.1L562 1093.7L562.8 1092.3L563.5 1090.7L564.3 1089.1L565 1087.6L565.8 1086.3L566.5 1085.5L567.3 1085.2L568.2 1086L569.1 1088L570.1 1090.8L571 1093.7L571.9 1096.5L572.7 1099.8L573.5 1103.1L574.4 1105.8L574.4 1105.8Z"/>
<path d="M572.4 1091.6L572.4 1091.6L573.2 1091.2L573.9 1090.2L574.7 1089.2L575.4 1088.2L576.2 1087.1L577 1086.1L577.7 1085.1L578.5 1084L579.2 1082.8L580 1081.6L580.8 1080L581.7 1078.1L582.5 1076.1L583.3 1074.2L584.1 1072.5L585 1071.4L585.8 1071L586.6 1071.8L587.4 1074L588.2 1076.8L589 1079.5L589.8 1081.9L590.5 1084.4L591.3 1087L592 1089.7L592.8 1091.6L592.8 1091.6Z"/>
<path d="M559.6 1119.9L559.6 1119.9L560.4 1119.9L561.1 1119.1L561.9 1118.4L562.7 1117.6L563.4 1116.9L564.2 1116.1L564.9 1115.4L565.7 1114.6L566.5 1113.8L567.2 1113L568 1112.1L568.8 1111.2L569.5 1110L570.3 1108.8L571 1107.5L571.8 1106.2L572.6 1104.9L573.3 1103.7L574.1 1102.5L574.9 1101.5L575.6 1100.6L576.4 1099.9L577.1 1099.5L577.9 1099.3L578.8 1099.7L579.6 1100.8L580.5 1102.3L581.3 1104.1L582.1 1106L583 1107.9L583.8 1109.5L584.5 1111.2L585.3 1113.1L586 1115L586.8 1116.9L587.5 1118.8L588.3 1119.9L588.3 1119.9Z"/>
<path d="M499 1196L499 1196L499.8 1195.7L500.5 1194.8L501.2 1194L502 1193.1L502.8 1192.1L503.5 1191.2L504.2 1190.2L505 1189.2L505.8 1188.1L506.5 1186.9L507.2 1185.7L508 1184.4L508.8 1183.1L509.5 1181.9L510.2 1180.7L511 1179.6L511.9 1178.3L512.8 1176.9L513.6 1175.8L514.5 1175.4L515.3 1176.3L516.2 1178.7L517 1181.7L517.8 1185L518.5 1188.7L519.2 1192.8L520 1196L520 1196Z"/>
<path d="M506.5 1162.5L506.5 1162.5L507.3 1161.8L508.1 1160.4L508.9 1159L509.6 1157.7L510.4 1156.3L511.2 1154.9L512 1153.6L512.8 1152.3L513.5 1151.1L514.2 1149.8L515 1148.6L515.8 1147.3L516.5 1146.2L517.2 1145.1L518 1144L519 1142.6L520 1141.9L520.8 1142.8L521.5 1144.9L522.2 1147.7L523 1150.4L523.9 1153.4L524.7 1156.6L525.5 1159.9L526.4 1162.5L526.4 1162.5Z"/>
<path d="M532.5 1148.3L532.5 1148.3L533.2 1148.3L534 1148.3L534.8 1148.2L535.5 1148L536.2 1147.8L537 1147.5L537.8 1147.2L538.5 1146.8L539.2 1146.4L540 1145.8L540.8 1145.1L541.5 1144.4L542.2 1143.5L543 1142.6L543.8 1141.6L544.5 1140.6L545.2 1139.5L546 1138.4L546.8 1137L547.5 1135.4L548.2 1133.7L549 1131.9L549.8 1130.3L550.5 1128.9L551.2 1128L552 1127.7L552.8 1127.9L553.6 1128.3L554.4 1128.9L555.2 1129.8L556 1130.8L556.8 1131.8L557.6 1133L558.4 1134.1L559.2 1135.2L560 1136.2L560.8 1137.2L561.6 1138.2L562.4 1139.2L563.2 1140.3L564 1141.4L564.8 1142.5L565.5 1143.5L566.3 1144.6L567.1 1145.8L567.9 1146.8L568.7 1147.9L569.5 1148.3L569.5 1148.3Z"/>
<path d="M519.5 1176.7L519.5 1176.7L520.2 1176L521 1174.7L521.8 1173.4L522.5 1172L523.2 1170.5L524 1168.9L524.8 1166.9L525.5 1164.6L526.2 1162.4L527 1160.3L528 1157.6L529.1 1156.1L530.5 1164.6L531.8 1176.7L531.8 1176.7Z"/>
<path d="M518.3 1229.4L518.3 1229.4L519.2 1215.2L519.8 1208.8L520.4 1217.3L521.2 1229.4L521.2 1229.4Z"/>
<path d="M522.5 1260.9L522.5 1260.9L523.4 1246.7L524.1 1240.3L524.7 1248.8L525.5 1260.9L525.5 1260.9Z"/>
<path d="M527 1222.8L527 1222.8L527.8 1220.3L528.6 1217L529.4 1213.8L530.2 1210.9L531 1208.6L531.8 1206.6L532.7 1205.1L533.5 1203.8L534.3 1202.9L535.2 1202.4L536 1202.2L536.8 1202.4L537.5 1202.8L538.2 1203.5L539 1204.4L539.8 1205.5L540.5 1206.5L541.2 1207.6L542 1208.6L542.8 1209.5L543.5 1210.5L544.2 1211.6L545 1212.6L545.8 1213.7L546.5 1214.8L547.2 1216L548 1217.1L548.8 1218.3L549.6 1219.6L550.4 1220.9L551.2 1222.2L552 1222.8L552 1222.8Z"/>
<path d="M534 1233.4L534 1233.4L534.8 1232.5L535.6 1230.8L536.4 1229.1L537.2 1227.4L538.1 1225.7L538.9 1224.2L539.7 1222.7L540.5 1221.3L541.2 1220.2L542 1219L542.8 1217.8L543.5 1216.7L544.2 1215.6L545 1214.7L545.8 1213.9L546.5 1213.3L547.2 1213L548 1212.8L548.8 1212.9L549.5 1213.1L550.2 1213.4L551 1213.9L551.8 1214.4L552.5 1215L553.2 1215.6L554 1216.3L554.8 1217L555.5 1217.7L556.2 1218.4L557 1219L557.8 1219.7L558.6 1220.4L559.4 1221.2L560.2 1222L561 1222.8L561.8 1223.6L562.6 1224.4L563.4 1225.2L564.2 1225.9L565 1226.7L565.8 1227.3L566.5 1228L567.2 1228.6L568 1229.2L568.8 1229.9L569.5 1230.5L570.2 1231.1L571 1231.7L571.8 1232.3L572.5 1232.9L573.2 1233.4L574 1233.4L574 1233.4Z"/>
<path d="M526 1299L526 1299L527 1293L528 1286.9L529.1 1281.2L530.2 1278.4L531.1 1281.5L532 1286.9L532.8 1291.1L533.7 1295.4L534.5 1299L534.5 1299Z"/>
<path d="M526.7 1343.2L526.7 1343.2L527.5 1340.6L528.4 1337.2L529.2 1334L530 1331.2L530.9 1328.2L531.8 1325.5L532.7 1323.4L533.6 1322.6L534.5 1323.5L535.3 1325.7L536.1 1328.4L537 1331.2L537.8 1333.5L538.5 1336L539.3 1338.7L540 1341.3L540.8 1343.2L540.8 1343.2Z"/>
<path d="M533 1301.7L533 1301.7L533.8 1299.8L534.6 1297.2L535.4 1294.6L536.2 1292.1L537 1289.6L537.8 1287L538.5 1284.2L539.2 1282L540 1281.1L540.8 1281.7L541.6 1283.2L542.4 1285.3L543.2 1287.6L544 1289.6L544.8 1291.4L545.5 1293.2L546.3 1295L547.1 1296.8L547.9 1298.7L548.6 1300.5L549.4 1301.7L549.4 1301.7Z"/>
<path d="M535.3 1279.5L535.3 1279.5L536.1 1278L536.9 1275.8L537.6 1273.6L538.4 1271.4L539.2 1269.3L540 1267.4L540.8 1265.6L541.6 1263.7L542.4 1261.8L543.1 1260.3L543.9 1259.3L544.7 1258.9L545.5 1260.4L546.2 1263.7L547 1267.4L547.8 1271.4L548.6 1275.8L549.4 1279.5L549.4 1279.5Z"/>
<path d="M541.6 1290.2L541.6 1290.2L542.4 1289L543.1 1287.1L543.9 1285.3L544.7 1283.4L545.5 1281.6L546.2 1279.8L547 1278.1L547.9 1276L548.8 1273.7L549.6 1271.6L550.5 1270.1L551.4 1269.6L552.2 1269.8L553 1270.3L553.9 1271.2L554.7 1272.3L555.5 1273.4L556.4 1274.7L557.2 1275.9L558 1277L558.8 1278L559.6 1279.1L560.3 1280.2L561.1 1281.3L561.9 1282.4L562.7 1283.5L563.4 1284.6L564.2 1285.6L565 1286.6L565.8 1287.5L566.6 1288.4L567.4 1289.2L568.2 1290L569 1290.2L569 1290.2Z"/>
<path d="M536.1 1323.8L536.1 1323.8L536.9 1322.4L537.7 1320.2L538.5 1318L539.4 1315.8L540.2 1313.7L541 1311.8L541.8 1309.7L542.6 1307.4L543.5 1305.3L544.3 1303.8L545.1 1303.2L546.1 1304.6L547 1307.9L548 1311.8L548.9 1315.6L549.7 1320.1L550.6 1323.8L550.6 1323.8Z"/>
<path d="M540.8 1336.3L540.8 1336.3L541.6 1335.4L542.3 1333.8L543.1 1332.2L543.9 1330.6L544.7 1329L545.5 1327.4L546.2 1325.8L547 1324.2L547.8 1322.2L548.6 1320L549.4 1317.9L550.2 1316.3L551 1315.7L551.8 1316.1L552.6 1317.4L553.4 1319.3L554.2 1321.7L555 1324.2L555.8 1326.9L556.5 1330.2L557.2 1333.6L558 1336.3L558 1336.3Z"/>
<path d="M547.8 1346.9L547.8 1346.9L548.6 1346.3L549.4 1345L550.3 1343.7L551.1 1342.4L551.9 1341.1L552.7 1339.8L553.5 1338.5L554.4 1337.2L555.2 1336L556 1334.8L556.8 1333.5L557.7 1332.2L558.5 1330.7L559.4 1329.4L560.2 1328.2L561 1327.2L561.9 1326.5L562.7 1326.3L563.5 1326.4L564.2 1326.8L565 1327.3L565.7 1328L566.5 1328.8L567.2 1329.7L568 1330.6L568.8 1331.6L569.6 1332.8L570.4 1334.1L571.2 1335.5L572 1336.9L572.8 1338.4L573.6 1339.9L574.4 1341.4L575.1 1342.9L575.9 1344.5L576.7 1346.1L577.5 1346.9L577.5 1346.9Z"/>
<path d="M530.3 1384.8L530.3 1384.8L531.1 1383.4L531.9 1381.3L532.6 1379.2L533.4 1377.1L534.2 1374.9L535 1372.7L536 1369.3L536.9 1365.8L537.9 1364.2L539 1367.2L540 1372.7L541.1 1378.9L542.2 1384.8L542.2 1384.8Z"/>
<path d="M534.7 1401.4L534.7 1401.4L535.6 1399.5L536.4 1396.9L537.3 1394.3L538.1 1391.7L539 1389.3L539.9 1386.7L540.8 1383.9L541.7 1381.7L542.6 1380.8L543.5 1381.8L544.3 1384.1L545.1 1386.9L546 1389.3L546.8 1391.2L547.6 1393.1L548.4 1394.9L549.3 1396.7L550.1 1398.5L550.9 1400.3L551.7 1401.4L551.7 1401.4Z"/>
<path d="M538.7 1420.5L538.7 1420.5L539.6 1418.6L540.4 1415.9L541.3 1413.2L542.1 1410.7L543 1408.4L543.9 1406.1L544.8 1403.8L545.6 1401.8L546.5 1400.4L547.4 1399.9L548.3 1400.8L549.2 1403L550.1 1405.8L551 1408.4L551.8 1410.5L552.7 1412.6L553.5 1414.7L554.3 1416.9L555.2 1419L556 1420.5L556 1420.5Z"/>
<path d="M557.4 1403.6L557.4 1403.6L558.2 1403.1L559 1402L559.9 1400.8L560.7 1399.6L561.5 1398.4L562.4 1397.2L563.2 1396L564 1394.8L564.8 1393.6L565.5 1392.3L566.2 1390.9L567 1389.6L567.8 1388.3L568.5 1387.1L569.2 1386.1L570 1385.2L570.8 1384.4L571.6 1383.8L572.4 1383.4L573.2 1383.1L574 1383L574.8 1383.2L575.5 1383.7L576.2 1384.5L577 1385.5L577.8 1386.7L578.5 1387.9L579.2 1389.2L580 1390.5L580.8 1391.9L581.6 1393.5L582.4 1395.3L583.2 1397.1L584.1 1398.9L584.9 1400.7L585.7 1402.6L586.5 1403.6L586.5 1403.6Z"/>
<path d="M543.7 1437.3L543.7 1437.3L544.5 1436.2L545.2 1434.3L546 1432.3L546.7 1430.4L547.5 1428.6L548.2 1426.9L549 1425.2L549.9 1423.4L550.7 1421.5L551.5 1419.7L552.4 1418.2L553.2 1417.1L554.1 1416.7L555 1419.8L556 1425.2L557.1 1431.5L558.2 1437.3L558.2 1437.3Z"/>
<path d="M548.2 1449.7L548.2 1449.7L549 1449L549.7 1447.6L550.5 1446.1L551.2 1444.7L552 1443.3L552.7 1441.8L553.5 1440.4L554.2 1439L555 1437.7L555.8 1436L556.6 1434.1L557.5 1432.3L558.3 1430.7L559.1 1429.6L559.9 1429.1L560.7 1429.7L561.5 1431.2L562.4 1433.3L563.2 1435.6L564 1437.7L564.8 1439.7L565.7 1441.7L566.5 1443.9L567.3 1446.1L568.2 1448.3L569 1449.7L569 1449.7Z"/>
<path d="M564.9 1460.4L564.9 1460.4L565.7 1459.5L566.4 1457.8L567.2 1456.1L568 1454.4L568.7 1452.8L569.5 1451.2L570.2 1449.7L571 1448.3L571.8 1446.7L572.7 1445.1L573.5 1443.5L574.4 1442L575.2 1440.9L576.1 1440.1L576.9 1439.8L577.7 1440.2L578.5 1441.3L579.4 1442.8L580.2 1444.5L581 1446.2L581.8 1447.7L582.6 1449.2L583.4 1450.9L584.2 1452.5L584.9 1454.2L585.7 1456L586.5 1457.7L587.3 1459.4L588.1 1460.4L588.1 1460.4Z"/>
</g>
<g fill="none" stroke="#645c5c" stroke-width="1.7" stroke-linejoin="round">
<path d="M4.9 82.1L4.9 82.1L5.7 82.1L6.4 82L7.2 82L7.9 81.9L8.7 81.9L9.4 81.8L10.2 81.8L10.9 81.8L11.7 81.7L12.4 81.7L13.2 81.6L13.9 81.6L14.7 81.5L15.4 81.5L16.1 81.4L16.9 81.4L17.6 81.3L18.4 81.3L19.1 81.2L19.9 81.2L20.6 81.1L21.4 81.1L22.1 81L22.9 81L23.6 80.9L24.4 80.9L25.2 80.8L25.9 80.7L26.7 80.7L27.5 80.6L28.2 80.5L29 80.5L29.8 80.4L30.5 80.3L31.3 80.3L32.1 80.2L32.8 80.2L33.6 80.1L34.4 80L35.1 79.9L35.9 79.9L36.6 79.8L37.4 79.7L38.2 79.7L38.9 79.6L39.7 79.5L40.5 79.4L41.2 79.4L42 79.3L42.8 79.2L43.5 79.1L44.3 79L45.1 79L45.8 78.9L46.6 78.8L47.4 78.7L48.1 78.6L48.9 78.5L49.7 78.4L50.4 78.3L51.2 78.2L51.9 78.1L52.7 78L53.5 77.9L54.2 77.8L55 77.7L55.8 77.6L56.5 77.5L57.3 77.4L58 77.3L58.8 77.2L59.6 77.1L60.3 77L61.1 76.9L61.9 76.7L62.6 76.6L63.4 76.5L64.2 76.4L64.9 76.3L65.7 76.1L66.4 76L67.2 75.9L68 75.8L68.7 75.7L69.5 75.5L70.2 75.4L71 75.3L71.8 75.1L72.5 75L73.3 74.9L74.1 74.8L74.8 74.6L75.6 74.5L76.3 74.4L77.1 74.2L77.8 74.1L78.6 74L79.3 73.8L80.1 73.7L80.8 73.6L81.6 73.4L82.3 73.3L83.1 73.1L83.9 73L84.6 72.8L85.4 72.7L86.1 72.5L86.9 72.4L87.6 72.2L88.4 72.1L89.1 71.9L89.9 71.8L90.6 71.6L91.4 71.4L92.1 71.2L92.9 71.1L93.7 70.9L94.5 70.7L95.2 70.5L96 70.2L96.8 70L97.6 69.8L98.3 69.6L99.1 69.3L99.9 69.1L100.7 68.9L101.5 68.6L102.2 68.4L103 68.1L103.8 67.9L104.6 67.7L105.3 67.4L106.1 67.2L106.9 67L107.7 66.8L108.4 66.6L109.2 66.4L110 66.2L110.8 66L111.6 65.8L112.3 65.6L113.1 65.4L113.9 65.2L114.7 65L115.4 64.9L116.2 64.7L117 64.5L117.8 64.4L118.5 64.2L119.3 64L120.1 63.9L120.9 63.7L121.7 63.5L122.4 63.4L123.2 63.2L124 63.1L124.8 63L125.5 62.8L126.3 62.7L127.1 62.5L127.9 62.4L128.6 62.3L129.4 62.1L130.2 62L130.9 61.8L131.7 61.7L132.5 61.5L133.2 61.4L134 61.3L134.8 61.2L135.6 61.1L136.3 61L137.1 60.9L137.9 60.9L138.6 60.8L139.4 60.8L140.2 60.8L140.9 60.8L141.7 60.9L142.4 60.9L143.2 60.9L144 60.9L144.7 61L145.5 61L146.3 61L147 61.1L147.8 61.1L148.6 61.2L149.3 61.2L150.1 61.3L150.8 61.4L151.6 61.5L152.4 61.6L153.1 61.6L153.9 61.7L154.7 61.8L155.5 61.9L156.2 62L157 62.1L157.8 62.2L158.6 62.3L159.3 62.4L160.1 62.6L160.9 62.7L161.7 62.8L162.4 63L163.2 63.1L164 63.3L164.8 63.4L165.5 63.6L166.3 63.8L167.1 64L167.8 64.2L168.6 64.4L169.4 64.7L170.1 64.9L170.9 65.1L171.7 65.4L172.4 65.6L173.2 65.9L174 66.2L174.8 66.4L175.5 66.7L176.3 67L177.1 67.3L177.8 67.6L178.6 67.8L179.4 68.1L180.1 68.4L180.9 68.7L181.7 69L182.4 69.3L183.2 69.6L183.9 69.9L184.7 70.2L185.4 70.5L186.2 70.8L186.9 71.1L187.7 71.4L188.4 71.8L189.2 72.1L189.9 72.4L190.7 72.8L191.5 73.1L192.2 73.5L193 73.8L193.8 74.2L194.5 74.6L195.3 74.9L196 75.3L196.8 75.7L197.6 76.1L198.3 76.5L199.1 76.8L199.8 77.2L200.6 77.5L201.4 77.9L202.1 78.2L202.9 78.5L203.7 78.8L204.4 79.1L205.2 79.4L205.9 79.7L206.7 79.9L207.4 80.2L208.2 80.5L208.9 80.7L209.7 80.9L210.4 81.2L211.2 81.4L211.9 81.5L212.7 81.7L213.5 81.8L214.3 81.9L215.1 82L216 82L216.8 82.1L217.6 82.1"/>
<path d="M49 33.7L49 33.7L49.8 33.7L50.5 33.6L51.3 33.5L52 33.5L52.8 33.4L53.6 33.4L54.3 33.3L55.1 33.3L55.8 33.2L56.6 33.2L57.3 33.1L58.1 33.1L58.9 33L59.6 33L60.4 32.9L61.1 32.9L61.9 32.8L62.7 32.7L63.4 32.7L64.2 32.6L64.9 32.6L65.7 32.5L66.4 32.4L67.2 32.4L68 32.3L68.7 32.2L69.5 32.2L70.2 32.1L71 32L71.8 31.9L72.5 31.8L73.3 31.8L74.1 31.7L74.8 31.6L75.6 31.5L76.3 31.4L77.1 31.3L77.9 31.2L78.6 31.1L79.4 31L80.2 31L80.9 30.9L81.7 30.8L82.4 30.7L83.2 30.6L84 30.5L84.7 30.4L85.5 30.3L86.3 30.2L87 30.1L87.8 29.9L88.6 29.8L89.3 29.7L90.1 29.6L90.8 29.5L91.6 29.4L92.4 29.3L93.1 29.2L93.9 29.1L94.7 29L95.4 28.9L96.2 28.7L96.9 28.6L97.7 28.5L98.5 28.4L99.2 28.3L100 28.2L100.8 28.1L101.5 27.9L102.3 27.8L103 27.7L103.8 27.6L104.5 27.5L105.3 27.4L106.1 27.2L106.8 27.1L107.6 27L108.3 26.9L109.1 26.8L109.8 26.6L110.6 26.5L111.4 26.4L112.1 26.3L112.9 26.1L113.6 26L114.4 25.9L115.2 25.8L115.9 25.6L116.7 25.5L117.4 25.4L118.2 25.2L118.9 25.1L119.7 24.9L120.5 24.8L121.2 24.7L122 24.5L122.7 24.4L123.5 24.2L124.2 24.1L125 23.9L125.8 23.8L126.5 23.6L127.3 23.4L128.1 23.3L128.8 23.1L129.6 22.9L130.4 22.7L131.1 22.6L131.9 22.4L132.6 22.2L133.4 22L134.2 21.8L134.9 21.6L135.7 21.5L136.5 21.3L137.2 21.1L138 20.9L138.8 20.7L139.5 20.5L140.3 20.3L141.1 20.1L141.8 19.9L142.6 19.7L143.4 19.5L144.1 19.4L144.9 19.2L145.6 19L146.4 18.8L147.2 18.6L147.9 18.4L148.7 18.3L149.5 18.1L150.2 17.9L151 17.7L151.8 17.6L152.5 17.4L153.3 17.2L154 17.1L154.8 16.9L155.5 16.7L156.3 16.5L157.1 16.3L157.8 16.2L158.6 16L159.3 15.8L160.1 15.6L160.8 15.5L161.6 15.3L162.4 15.1L163.1 15L163.9 14.8L164.6 14.6L165.4 14.5L166.2 14.3L166.9 14.2L167.7 14L168.4 13.8L169.2 13.7L169.9 13.6L170.7 13.4L171.5 13.3L172.2 13.2L173 13L173.7 12.9L174.5 12.8L175.2 12.7L176 12.6L176.8 12.5L177.7 12.5L178.5 12.4L179.3 12.4L180.2 12.4L181 12.4L181.8 12.4L182.5 12.4L183.2 12.4L184 12.4L184.8 12.4L185.5 12.4L186.2 12.5L187 12.5L187.8 12.5L188.5 12.5L189.2 12.5L190 12.6L190.8 12.6L191.5 12.6L192.2 12.7L193 12.7L193.8 12.8L194.5 12.8L195.2 12.9L196 12.9L196.8 13L197.5 13.1L198.2 13.2L199 13.3L199.8 13.4L200.5 13.5L201.2 13.6L202 13.7L202.8 13.8L203.5 14L204.3 14.1L205.1 14.3L205.9 14.5L206.6 14.7L207.4 14.9L208.2 15.1L209 15.3L209.7 15.5L210.5 15.7L211.3 15.9L212 16.1L212.8 16.4L213.6 16.6L214.4 16.8L215.1 17.1L215.9 17.3L216.7 17.5L217.5 17.7L218.2 18L219 18.2L219.8 18.4L220.5 18.6L221.2 18.8L222 19L222.8 19.2L223.5 19.4L224.2 19.6L225 19.8L225.8 20L226.5 20.2L227.2 20.4L228 20.7L228.8 20.9L229.5 21.1L230.2 21.3L231 21.5L231.8 21.7L232.5 21.9L233.2 22.1L234 22.3L234.8 22.5L235.5 22.7L236.2 22.9L237 23.1L237.8 23.3L238.5 23.5L239.2 23.7L240 23.9L240.8 24.1L241.5 24.3L242.3 24.5L243 24.7L243.8 24.8L244.5 25L245.3 25.2L246.1 25.4L246.8 25.6L247.6 25.8L248.3 25.9L249.1 26.1L249.8 26.3L250.6 26.5L251.4 26.6L252.1 26.8L252.9 27L253.6 27.1L254.4 27.3L255.2 27.5L255.9 27.7L256.7 27.8L257.4 28L258.2 28.2L258.9 28.3L259.7 28.5L260.5 28.7L261.2 28.8L262 29L262.7 29.2L263.5 29.3L264.2 29.5L265 29.7L265.8 29.8L266.5 30L267.3 30.2L268 30.3L268.8 30.5L269.6 30.7L270.3 30.8L271.1 31L271.8 31.1L272.6 31.3L273.4 31.5L274.1 31.6L274.9 31.8L275.6 31.9L276.4 32.1L277.2 32.3L277.9 32.4L278.7 32.6L279.4 32.7L280.2 32.9L281 33.1L281.7 33.2L282.5 33.4L283.2 33.6L284 33.7"/>
<path d="M111 46.1L111 46.1L111.8 46.1L112.5 46L113.2 45.9L114 45.9L114.8 45.8L115.5 45.7L116.2 45.7L117 45.6L117.8 45.5L118.5 45.5L119.2 45.4L120 45.4L120.8 45.3L121.5 45.3L122.2 45.2L123 45.1L123.8 45.1L124.5 45L125.2 45L126 44.9L126.8 44.8L127.5 44.8L128.2 44.7L129 44.6L129.8 44.6L130.5 44.5L131.2 44.4L132 44.3L132.8 44.2L133.5 44.2L134.2 44.1L135 44L135.8 43.9L136.5 43.8L137.2 43.7L138 43.6L138.8 43.5L139.5 43.3L140.3 43.2L141 43.1L141.8 43L142.6 42.9L143.3 42.8L144.1 42.6L144.8 42.5L145.6 42.4L146.4 42.3L147.1 42.1L147.9 42L148.6 41.9L149.4 41.7L150.2 41.6L150.9 41.5L151.7 41.3L152.4 41.2L153.2 41.1L154 40.9L154.7 40.8L155.5 40.6L156.2 40.5L157 40.3L157.8 40.2L158.5 40L159.3 39.9L160 39.7L160.8 39.6L161.6 39.4L162.3 39.3L163.1 39.1L163.8 38.9L164.6 38.8L165.4 38.6L166.1 38.4L166.9 38.3L167.6 38.1L168.4 37.9L169.2 37.8L169.9 37.6L170.7 37.4L171.4 37.2L172.2 37L173 36.9L173.7 36.7L174.5 36.5L175.2 36.3L176 36.1L176.8 35.9L177.5 35.7L178.3 35.5L179.1 35.3L179.8 35.1L180.6 34.9L181.4 34.6L182.1 34.4L182.9 34.2L183.6 33.9L184.4 33.7L185.2 33.5L185.9 33.2L186.7 33L187.5 32.7L188.2 32.5L189 32.2L189.8 32L190.5 31.7L191.3 31.5L192.1 31.2L192.8 31L193.6 30.7L194.4 30.5L195.1 30.3L195.9 30L196.6 29.8L197.4 29.6L198.2 29.3L198.9 29.1L199.7 28.9L200.5 28.7L201.2 28.4L202 28.2L202.8 28L203.5 27.8L204.3 27.6L205.1 27.4L205.8 27.2L206.6 27L207.4 26.8L208.2 26.6L208.9 26.5L209.7 26.3L210.5 26.2L211.2 26L212 25.9L212.8 25.8L213.5 25.7L214.3 25.6L215.1 25.5L215.8 25.4L216.6 25.3L217.4 25.2L218.1 25.1L218.9 25.1L219.6 25L220.4 25L221.2 24.9L221.9 24.9L222.7 24.9L223.5 24.8L224.2 24.8L225 24.8L225.8 24.8L226.5 24.9L227.3 24.9L228.1 24.9L228.9 25L229.6 25.1L230.4 25.1L231.2 25.2L232 25.3L232.7 25.4L233.5 25.6L234.3 25.7L235 25.8L235.8 25.9L236.6 26.1L237.4 26.2L238.1 26.4L238.9 26.5L239.7 26.7L240.5 26.8L241.2 27L242 27.2L242.8 27.3L243.5 27.5L244.2 27.7L245 27.9L245.8 28.1L246.5 28.3L247.2 28.5L248 28.7L248.8 28.9L249.5 29.2L250.2 29.4L251 29.6L251.8 29.9L252.5 30.1L253.2 30.3L254 30.6L254.8 30.8L255.5 31L256.2 31.3L257 31.5L257.8 31.7L258.5 31.9L259.2 32.1L260 32.3L260.8 32.5L261.5 32.6L262.2 32.8L263 32.9L263.8 33L264.5 33.2L265.2 33.3L266 33.4L266.8 33.5L267.5 33.6L268.2 33.7L269 33.8L269.8 33.8L270.5 33.9L271.2 34L272 34L272.8 34.1L273.5 34.1L274.2 34.1L275 34.1L275.8 34.2L276.5 34.2L277.2 34.2L278 34.2L278.8 34.2L279.5 34.2L280.3 34.2L281.1 34.1L281.8 34.1L282.6 34L283.4 34L284.2 33.9L284.9 33.8L285.7 33.7L286.5 33.6L287.2 33.5L288 33.3L288.8 33.2L289.5 32.9L290.3 32.7L291.1 32.4L291.8 32.1L292.6 31.7L293.4 31.4L294.1 31.1L294.9 30.8L295.7 30.5L296.4 30.2L297.2 30L298 29.9L298.7 29.8L299.5 29.7L300.3 29.8L301 30.1L301.8 30.5L302.6 31L303.3 31.7L304.1 32.4L304.9 33.3L305.6 34.1L306.4 35L307.2 35.9L307.9 36.8L308.7 37.6L309.5 38.4L310.2 39.1L311 39.7L311.8 40.3L312.6 40.8L313.4 41.4L314.2 41.9L315 42.3L315.8 42.8L316.6 43.2L317.4 43.6L318.2 44L319 44.4L319.8 44.8L320.7 45.1L321.5 45.3L322.3 45.6L323.2 45.9L324 46.1"/>
<path d="M156 56.8L156 56.8L156.8 56.6L157.5 56.5L158.3 56.4L159.1 56.3L159.8 56.2L160.6 56.1L161.4 56L162.2 55.9L162.9 55.8L163.7 55.7L164.5 55.6L165.2 55.5L166 55.4L166.8 55.3L167.5 55.2L168.3 55.1L169.1 55L169.8 54.8L170.6 54.7L171.4 54.6L172.2 54.5L172.9 54.3L173.7 54.2L174.5 54.1L175.2 53.9L176 53.8L176.8 53.6L177.5 53.5L178.3 53.3L179.1 53.2L179.8 53L180.6 52.8L181.4 52.7L182.1 52.5L182.9 52.3L183.6 52.1L184.4 51.9L185.2 51.8L185.9 51.6L186.7 51.4L187.5 51.2L188.2 51L189 50.8L189.8 50.6L190.5 50.4L191.3 50.2L192.1 50L192.8 49.8L193.6 49.6L194.4 49.4L195.1 49.2L195.9 49L196.6 48.8L197.4 48.6L198.2 48.4L198.9 48.2L199.7 48L200.5 47.8L201.2 47.6L202 47.4L202.8 47.2L203.5 47L204.3 46.7L205 46.5L205.8 46.3L206.5 46.1L207.3 45.8L208.1 45.6L208.8 45.4L209.6 45.1L210.3 44.9L211.1 44.6L211.8 44.4L212.6 44.1L213.4 43.9L214.1 43.6L214.9 43.4L215.6 43.2L216.4 42.9L217.2 42.7L217.9 42.4L218.7 42.2L219.4 42L220.2 41.7L220.9 41.5L221.7 41.3L222.5 41.1L223.2 40.9L224 40.7L224.7 40.5L225.5 40.3L226.2 40.1L227 39.9L227.8 39.8L228.5 39.6L229.3 39.4L230 39.3L230.8 39.1L231.5 39L232.3 38.8L233.1 38.7L233.8 38.6L234.6 38.4L235.3 38.3L236.1 38.2L236.8 38L237.6 37.9L238.4 37.8L239.1 37.7L239.9 37.6L240.6 37.5L241.4 37.4L242.2 37.3L242.9 37.2L243.7 37.1L244.4 37L245.2 36.9L245.9 36.8L246.7 36.7L247.5 36.6L248.2 36.5L249 36.4L249.7 36.3L250.5 36.3L251.2 36.2L252 36.1L252.8 36L253.5 36L254.3 35.9L255.1 35.8L255.8 35.8L256.6 35.7L257.4 35.7L258.1 35.6L258.9 35.6L259.6 35.6L260.4 35.5L261.2 35.5L261.9 35.5L262.7 35.5L263.5 35.5L264.2 35.5L265 35.5L265.8 35.5L266.5 35.5L267.3 35.6L268.1 35.7L268.8 35.8L269.6 35.9L270.4 36.1L271.1 36.2L271.9 36.4L272.6 36.6L273.4 36.8L274.2 37L274.9 37.2L275.7 37.4L276.5 37.6L277.2 37.8L278 38L278.8 38.2L279.5 38.5L280.3 38.8L281.1 39L281.8 39.4L282.6 39.7L283.4 40L284.2 40.3L284.9 40.7L285.7 41.1L286.5 41.4L287.2 41.8L288 42.1L288.8 42.4L289.5 42.8L290.3 43.1L291.1 43.4L291.8 43.6L292.6 43.9L293.4 44.1L294.2 44.3L294.9 44.5L295.7 44.6L296.5 44.7L297.2 44.8L298 44.8L298.8 44.8L299.5 44.8L300.3 44.8L301.1 44.8L301.8 44.7L302.6 44.7L303.4 44.6L304.2 44.5L304.9 44.4L305.7 44.3L306.5 44.2L307.2 44L308 43.8L308.8 43.5L309.5 43.2L310.2 42.9L311 42.6L311.8 42.2L312.5 41.8L313.2 41.3L314 40.9L314.8 40.4L315.5 39.9L316.2 39.4L317 39L317.8 38.5L318.5 38.1L319.2 37.6L320 37.2L320.8 36.9L321.5 36.5L322.2 36.2L323 36L323.8 35.7L324.5 35.6L325.2 35.5L326 35.5L326.8 35.5L327.6 35.8L328.4 36.1L329.2 36.6L330 37.2L330.8 37.8L331.6 38.6L332.4 39.4L333.2 40.2L334 41L334.8 41.9L335.5 43L336.3 44.1L337.1 45.4L337.8 46.7L338.6 48.1L339.4 49.4L340.2 50.6L340.9 51.8L341.7 52.9L342.5 53.8L343.2 54.6L344 55.1L344.8 55.4L345.5 55.7L346.3 55.9L347.1 56.1L347.8 56.3L348.6 56.4L349.4 56.4L350.2 56.5L350.9 56.5L351.7 56.6L352.5 56.6L353.2 56.7L354 56.8"/>
<path d="M65.6 130.5L65.6 130.5L66.4 130.5L67.1 130.4L67.9 130.3L68.7 130.2L69.4 130.1L70.2 130.1L71 130L71.7 129.9L72.5 129.8L73.2 129.7L74 129.7L74.8 129.6L75.5 129.5L76.3 129.4L77.1 129.3L77.8 129.2L78.6 129.1L79.4 128.9L80.1 128.8L80.9 128.7L81.7 128.5L82.4 128.4L83.2 128.2L84 128.1L84.7 127.9L85.5 127.7L86.3 127.6L87 127.4L87.8 127.2L88.6 127.1L89.3 126.9L90.1 126.7L90.9 126.6L91.6 126.4L92.4 126.3L93.2 126.1L93.9 126L94.7 125.8L95.5 125.7L96.2 125.6L97 125.4L97.8 125.3L98.6 125.2L99.3 125.1L100.1 125.1L100.9 125L101.7 124.9L102.5 124.9L103.2 124.8L104 124.8L104.8 124.8L105.6 124.7L106.3 124.7L107.1 124.6L107.9 124.6L108.7 124.5L109.5 124.4L110.2 124.4L111 124.3L111.8 124.2L112.6 124.1L113.4 124L114.1 123.8L114.9 123.7L115.7 123.5L116.5 123.3L117.2 123.1L118 122.9L118.8 122.6L119.5 122.3L120.3 122.1L121.1 121.8L121.8 121.4L122.6 121.1L123.3 120.8L124.1 120.5L124.9 120.2L125.6 119.9L126.4 119.6L127.2 119.3L127.9 119.1L128.7 118.8L129.5 118.6L130.3 118.4L131.1 118.2L131.8 118L132.6 117.8L133.4 117.6L134.2 117.4L135 117.2L135.8 117L136.5 116.9L137.3 116.7L138.1 116.5L138.9 116.3L139.7 116.2L140.5 116L141.2 115.8L142 115.6L142.8 115.4L143.6 115.2L144.4 115L145.2 114.8L145.9 114.5L146.7 114.3L147.5 114.1L148.2 113.8L149 113.6L149.8 113.3L150.6 113L151.3 112.8L152.1 112.5L152.9 112.3L153.7 112L154.4 111.8L155.2 111.5L156 111.3L156.8 111.1L157.5 110.9L158.3 110.7L159.1 110.5L159.9 110.3L160.6 110.2L161.4 110L162.2 109.9L163 109.8L163.7 109.7L164.5 109.6L165.2 109.5L166 109.5L166.7 109.4L167.5 109.4L168.2 109.3L169 109.3L169.7 109.3L170.5 109.3L171.2 109.3L172 109.3L172.7 109.3L173.5 109.2L174.2 109.2L175 109.2L175.8 109.3L176.5 109.3L177.3 109.3L178 109.4L178.8 109.5L179.5 109.6L180.3 109.7L181 109.8L181.8 109.9L182.5 110.1L183.3 110.2L184 110.4L184.8 110.6L185.5 110.8L186.3 111L187.1 111.2L187.9 111.4L188.7 111.7L189.5 111.9L190.3 112.2L191.1 112.5L191.9 112.8L192.6 113.1L193.4 113.4L194.2 113.8L195 114.1L195.8 114.5L196.6 114.8L197.4 115.2L198.2 115.6L199 116L199.8 116.5L200.6 116.9L201.4 117.4L202.2 117.8L203 118.3L203.8 118.8L204.6 119.3L205.4 119.8L206.2 120.2L207 120.7L207.8 121.2L208.6 121.6L209.4 122L210.2 122.4L210.9 122.8L211.7 123.2L212.5 123.6L213.3 124L214.1 124.4L214.9 124.7L215.7 125.1L216.4 125.5L217.2 125.9L218 126.3L218.8 126.7L219.5 127.1L220.3 127.5L221.1 128L221.9 128.4L222.6 128.7L223.4 129.1L224.2 129.3L225.1 129.6L225.9 129.8L226.7 129.9L227.5 130.1L228.3 130.2L229.2 130.4L230 130.5"/>
<path d="M111 88.7L111 88.7L111.8 88.6L112.5 88.5L113.3 88.5L114 88.4L114.8 88.3L115.6 88.2L116.3 88.2L117.1 88.1L117.8 88L118.6 88L119.4 87.9L120.1 87.8L120.9 87.8L121.6 87.7L122.4 87.6L123.2 87.6L123.9 87.5L124.7 87.4L125.4 87.3L126.2 87.2L127 87.1L127.7 87.1L128.5 87L129.2 86.9L130 86.8L130.8 86.7L131.5 86.5L132.3 86.4L133.1 86.3L133.9 86.2L134.6 86.1L135.4 85.9L136.2 85.8L137 85.7L137.7 85.5L138.5 85.4L139.3 85.2L140 85.1L140.8 85L141.6 84.8L142.4 84.7L143.1 84.5L143.9 84.4L144.7 84.2L145.5 84.1L146.2 83.9L147 83.8L147.8 83.6L148.5 83.5L149.2 83.4L150 83.2L150.8 83.1L151.5 82.9L152.2 82.8L153 82.6L153.8 82.5L154.5 82.3L155.2 82.2L156 82L156.8 81.8L157.5 81.6L158.2 81.4L159 81.2L159.8 81L160.5 80.8L161.2 80.5L162 80.3L162.8 80L163.5 79.7L164.2 79.4L165 79.1L165.8 78.8L166.5 78.6L167.2 78.3L168 78L168.8 77.7L169.5 77.5L170.2 77.2L171 77L171.8 76.7L172.5 76.5L173.3 76.3L174.1 76.1L174.9 75.8L175.6 75.6L176.4 75.4L177.2 75.2L178 75L178.7 74.8L179.5 74.7L180.3 74.5L181 74.3L181.8 74.1L182.6 73.9L183.4 73.7L184.1 73.5L184.9 73.3L185.7 73.1L186.5 72.9L187.2 72.7L188 72.5L188.8 72.3L189.5 72.1L190.2 71.8L191 71.6L191.8 71.4L192.5 71.1L193.2 70.9L194 70.7L194.8 70.4L195.5 70.2L196.2 69.9L197 69.7L197.8 69.5L198.5 69.3L199.2 69.1L200 68.9L200.8 68.7L201.5 68.5L202.2 68.4L203 68.2L203.8 68.1L204.5 68L205.2 67.9L206 67.8L206.8 67.7L207.5 67.6L208.2 67.6L209 67.5L209.8 67.5L210.5 67.5L211.2 67.4L212 67.4L212.8 67.4L213.5 67.4L214.2 67.4L215 67.4L215.8 67.4L216.5 67.4L217.3 67.4L218.1 67.4L218.9 67.5L219.6 67.5L220.4 67.5L221.2 67.6L222 67.6L222.7 67.7L223.5 67.7L224.3 67.8L225 67.9L225.8 67.9L226.6 68L227.4 68.1L228.1 68.2L228.9 68.3L229.7 68.4L230.5 68.5L231.2 68.6L232 68.7L232.8 68.8L233.5 68.9L234.3 69L235.1 69.1L235.9 69.2L236.6 69.4L237.4 69.5L238.2 69.6L239 69.8L239.7 69.9L240.5 70.1L241.3 70.2L242 70.4L242.8 70.5L243.6 70.7L244.4 70.9L245.1 71L245.9 71.2L246.7 71.4L247.5 71.5L248.2 71.7L249 71.9L249.8 72L250.5 72.2L251.2 72.4L252 72.6L252.8 72.8L253.5 73L254.2 73.2L255 73.5L255.8 73.7L256.5 73.9L257.2 74.2L258 74.4L258.8 74.7L259.5 74.9L260.2 75.2L261 75.4L261.8 75.6L262.5 75.9L263.2 76.1L264 76.3L264.8 76.6L265.5 76.8L266.2 77L267 77.2L267.8 77.4L268.5 77.5L269.2 77.7L270 77.8L270.8 78L271.5 78.1L272.2 78.2L273 78.3L273.8 78.4L274.5 78.4L275.2 78.4L276 78.5L276.8 78.4L277.5 78.4L278.3 78.4L279 78.3L279.8 78.2L280.5 78.1L281.3 78L282.1 77.9L282.8 77.8L283.6 77.6L284.3 77.5L285.1 77.3L285.8 77.1L286.6 77L287.4 76.8L288.1 76.6L288.9 76.5L289.6 76.3L290.4 76.1L291.2 75.9L291.9 75.8L292.7 75.6L293.4 75.5L294.2 75.3L294.9 75.2L295.7 75.1L296.5 75L297.2 74.9L298 74.8L298.7 74.7L299.5 74.7L300.2 74.6L301 74.6L301.8 74.7L302.5 74.8L303.3 75L304 75.2L304.8 75.5L305.6 75.8L306.3 76.2L307.1 76.6L307.9 77L308.6 77.4L309.4 77.8L310.1 78.2L310.9 78.6L311.7 79L312.4 79.4L313.2 79.7L314 80L314.7 80.3L315.5 80.4L316.2 80.5L317 80.6L317.8 80.6L318.5 80.6L319.3 80.5L320.1 80.5L320.8 80.5L321.6 80.4L322.3 80.4L323.1 80.3L323.9 80.3L324.6 80.2L325.4 80.2L326.2 80.1L326.9 80L327.7 79.9L328.4 79.9L329.2 79.8L330 79.7L330.7 79.6L331.5 79.5L332.3 79.4L333 79.4L333.8 79.3L334.6 79.2L335.3 79.1L336.1 79L336.8 79L337.6 78.9L338.4 78.8L339.1 78.8L339.9 78.7L340.7 78.6L341.4 78.6L342.2 78.6L342.9 78.5L343.7 78.5L344.5 78.5L345.2 78.5L346 78.5L346.8 78.5L347.5 78.6L348.3 78.7L349.1 78.8L349.8 79L350.6 79.3L351.4 79.5L352.2 79.8L352.9 80.2L353.7 80.5L354.5 80.9L355.2 81.3L356 81.6L356.8 82L357.5 82.4L358.3 82.8L359.1 83.2L359.8 83.6L360.6 84L361.4 84.4L362.2 84.7L362.9 85.1L363.7 85.4L364.5 85.7L365.2 85.9L366 86.1L366.8 86.3L367.5 86.5L368.3 86.6L369 86.8L369.8 86.9L370.6 87.1L371.3 87.2L372.1 87.3L372.8 87.4L373.6 87.5L374.4 87.6L375.1 87.7L375.9 87.7L376.6 87.8L377.4 87.9L378.2 88L378.9 88L379.7 88.1L380.4 88.2L381.2 88.2L382 88.3L382.7 88.4L383.5 88.5L384.2 88.6L385 88.7"/>
<path d="M201 99.3L201 99.3L201.8 99.3L202.5 99.3L203.2 99.2L204 99.2L204.8 99.2L205.5 99.1L206.2 99.1L207 99.1L207.8 99L208.5 99L209.2 99L210 98.9L210.8 98.9L211.5 98.9L212.2 98.8L213 98.8L213.8 98.8L214.5 98.7L215.2 98.7L216 98.7L216.8 98.6L217.5 98.6L218.2 98.6L219 98.5L219.8 98.5L220.5 98.5L221.2 98.4L222 98.4L222.8 98.4L223.5 98.3L224.2 98.3L225 98.3L225.8 98.2L226.5 98.2L227.2 98.2L228 98.1L228.8 98.1L229.5 98.1L230.2 98L231 98L231.8 98L232.5 97.9L233.2 97.9L234 97.9L234.8 97.8L235.5 97.8L236.2 97.8L237 97.7L237.8 97.7L238.5 97.7L239.2 97.6L240 97.6L240.8 97.6L241.5 97.6L242.2 97.5L243 97.5L243.8 97.5L244.5 97.5L245.2 97.4L246 97.4L246.8 97.4L247.5 97.4L248.2 97.4L249 97.4L249.8 97.3L250.5 97.3L251.2 97.3L252 97.3L252.8 97.3L253.5 97.3L254.2 97.2L255 97.2L255.8 97.2L256.5 97.2L257.2 97.1L258 97.1L258.8 97.1L259.5 97L260.2 97L261 97L261.8 96.9L262.5 96.9L263.2 96.8L264 96.8L264.8 96.7L265.5 96.7L266.2 96.6L267 96.5L267.8 96.5L268.5 96.4L269.2 96.3L270 96.2L270.8 96.1L271.5 96L272.2 95.9L273 95.8L273.8 95.7L274.5 95.5L275.2 95.4L276 95.3L276.8 95.1L277.5 94.9L278.3 94.6L279.1 94.4L279.8 94L280.6 93.7L281.4 93.3L282.1 92.9L282.9 92.5L283.7 92.1L284.4 91.6L285.2 91.2L286 90.7L286.7 90.3L287.5 89.8L288.3 89.4L289 88.9L289.8 88.5L290.6 88.1L291.3 87.7L292.1 87.3L292.9 87L293.6 86.6L294.4 86.4L295.2 86.1L295.9 85.9L296.7 85.7L297.5 85.6L298.2 85.5L299 85.5L299.8 85.5L300.5 85.5L301.2 85.6L302 85.6L302.8 85.7L303.5 85.8L304.2 85.9L305 86L305.8 86.1L306.5 86.3L307.2 86.4L308 86.5L308.8 86.7L309.5 86.8L310.2 86.9L311 87.1L311.8 87.2L312.5 87.3L313.2 87.4L314 87.4L314.8 87.5L315.5 87.6L316.2 87.6L317 87.6L317.8 87.6L318.5 87.5L319.2 87.5L320 87.4L320.8 87.2L321.5 87.1L322.2 86.9L323 86.7L323.8 86.5L324.5 86.3L325.2 86L326 85.8L326.8 85.5L327.5 85.2L328.2 84.9L329 84.6L329.8 84.3L330.5 84L331.2 83.6L332 83.3L332.8 83L333.5 82.6L334.2 82.3L335 82L335.8 81.6L336.5 81.3L337.2 81L338 80.7L338.8 80.4L339.5 80.1L340.2 79.8L341 79.5L341.8 79.3L342.5 79.1L343.2 78.9L344 78.7L344.8 78.5L345.6 78.3L346.4 78.1L347.2 78.1L348 78L348.8 78.1L349.5 78.2L350.2 78.3L351 78.5L351.8 78.8L352.5 79.1L353.2 79.5L354 79.8L354.8 80.3L355.5 80.7L356.2 81.2L357 81.6L357.8 82.1L358.5 82.6L359.2 83.1L360 83.6L360.8 84L361.5 84.5L362.2 84.9L363 85.3L363.8 85.7L364.5 86L365.2 86.3L366 86.5L366.8 86.7L367.5 86.9L368.3 87.1L369 87.3L369.8 87.4L370.6 87.5L371.3 87.6L372.1 87.7L372.8 87.8L373.6 87.9L374.3 88L375.1 88L375.9 88.1L376.6 88.1L377.4 88.2L378.1 88.2L378.9 88.2L379.7 88.3L380.4 88.3L381.2 88.3L381.9 88.4L382.7 88.4L383.4 88.5L384.2 88.5L385 88.6L385.7 88.6L386.5 88.7L387.2 88.8L388 88.9L388.8 89L389.5 89.1L390.3 89.2L391 89.3L391.8 89.4L392.6 89.5L393.3 89.7L394.1 89.8L394.9 89.9L395.6 90L396.4 90.1L397.1 90.3L397.9 90.4L398.7 90.5L399.4 90.7L400.2 90.8L401 90.9L401.7 91L402.5 91.2L403.2 91.3L404 91.4L404.8 91.6L405.5 91.7L406.3 91.8L407 92L407.8 92.1L408.6 92.2L409.3 92.4L410.1 92.5L410.9 92.6L411.6 92.7L412.4 92.9L413.1 93L413.9 93.1L414.7 93.2L415.4 93.3L416.2 93.5L417 93.6L417.7 93.7L418.5 93.8L419.2 93.9L420 94L420.8 94.1L421.5 94.2L422.2 94.3L423 94.4L423.8 94.5L424.5 94.6L425.2 94.6L426 94.7L426.8 94.8L427.5 94.9L428.2 95L429 95.1L429.8 95.2L430.5 95.2L431.2 95.3L432 95.4L432.8 95.5L433.5 95.6L434.2 95.6L435 95.7L435.8 95.8L436.5 95.9L437.2 95.9L438 96L438.8 96.1L439.5 96.1L440.2 96.2L441 96.3L441.8 96.3L442.5 96.4L443.2 96.5L444 96.5L444.8 96.6L445.5 96.6L446.2 96.7L447 96.8L447.8 96.8L448.5 96.9L449.2 96.9L450 97L450.8 97L451.5 97.1L452.2 97.1L453 97.2L453.8 97.2L454.5 97.3L455.2 97.3L456 97.4L456.8 97.4L457.5 97.5L458.2 97.5L459 97.5L459.8 97.6L460.5 97.6L461.2 97.7L462 97.7L462.8 97.7L463.5 97.8L464.2 97.8L465 97.9L465.8 97.9L466.5 97.9L467.2 98L468 98L468.8 98L469.5 98.1L470.2 98.1L471 98.1L471.8 98.2L472.5 98.2L473.2 98.2L474 98.3L474.8 98.3L475.5 98.3L476.2 98.4L477 98.4L477.8 98.4L478.5 98.5L479.2 98.5L480 98.5L480.8 98.6L481.5 98.6L482.2 98.6L483 98.6L483.8 98.7L484.5 98.7L485.2 98.7L486 98.8L486.8 98.8L487.5 98.8L488.2 98.9L489 98.9L489.8 98.9L490.5 99L491.2 99L492 99L492.8 99.1L493.5 99.1L494.2 99.1L495 99.2L495.8 99.2L496.5 99.2L497.2 99.3L498 99.3"/>
<path d="M125.8 172.4L125.8 172.4L126.6 172.3L127.3 172.2L128.1 172.1L128.8 171.9L129.6 171.8L130.4 171.7L131.1 171.6L131.9 171.5L132.7 171.4L133.4 171.3L134.2 171.1L134.9 171L135.7 170.9L136.5 170.8L137.2 170.6L138 170.5L138.8 170.4L139.5 170.2L140.2 170.1L141 170L141.8 169.8L142.5 169.7L143.2 169.6L144 169.4L144.8 169.3L145.5 169.1L146.2 169L147 168.9L147.8 168.7L148.5 168.6L149.2 168.4L150 168.3L150.8 168.1L151.5 168L152.2 167.8L153 167.7L153.8 167.5L154.5 167.4L155.2 167.2L156 167L156.8 166.9L157.5 166.7L158.2 166.5L159 166.3L159.8 166.2L160.5 166L161.2 165.8L162 165.6L162.8 165.4L163.5 165.2L164.3 165L165.1 164.8L165.8 164.6L166.6 164.3L167.4 164.1L168.2 163.9L168.9 163.7L169.7 163.4L170.5 163.2L171.2 163L172 162.7L172.8 162.5L173.5 162.2L174.3 162L175.1 161.7L175.8 161.5L176.6 161.2L177.4 161L178.1 160.7L178.9 160.4L179.7 160.2L180.5 159.9L181.2 159.7L182 159.4L182.8 159.1L183.5 158.8L184.3 158.6L185.1 158.3L185.8 158L186.6 157.7L187.3 157.4L188.1 157.1L188.9 156.8L189.6 156.5L190.4 156.1L191.1 155.8L191.9 155.5L192.7 155.2L193.4 154.8L194.2 154.5L194.9 154.2L195.7 153.9L196.4 153.6L197.2 153.3L198 153L198.7 152.7L199.5 152.5L200.2 152.2L201 152L201.8 151.7L202.6 151.5L203.4 151.3L204.2 151.2L205 151.1L205.8 151.1L206.5 151.1L207.2 151.2L208 151.2L208.8 151.3L209.5 151.3L210.2 151.4L211 151.5L211.8 151.6L212.5 151.7L213.2 151.8L214 152L214.8 152.1L215.6 152.3L216.4 152.4L217.2 152.6L218 152.8L218.8 153L219.6 153.2L220.4 153.4L221.2 153.6L222 153.9L222.8 154.1L223.6 154.4L224.4 154.7L225.2 154.9L226 155.3L226.8 155.6L227.6 155.9L228.4 156.3L229.2 156.6L230 157L230.8 157.4L231.5 157.8L232.3 158.2L233.1 158.6L233.9 159.1L234.7 159.5L235.5 160L236.3 160.5L237.1 161L237.9 161.5L238.7 162.1L239.5 162.7L240.3 163.3L241.1 163.9L241.9 164.6L242.6 165.2L243.4 165.8L244.2 166.4L245 167.1L245.8 167.7L246.6 168.2L247.4 168.8L248.2 169.3L248.9 169.8L249.7 170.3L250.4 170.7L251.2 171.1L252.1 171.6L253.1 172L254 172.4"/>
<path d="M181 127.7L181 127.7L181.8 127.6L182.5 127.6L183.3 127.5L184.1 127.5L184.8 127.4L185.6 127.4L186.4 127.4L187.2 127.3L187.9 127.3L188.7 127.2L189.5 127.2L190.2 127.2L191 127.1L191.8 127.1L192.5 127L193.3 127L194.1 126.9L194.8 126.9L195.6 126.8L196.4 126.7L197.2 126.7L197.9 126.6L198.7 126.5L199.5 126.4L200.2 126.3L201 126.2L201.8 126.1L202.5 125.9L203.3 125.8L204.1 125.7L204.8 125.5L205.6 125.3L206.4 125.1L207.1 125L207.9 124.8L208.6 124.6L209.4 124.4L210.2 124.2L210.9 124.1L211.7 123.9L212.5 123.7L213.2 123.6L214 123.4L214.8 123.3L215.5 123.2L216.2 123L217 122.9L217.8 122.7L218.5 122.6L219.2 122.5L220 122.3L220.8 122.2L221.5 122L222.2 121.9L223 121.8L223.8 121.6L224.5 121.5L225.2 121.3L226 121.2L226.8 121.1L227.5 120.9L228.2 120.8L229 120.7L229.8 120.5L230.5 120.4L231.2 120.3L232 120.2L232.8 120L233.5 119.9L234.2 119.8L235 119.7L235.8 119.6L236.5 119.5L237.2 119.4L238 119.3L238.8 119.2L239.5 119.1L240.2 119L241 118.9L241.8 118.8L242.5 118.7L243.2 118.6L244 118.5L244.8 118.5L245.5 118.4L246.2 118.3L247 118.3L247.8 118.2L248.5 118.2L249.2 118.1L250 118.1L250.8 118.1L251.5 118L252.3 118L253.1 118L253.8 118L254.6 117.9L255.4 117.9L256.1 117.9L256.9 117.9L257.6 117.9L258.4 117.9L259.2 117.9L259.9 117.8L260.7 117.8L261.5 117.8L262.2 117.8L263 117.8L263.8 117.8L264.5 117.7L265.3 117.7L266.1 117.7L266.8 117.7L267.6 117.6L268.4 117.6L269.1 117.6L269.9 117.5L270.6 117.5L271.4 117.4L272.2 117.4L272.9 117.3L273.7 117.3L274.5 117.2L275.2 117.1L276 117L276.8 116.9L277.5 116.8L278.3 116.6L279 116.4L279.8 116.1L280.5 115.8L281.3 115.5L282.1 115.1L282.8 114.8L283.6 114.4L284.3 114L285.1 113.5L285.8 113.1L286.6 112.7L287.4 112.2L288.1 111.8L288.9 111.4L289.6 110.9L290.4 110.5L291.2 110.1L291.9 109.6L292.7 109.3L293.4 108.9L294.2 108.5L294.9 108.2L295.7 107.9L296.5 107.6L297.2 107.4L298 107.2L298.7 107L299.5 106.9L300.2 106.8L301 106.8L301.8 106.8L302.5 106.9L303.3 107L304 107.1L304.8 107.2L305.6 107.3L306.3 107.5L307.1 107.7L307.8 107.9L308.6 108.1L309.3 108.3L310.1 108.6L310.9 108.8L311.6 109L312.4 109.3L313.1 109.5L313.9 109.8L314.7 110L315.4 110.2L316.2 110.4L316.9 110.6L317.7 110.8L318.4 111L319.2 111.1L320 111.3L320.7 111.4L321.5 111.4L322.2 111.5L323 111.5L323.8 111.5L324.5 111.4L325.2 111.3L326 111.2L326.8 111.1L327.5 110.9L328.2 110.7L329 110.5L329.8 110.3L330.5 110L331.2 109.8L332 109.5L332.8 109.2L333.5 108.9L334.2 108.7L335 108.4L335.8 108.1L336.5 107.9L337.2 107.6L338 107.4L338.8 107.2L339.5 107L340.2 106.8L341 106.7L341.8 106.6L342.5 106.5L343.2 106.4L344 106.4L344.8 106.4L345.5 106.6L346.3 106.8L347.1 107.1L347.9 107.5L348.6 107.9L349.4 108.3L350.2 108.8L351 109.4L351.7 109.9L352.5 110.5L353.3 111.1L354.1 111.6L354.8 112.2L355.6 112.7L356.4 113.2L357.2 113.7L357.9 114.1L358.7 114.5L359.5 114.8L360.2 115.1L361 115.4L361.7 115.7L362.5 116L363.2 116.2L364 116.5L364.7 116.8L365.5 117L366.2 117.2L367 117.5L367.7 117.7L368.5 117.9L369.2 118.1L370 118.3L370.7 118.5L371.5 118.6L372.2 118.8L373 119L373.8 119.1L374.5 119.2L375.2 119.4L376 119.5L376.8 119.6L377.5 119.6L378.2 119.7L379 119.8L379.8 119.8L380.5 119.9L381.2 120L382 120L382.8 120.1L383.5 120.1L384.2 120.2L385 120.2L385.8 120.3L386.5 120.3L387.2 120.4L388 120.4L388.8 120.5L389.5 120.6L390.3 120.7L391.1 120.7L391.8 120.8L392.6 120.9L393.3 121L394.1 121L394.9 121.1L395.6 121.2L396.4 121.3L397.2 121.3L397.9 121.4L398.7 121.5L399.4 121.5L400.2 121.6L401 121.7L401.7 121.8L402.5 121.8L403.3 121.9L404 122L404.8 122L405.6 122.1L406.3 122.2L407.1 122.3L407.8 122.3L408.6 122.4L409.4 122.5L410.1 122.6L410.9 122.6L411.7 122.7L412.4 122.8L413.2 122.8L413.9 122.9L414.7 123L415.5 123.1L416.2 123.1L417 123.2L417.8 123.3L418.5 123.4L419.3 123.4L420 123.5L420.8 123.6L421.6 123.7L422.3 123.8L423.1 123.8L423.8 123.9L424.6 124L425.3 124.1L426.1 124.2L426.9 124.3L427.6 124.3L428.4 124.4L429.1 124.5L429.9 124.6L430.7 124.7L431.4 124.8L432.2 124.8L432.9 124.9L433.7 125L434.5 125.1L435.2 125.2L436 125.2L436.7 125.3L437.5 125.4L438.3 125.5L439 125.6L439.8 125.6L440.5 125.7L441.3 125.8L442 125.8L442.8 125.9L443.6 126L444.3 126L445.1 126.1L445.8 126.1L446.6 126.2L447.4 126.2L448.1 126.3L448.9 126.3L449.6 126.4L450.4 126.4L451.1 126.5L451.9 126.5L452.6 126.6L453.4 126.6L454.1 126.7L454.9 126.7L455.6 126.7L456.4 126.8L457.1 126.8L457.9 126.8L458.7 126.9L459.4 126.9L460.2 126.9L460.9 126.9L461.7 127L462.4 127L463.2 127L463.9 127.1L464.7 127.1L465.4 127.1L466.2 127.1L466.9 127.2L467.7 127.2L468.4 127.2L469.2 127.2L469.9 127.3L470.7 127.3L471.5 127.3L472.2 127.3L473 127.4L473.7 127.4L474.5 127.4L475.2 127.4L476 127.5L476.7 127.5L477.5 127.5L478.2 127.5L479 127.6L479.7 127.6L480.5 127.6L481.2 127.7L482 127.7"/>
<path d="M156 217.1L156 217.1L156.8 217.1L157.5 217L158.2 217L159 216.9L159.8 216.9L160.5 216.8L161.2 216.8L162 216.7L162.8 216.7L163.5 216.6L164.2 216.6L165 216.5L165.8 216.5L166.5 216.5L167.2 216.4L168 216.4L168.8 216.3L169.5 216.3L170.2 216.2L171 216.1L171.8 216.1L172.5 216L173.2 215.9L174 215.9L174.8 215.8L175.5 215.7L176.2 215.6L177 215.5L177.8 215.4L178.5 215.3L179.2 215.1L180 215L180.8 214.9L181.5 214.7L182.3 214.6L183.1 214.4L183.8 214.3L184.6 214.1L185.4 214L186.1 213.8L186.9 213.7L187.7 213.5L188.4 213.3L189.2 213.1L190 213L190.7 212.8L191.5 212.6L192.3 212.4L193 212.2L193.8 212L194.6 211.7L195.3 211.5L196.1 211.3L196.9 211L197.6 210.7L198.4 210.5L199.2 210.2L199.9 209.9L200.7 209.6L201.5 209.3L202.2 209L203 208.6L203.8 208.2L204.6 207.8L205.4 207.4L206.1 206.9L206.9 206.4L207.7 205.8L208.5 205.3L209.3 204.8L210.1 204.2L210.9 203.7L211.6 203.2L212.4 202.7L213.2 202.2L214 201.8L214.8 201.4L215.5 201L216.2 200.6L217 200.2L217.8 199.8L218.5 199.4L219.2 199L220 198.6L220.8 198.2L221.5 197.9L222.2 197.5L223 197.2L223.8 196.9L224.5 196.7L225.2 196.4L226 196.2L226.8 196.1L227.5 195.9L228.2 195.9L229 195.8L229.8 195.9L230.6 195.9L231.4 196L232.1 196.1L232.9 196.2L233.7 196.4L234.5 196.6L235.3 196.8L236.1 197L236.9 197.3L237.6 197.5L238.4 197.8L239.2 198.1L240 198.4L240.8 198.7L241.6 199.1L242.4 199.4L243.1 199.8L243.9 200.3L244.7 200.7L245.5 201.1L246.3 201.6L247.1 202.1L247.9 202.5L248.6 203L249.4 203.5L250.2 203.9L251 204.4L251.8 204.8L252.5 205.2L253.3 205.7L254.1 206.1L254.8 206.6L255.6 207L256.4 207.5L257.1 207.9L257.9 208.4L258.6 208.8L259.4 209.3L260.2 209.7L260.9 210.2L261.7 210.6L262.5 211L263.2 211.4L264 211.8L264.8 212.2L265.5 212.6L266.2 212.9L267 213.3L267.8 213.6L268.5 214L269.2 214.3L270 214.6L270.8 215L271.5 215.3L272.2 215.6L273 215.9L273.8 216.2L274.6 216.4L275.4 216.7L276.2 216.9L277 217.1"/>
<path d="M175.5 285.3L175.5 285.3L176.3 285.2L177 285.1L177.8 285L178.5 284.9L179.3 284.8L180 284.8L180.8 284.7L181.5 284.6L182.3 284.5L183.1 284.4L183.8 284.3L184.6 284.3L185.3 284.2L186.1 284.1L186.8 284L187.6 283.9L188.3 283.8L189.1 283.7L189.8 283.6L190.6 283.5L191.4 283.4L192.1 283.3L192.9 283.2L193.6 283.1L194.4 282.9L195.1 282.8L195.9 282.6L196.6 282.5L197.4 282.3L198.2 282.2L198.9 282L199.7 281.8L200.4 281.6L201.2 281.4L201.9 281.2L202.7 281L203.4 280.8L204.2 280.6L205 280.4L205.7 280.2L206.5 279.9L207.2 279.7L208 279.4L208.7 279.1L209.5 278.9L210.2 278.6L211 278.3L211.8 278L212.5 277.7L213.3 277.3L214 276.9L214.8 276.6L215.5 276.2L216.3 275.8L217 275.4L217.8 275L218.5 274.6L219.3 274.2L220.1 273.9L220.8 273.4L221.6 273L222.4 272.6L223.1 272.2L223.9 271.8L224.7 271.3L225.4 270.9L226.2 270.5L227 270.1L227.8 269.7L228.5 269.3L229.3 268.9L230.1 268.5L230.8 268.2L231.6 267.9L232.4 267.5L233.2 267.3L233.9 267L234.7 266.7L235.5 266.5L236.3 266.2L237.1 266L237.8 265.8L238.6 265.6L239.4 265.4L240.2 265.2L240.9 265L241.7 264.8L242.5 264.7L243.3 264.5L244.1 264.3L245 264.2L245.8 264.1L246.6 264L247.4 264L248.2 264.1L249 264.3L249.7 264.4L250.5 264.7L251.3 264.9L252.1 265.2L252.9 265.5L253.7 265.9L254.5 266.3L255.2 266.6L256 267L256.8 267.4L257.6 267.9L258.4 268.3L259.2 268.8L260.1 269.4L260.9 270L261.7 270.6L262.5 271.2L263.3 271.9L264.2 272.5L265 273.1L265.8 273.6L266.6 274.1L267.4 274.6L268.3 275L269.1 275.4L269.9 275.9L270.7 276.3L271.5 276.7L272.4 277.2L273.2 277.7L274 278.3L274.8 278.9L275.6 279.7L276.4 280.4L277.1 281.2L277.9 282L278.7 282.6L279.5 283.2L280.3 283.6L281 283.9L281.8 284.2L282.5 284.4L283.3 284.6L284 284.8L284.8 284.9L285.5 285.1L286.3 285.3"/>
<path d="M232 173.8L232 173.8L232.8 173.7L233.5 173.6L234.3 173.5L235 173.5L235.8 173.4L236.5 173.3L237.3 173.2L238.1 173.2L238.8 173.1L239.6 173L240.3 173L241.1 172.9L241.8 172.8L242.6 172.8L243.4 172.7L244.1 172.6L244.9 172.6L245.6 172.5L246.4 172.4L247.1 172.4L247.9 172.3L248.6 172.2L249.4 172.1L250.2 172L250.9 172L251.7 171.9L252.4 171.8L253.2 171.7L253.9 171.6L254.7 171.5L255.5 171.4L256.2 171.2L257 171.1L257.7 171L258.5 170.9L259.2 170.7L260 170.6L260.8 170.4L261.5 170.3L262.2 170.1L263 169.9L263.8 169.8L264.5 169.6L265.2 169.4L266 169.2L266.8 169L267.5 168.8L268.2 168.5L269 168.3L269.8 168.1L270.5 167.9L271.2 167.7L272 167.4L272.8 167.2L273.5 167L274.2 166.8L275 166.5L275.8 166.3L276.5 166.1L277.2 165.9L278 165.7L278.8 165.6L279.5 165.4L280.2 165.2L281 165L281.8 164.8L282.5 164.5L283.2 164.3L284 164L284.8 163.7L285.5 163.4L286.2 163.1L287 162.7L287.8 162.3L288.5 161.8L289.2 161.2L290 160.5L290.8 159.8L291.5 159.1L292.2 158.4L293 157.7L293.8 156.9L294.5 156.2L295.2 155.6L296 154.9L296.8 154.4L297.5 153.9L298.2 153.5L299 153.2L299.8 153L300.5 152.9L301.3 152.9L302 153L302.8 153.1L303.5 153.2L304.3 153.4L305.1 153.6L305.8 153.8L306.6 154L307.3 154.3L308.1 154.5L308.9 154.8L309.6 155.1L310.4 155.3L311.2 155.6L311.9 155.8L312.7 156.1L313.4 156.3L314.2 156.5L315 156.6L315.7 156.8L316.5 156.9L317.2 156.9L318 157L318.8 156.9L319.6 156.8L320.4 156.6L321.1 156.4L321.9 156.2L322.7 155.9L323.5 155.6L324.3 155.3L325.1 155L325.9 154.7L326.6 154.5L327.4 154.3L328.2 154.2L329 154.2L329.8 154.2L330.5 154.2L331.2 154.2L332 154.2L332.8 154.2L333.5 154.2L334.2 154.2L335 154.2L335.8 154.3L336.5 154.3L337.2 154.3L338 154.4L338.8 154.4L339.5 154.4L340.2 154.5L341 154.6L341.8 154.6L342.5 154.7L343.2 154.8L344 154.9L344.8 155L345.5 155.2L346.2 155.3L347 155.5L347.8 155.6L348.5 155.8L349.2 156L350 156.3L350.8 156.5L351.5 156.8L352.2 157L353 157.3L353.8 157.6L354.5 157.9L355.2 158.2L356 158.6L356.8 158.9L357.5 159.2L358.2 159.6L359 159.9L359.8 160.3L360.5 160.7L361.2 161.1L362 161.6L362.8 162L363.5 162.5L364.2 162.9L365 163.4L365.8 163.9L366.5 164.3L367.2 164.8L368 165.3L368.8 165.8L369.6 166.3L370.3 166.8L371.1 167.4L371.9 167.9L372.7 168.4L373.4 168.9L374.2 169.2L375 169.5L375.8 169.7L376.5 170L377.3 170.1L378 170.3L378.8 170.5L379.5 170.6L380.3 170.8L381.1 170.9L381.8 171L382.6 171.1L383.3 171.2L384.1 171.3L384.8 171.4L385.6 171.4L386.4 171.5L387.1 171.5L387.9 171.6L388.6 171.6L389.4 171.7L390.2 171.7L390.9 171.7L391.7 171.8L392.4 171.8L393.2 171.8L393.9 171.8L394.7 171.9L395.5 171.9L396.2 171.9L397 171.9L397.7 172L398.5 172L399.2 172L400 172.1L400.8 172.1L401.5 172.2L402.2 172.2L403 172.2L403.8 172.3L404.5 172.3L405.2 172.4L406 172.4L406.8 172.4L407.5 172.4L408.2 172.5L409 172.5L409.8 172.5L410.5 172.6L411.2 172.6L412 172.6L412.8 172.6L413.5 172.7L414.2 172.7L415 172.7L415.8 172.7L416.5 172.8L417.2 172.8L418 172.8L418.8 172.8L419.5 172.8L420.2 172.9L421 172.9L421.8 172.9L422.5 172.9L423.2 172.9L424 173L424.8 173L425.5 173L426.2 173L427 173.1L427.8 173.1L428.5 173.1L429.2 173.1L430 173.1L430.8 173.2L431.5 173.2L432.3 173.2L433.1 173.3L433.8 173.3L434.6 173.3L435.4 173.3L436.2 173.4L436.9 173.4L437.7 173.4L438.5 173.4L439.2 173.4L440 173.5L440.8 173.5L441.5 173.5L442.3 173.5L443.1 173.6L443.8 173.6L444.6 173.6L445.4 173.6L446.2 173.7L446.9 173.7L447.7 173.7L448.5 173.7L449.2 173.8L450 173.8"/>
<path d="M304.4 184.4L304.4 184.4L305.2 184.3L306 184.1L306.7 184L307.5 183.8L308.3 183.7L309.1 183.6L309.8 183.5L310.6 183.3L311.4 183.2L312.2 183L312.9 182.9L313.7 182.7L314.5 182.5L315.3 182.3L316 182L316.8 181.8L317.6 181.4L318.4 181.1L319.2 180.7L319.9 180.2L320.7 179.7L321.5 179.2L322.3 178.6L323.1 178.1L323.8 177.5L324.6 177L325.4 176.4L326.2 175.9L327 175.4L327.7 175L328.5 174.6L329.3 174.2L330.1 173.9L330.8 173.6L331.6 173.4L332.3 173.1L333.1 172.9L333.8 172.7L334.6 172.5L335.4 172.3L336.1 172.1L336.9 171.9L337.6 171.8L338.4 171.6L339.2 171.5L339.9 171.3L340.7 171.2L341.4 171.1L342.2 171L342.9 170.9L343.7 170.8L344.5 170.7L345.2 170.6L346 170.5L346.7 170.4L347.5 170.4L348.3 170.3L349 170.2L349.8 170.1L350.5 170L351.3 169.9L352 169.8L352.8 169.7L353.6 169.6L354.3 169.5L355.1 169.5L355.8 169.4L356.6 169.3L357.4 169.3L358.1 169.2L358.9 169.1L359.6 169.1L360.4 169L361.2 169L361.9 169L362.7 168.9L363.4 168.9L364.2 168.8L364.9 168.8L365.7 168.8L366.5 168.7L367.2 168.7L368 168.6L368.7 168.6L369.5 168.6L370.3 168.5L371 168.4L371.8 168.4L372.5 168.3L373.3 168.2L374.1 168.2L374.8 168.1L375.6 168L376.3 167.9L377.1 167.8L377.8 167.7L378.6 167.6L379.4 167.5L380.1 167.5L380.9 167.4L381.6 167.3L382.4 167.2L383.2 167.1L383.9 166.9L384.7 166.8L385.4 166.7L386.2 166.6L386.9 166.5L387.7 166.4L388.5 166.3L389.2 166.2L390 166.1L390.7 166L391.5 165.9L392.3 165.8L393 165.7L393.8 165.6L394.5 165.5L395.3 165.4L396 165.3L396.8 165.3L397.6 165.2L398.3 165.1L399.1 165L399.8 164.9L400.6 164.8L401.4 164.7L402.1 164.6L402.9 164.5L403.6 164.4L404.4 164.3L405.2 164.1L405.9 164L406.7 163.9L407.4 163.8L408.2 163.8L408.9 163.7L409.7 163.6L410.5 163.5L411.2 163.4L412 163.4L412.7 163.3L413.5 163.3L414.3 163.2L415 163.2L415.8 163.1L416.5 163.1L417.3 163.1L418.1 163.1L418.8 163.1L419.6 163.1L420.4 163.2L421.2 163.2L421.9 163.2L422.7 163.2L423.5 163.3L424.3 163.3L425 163.3L425.8 163.4L426.6 163.4L427.4 163.5L428.1 163.6L428.9 163.6L429.7 163.7L430.5 163.8L431.2 163.9L432 164L432.8 164.1L433.5 164.2L434.3 164.3L435 164.4L435.8 164.6L436.6 164.7L437.3 164.8L438.1 165L438.8 165.1L439.6 165.3L440.4 165.4L441.1 165.6L441.9 165.8L442.6 165.9L443.4 166.1L444.1 166.3L444.9 166.5L445.7 166.6L446.4 166.8L447.2 167L447.9 167.2L448.7 167.3L449.5 167.5L450.2 167.7L451 167.9L451.7 168.1L452.5 168.2L453.3 168.4L454 168.6L454.8 168.8L455.5 169L456.3 169.2L457 169.4L457.8 169.6L458.6 169.8L459.3 170L460.1 170.2L460.8 170.4L461.6 170.6L462.4 170.8L463.1 171L463.9 171.2L464.6 171.4L465.4 171.7L466.1 171.9L466.9 172.1L467.7 172.3L468.4 172.5L469.2 172.7L469.9 172.8L470.7 173L471.5 173.2L472.2 173.4L473 173.6L473.7 173.7L474.5 173.9L475.2 174.1L476 174.2L476.8 174.3L477.5 174.5L478.3 174.6L479 174.8L479.8 174.9L480.5 175.1L481.3 175.2L482 175.3L482.8 175.5L483.5 175.6L484.3 175.7L485.1 175.8L485.8 176L486.6 176.1L487.3 176.2L488.1 176.3L488.8 176.4L489.6 176.5L490.3 176.6L491.1 176.7L491.9 176.8L492.6 176.8L493.4 176.9L494.1 177L494.9 177L495.6 177.1L496.4 177.1L497.1 177.1L497.9 177.2L498.6 177.2L499.4 177.2L500.2 177.2L500.9 177.1L501.7 177.1L502.4 177L503.2 176.9L503.9 176.8L504.7 176.7L505.5 176.6L506.2 176.4L507 176.3L507.7 176.1L508.5 176L509.3 175.8L510 175.6L510.8 175.5L511.5 175.3L512.3 175.1L513 174.9L513.8 174.8L514.6 174.6L515.3 174.5L516.1 174.3L516.8 174.2L517.6 174L518.4 173.9L519.1 173.8L519.9 173.7L520.6 173.7L521.4 173.6L522.1 173.6L522.9 173.6L523.7 173.6L524.5 173.6L525.2 173.7L526 173.7L526.8 173.8L527.6 173.9L528.4 174.1L529.1 174.2L529.9 174.4L530.7 174.6L531.5 174.8L532.3 175L533 175.2L533.8 175.4L534.6 175.7L535.4 176L536.1 176.3L536.9 176.6L537.7 177L538.5 177.4L539.2 177.8L540 178.2L540.8 178.6L541.6 179.1L542.3 179.5L543.1 179.9L543.9 180.4L544.7 180.8L545.4 181.2L546.2 181.6L547 182L547.8 182.3L548.5 182.6L549.3 182.9L550.1 183.2L551 183.4L551.8 183.6L552.6 183.8L553.5 183.9L554.3 184.1L555.2 184.3L556 184.4"/>
<path d="M198.7 396.9L198.7 396.9L199.5 396.7L200.2 396.6L201 396.5L201.8 396.4L202.5 396.4L203.3 396.3L204.1 396.2L204.8 396.1L205.6 396L206.4 395.9L207.2 395.8L207.9 395.6L208.7 395.5L209.5 395.4L210.2 395.3L211 395.1L211.8 395L212.6 394.9L213.4 394.7L214.2 394.6L215 394.4L215.8 394.2L216.6 394.1L217.4 393.9L218.2 393.7L219 393.5L219.8 393.3L220.6 393L221.4 392.8L222.1 392.5L222.9 392.3L223.7 392L224.5 391.8L225.2 391.5L226 391.2L226.8 391L227.6 390.7L228.3 390.4L229.1 390.1L229.9 389.8L230.7 389.5L231.4 389.2L232.2 388.9L233 388.5L233.8 388.2L234.5 387.9L235.3 387.6L236.1 387.2L236.9 386.9L237.6 386.5L238.4 386.2L239.2 385.8L240 385.4L240.9 385L241.7 384.6L242.5 384.1L243.3 383.7L244.1 383.2L245 382.8L245.8 382.4L246.6 381.9L247.4 381.5L248.1 381.1L248.9 380.7L249.6 380.2L250.4 379.8L251.2 379.3L251.9 378.8L252.7 378.3L253.4 377.9L254.2 377.5L255 377.1L255.7 376.7L256.5 376.4L257.3 376.1L258 375.9L258.8 375.7L259.5 375.6L260.3 375.6L261.1 375.6L261.9 375.8L262.7 376.1L263.4 376.5L264.2 376.9L265 377.3L265.8 377.7L266.6 378.1L267.4 378.5L268.3 379L269.1 379.4L269.9 379.9L270.7 380.4L271.5 380.9L272.4 381.4L273.2 381.9L274 382.4L274.8 382.9L275.6 383.5L276.4 384.1L277.1 384.7L277.9 385.2L278.7 385.6L279.5 385.8L280.3 385.9L281.1 385.9L282 385.9L282.8 386L283.6 386.2L284.4 386.7L285.2 387.6L286.1 388.7L286.9 389.9L287.7 391.1L288.6 392.5L289.5 394L290.4 395.1L291.2 395.8L292 396.1L292.9 396.4L293.7 396.6L294.5 396.9"/>
<path d="M253 246.9L253 246.9L253.8 246.7L254.5 246.4L255.2 246.1L256 245.9L256.8 245.6L257.5 245.3L258.2 245L259 244.8L259.8 244.5L260.5 244.2L261.2 244L262 243.7L262.8 243.4L263.5 243.2L264.2 242.9L265 242.7L265.8 242.4L266.5 242.2L267.3 241.9L268.1 241.7L268.8 241.5L269.6 241.3L270.4 241.1L271.1 240.9L271.9 240.7L272.7 240.5L273.4 240.3L274.2 240.1L275 239.9L275.7 239.7L276.5 239.5L277.3 239.2L278 239L278.8 238.8L279.6 238.6L280.3 238.3L281.1 238.1L281.9 237.8L282.6 237.5L283.4 237.3L284.2 237L284.9 236.6L285.7 236.3L286.5 236L287.2 235.6L288 235.2L288.8 234.8L289.5 234.3L290.2 233.8L291 233.3L291.8 232.7L292.5 232.1L293.2 231.5L294 230.9L294.8 230.3L295.5 229.7L296.2 229.1L297 228.5L297.8 228L298.5 227.5L299.2 227.1L300 226.7L300.8 226.3L301.7 226.1L302.5 225.9L303.3 225.7L304.2 225.7L305 225.6L305.8 225.7L306.6 226L307.3 226.5L308.1 227L308.9 227.7L309.7 228.3L310.4 228.9L311.2 229.4L312 229.9L312.8 230.2L313.5 230.6L314.2 230.9L315 231.2L315.8 231.6L316.5 231.9L317.2 232.1L318 232.4L318.8 232.7L319.5 233L320.2 233.2L321 233.5L321.8 233.7L322.5 233.9L323.2 234.2L324 234.4L324.8 234.6L325.5 234.8L326.2 235L327 235.2L327.8 235.4L328.5 235.5L329.3 235.7L330.1 235.8L330.8 235.8L331.6 235.9L332.4 236L333.2 236.1L333.9 236.2L334.7 236.3L335.5 236.5L336.2 236.7L337 236.9L337.8 237.2L338.5 237.5L339.3 237.9L340.1 238.3L340.8 238.7L341.6 239.1L342.4 239.6L343.1 240L343.9 240.5L344.6 241L345.4 241.4L346.2 241.9L346.9 242.3L347.7 242.7L348.5 243.1L349.2 243.4L350 243.7L350.8 244L351.6 244.3L352.3 244.5L353.1 244.7L353.9 244.9L354.7 245.1L355.4 245.3L356.2 245.4L357 245.6L357.8 245.7L358.6 245.9L359.3 246L360.1 246.2L360.9 246.3L361.7 246.4L362.4 246.6L363.2 246.8L364 246.9"/>
<path d="M279 218.1L279 218.1L279.8 217.9L280.5 217.6L281.3 217.4L282.1 217.1L282.8 216.9L283.6 216.6L284.3 216.4L285.1 216.2L285.9 215.9L286.6 215.7L287.4 215.4L288.2 215.2L288.9 215L289.7 214.7L290.4 214.5L291.2 214.2L292 214L292.7 213.8L293.5 213.5L294.3 213.3L295 213L295.8 212.8L296.6 212.6L297.3 212.3L298.1 212.1L298.8 211.8L299.6 211.5L300.4 211.3L301.1 211L301.9 210.8L302.7 210.5L303.4 210.2L304.2 210L304.9 209.7L305.7 209.4L306.5 209.1L307.2 208.8L308 208.5L308.8 208.2L309.5 207.9L310.2 207.6L311 207.3L311.8 207L312.5 206.6L313.2 206.3L314 205.9L314.8 205.6L315.5 205.2L316.2 204.9L317 204.6L317.8 204.2L318.5 203.9L319.2 203.5L320 203.2L320.8 202.9L321.5 202.5L322.2 202.1L323 201.7L323.8 201.3L324.5 200.9L325.2 200.4L326 200L326.8 199.6L327.5 199.2L328.2 198.8L329 198.4L329.8 198.1L330.5 197.8L331.2 197.5L332 197.3L332.8 197.1L333.5 196.9L334.2 196.8L335 196.8L335.8 196.8L336.5 196.8L337.2 196.8L338 196.8L338.8 196.8L339.5 196.8L340.2 196.8L341 196.8L341.8 196.9L342.5 196.9L343.2 196.9L344 196.9L344.8 196.9L345.5 197L346.2 197L347 197L347.8 197.1L348.5 197.1L349.2 197.2L350 197.2L350.8 197.3L351.5 197.5L352.3 197.6L353.1 197.8L353.8 198L354.6 198.3L355.4 198.5L356.2 198.8L356.9 199.2L357.7 199.5L358.5 199.9L359.2 200.2L360 200.6L360.8 201L361.5 201.4L362.3 201.8L363.1 202.2L363.8 202.6L364.6 202.9L365.4 203.3L366.2 203.7L366.9 204.1L367.7 204.4L368.5 204.7L369.2 205L370 205.3L370.8 205.6L371.5 205.9L372.3 206.2L373.1 206.4L373.8 206.7L374.6 207L375.4 207.3L376.2 207.5L376.9 207.8L377.7 208.1L378.5 208.3L379.2 208.6L380 208.9L380.8 209.1L381.5 209.4L382.3 209.6L383.1 209.8L383.8 210.1L384.6 210.3L385.4 210.5L386.2 210.7L386.9 210.9L387.7 211.2L388.5 211.4L389.2 211.5L390 211.7L390.8 211.9L391.5 212L392.3 212.2L393.1 212.3L393.8 212.4L394.6 212.5L395.4 212.6L396.2 212.7L396.9 212.7L397.7 212.8L398.5 213L399.2 213.1L400 213.2L400.8 213.4L401.5 213.5L402.3 213.7L403.1 213.9L403.8 214L404.6 214.2L405.4 214.4L406.2 214.6L406.9 214.8L407.7 215L408.5 215.2L409.2 215.4L410 215.5L410.8 215.7L411.5 215.9L412.3 216.1L413.1 216.3L413.8 216.5L414.6 216.7L415.4 216.9L416.2 217.1L416.9 217.3L417.7 217.5L418.5 217.7L419.2 217.9L420 218.1"/>
<path d="M323 230.5L323 230.5L323.8 230.2L324.5 229.8L325.3 229.4L326 229.1L326.8 228.7L327.6 228.4L328.3 228L329.1 227.7L329.8 227.3L330.6 227L331.3 226.6L332.1 226.3L332.9 225.9L333.6 225.6L334.4 225.2L335.1 224.9L335.9 224.5L336.7 224.1L337.4 223.8L338.2 223.4L338.9 223L339.7 222.7L340.4 222.3L341.2 221.9L342 221.5L342.7 221.1L343.5 220.7L344.2 220.3L345 219.9L345.8 219.4L346.5 218.9L347.2 218.4L348 217.8L348.8 217.2L349.5 216.5L350.2 215.9L351 215.3L351.8 214.7L352.5 214.2L353.2 213.7L354 213.3L354.8 212.9L355.5 212.7L356.2 212.5L357 212.4L357.8 212.4L358.5 212.5L359.3 212.5L360 212.6L360.8 212.6L361.6 212.7L362.3 212.8L363.1 212.9L363.8 213.1L364.6 213.2L365.4 213.3L366.1 213.4L366.9 213.6L367.6 213.7L368.4 213.8L369.2 213.9L369.9 214L370.7 214.1L371.4 214.2L372.2 214.3L373 214.4L373.7 214.5L374.5 214.5L375.2 214.5L376 214.6L376.8 214.5L377.5 214.2L378.3 213.8L379.1 213.4L379.8 212.8L380.6 212.2L381.4 211.6L382.2 211L382.9 210.4L383.7 209.9L384.5 209.6L385.2 209.3L386 209.2L386.8 209.2L387.5 209.2L388.3 209.3L389.1 209.3L389.8 209.4L390.6 209.4L391.4 209.5L392.2 209.5L392.9 209.6L393.7 209.7L394.5 209.8L395.2 209.9L396 210.1L396.8 210.2L397.5 210.3L398.3 210.5L399.1 210.6L399.8 210.8L400.6 211L401.4 211.2L402.2 211.3L402.9 211.5L403.7 211.7L404.5 212L405.2 212.2L406 212.4L406.8 212.7L407.6 213L408.3 213.3L409.1 213.6L409.9 214L410.7 214.3L411.4 214.7L412.2 215.1L413 215.5L413.8 215.9L414.6 216.3L415.3 216.7L416.1 217.1L416.9 217.5L417.7 217.9L418.4 218.2L419.2 218.5L420 218.8L420.8 219.1L421.5 219.3L422.3 219.6L423.1 219.8L423.8 220.1L424.6 220.3L425.4 220.5L426.2 220.7L426.9 221L427.7 221.2L428.5 221.4L429.2 221.6L430 221.7L430.8 221.9L431.5 222.1L432.3 222.3L433.1 222.5L433.8 222.7L434.6 222.8L435.4 223L436.2 223.2L436.9 223.4L437.7 223.6L438.5 223.8L439.2 223.9L440 224.1L440.8 224.3L441.5 224.5L442.3 224.7L443.1 225L443.8 225.2L444.6 225.4L445.4 225.6L446.2 225.8L446.9 226L447.7 226.2L448.5 226.4L449.2 226.6L450 226.8L450.8 227.1L451.5 227.3L452.3 227.4L453.1 227.6L453.8 227.8L454.6 228L455.4 228.2L456.2 228.3L456.9 228.5L457.7 228.6L458.5 228.8L459.2 228.9L460 229L460.8 229.1L461.5 229.3L462.3 229.3L463.1 229.4L463.8 229.5L464.6 229.6L465.4 229.7L466.1 229.7L466.9 229.8L467.6 229.8L468.4 229.9L469.2 229.9L469.9 230L470.7 230L471.5 230L472.2 230.1L473 230.1L473.8 230.1L474.5 230.1L475.3 230.2L476.1 230.2L476.8 230.2L477.6 230.2L478.4 230.2L479.1 230.3L479.9 230.3L480.6 230.3L481.4 230.3L482.2 230.4L482.9 230.4L483.7 230.4L484.5 230.4L485.2 230.5L486 230.5"/>
<path d="M335 241.2L335 241.2L335.8 240.9L336.5 240.7L337.3 240.5L338 240.3L338.8 240.1L339.6 239.9L340.3 239.7L341.1 239.5L341.8 239.3L342.6 239.1L343.3 238.9L344.1 238.7L344.9 238.5L345.6 238.2L346.4 238L347.1 237.8L347.9 237.6L348.7 237.4L349.4 237.2L350.2 237L350.9 236.7L351.7 236.5L352.4 236.3L353.2 236L354 235.8L354.7 235.5L355.5 235.3L356.2 235L357 234.8L357.8 234.5L358.5 234.2L359.3 233.9L360.1 233.6L360.8 233.3L361.6 233L362.3 232.7L363.1 232.3L363.9 232L364.6 231.7L365.4 231.3L366.2 231L366.9 230.6L367.7 230.3L368.4 229.9L369.2 229.5L370 229.2L370.7 228.8L371.5 228.5L372.3 228.1L373 227.8L373.8 227.4L374.6 227.1L375.3 226.7L376.1 226.4L376.8 226.1L377.6 225.8L378.4 225.4L379.1 225.1L379.9 224.8L380.7 224.5L381.4 224.3L382.2 224L382.9 223.7L383.7 223.5L384.5 223.3L385.2 223.1L386 222.8L386.8 222.7L387.5 222.5L388.3 222.3L389.1 222.1L389.8 222L390.6 221.8L391.3 221.7L392.1 221.5L392.9 221.4L393.6 221.3L394.4 221.2L395.2 221L395.9 220.9L396.7 220.8L397.4 220.7L398.2 220.7L399 220.6L399.7 220.5L400.5 220.4L401.3 220.4L402 220.3L402.8 220.2L403.6 220.2L404.3 220.1L405.1 220.1L405.8 220.1L406.6 220L407.4 220L408.1 220L408.9 219.9L409.7 219.9L410.4 219.9L411.2 219.9L411.9 219.9L412.7 219.9L413.5 219.9L414.2 219.9L415 219.9L415.8 219.9L416.5 219.9L417.3 219.9L418 219.9L418.8 220L419.5 220L420.3 220L421.1 220.1L421.8 220.2L422.6 220.2L423.3 220.3L424.1 220.4L424.8 220.5L425.6 220.5L426.4 220.6L427.1 220.7L427.9 220.8L428.6 221L429.4 221.1L430.2 221.2L430.9 221.3L431.7 221.4L432.4 221.6L433.2 221.7L433.9 221.8L434.7 222L435.5 222.1L436.2 222.3L437 222.4L437.7 222.6L438.5 222.7L439.2 222.9L440 223.1L440.8 223.2L441.5 223.4L442.3 223.6L443 223.8L443.8 224L444.5 224.2L445.3 224.4L446.1 224.6L446.8 224.9L447.6 225.1L448.3 225.3L449.1 225.6L449.8 225.8L450.6 226.1L451.4 226.3L452.1 226.6L452.9 226.8L453.6 227.1L454.4 227.3L455.1 227.6L455.9 227.8L456.6 228.1L457.4 228.3L458.2 228.6L458.9 228.9L459.7 229.1L460.4 229.4L461.2 229.6L461.9 229.8L462.7 230.1L463.5 230.3L464.2 230.5L465 230.8L465.7 231L466.5 231.2L467.2 231.4L468 231.6L468.8 231.8L469.5 232L470.3 232.2L471.1 232.3L471.8 232.5L472.6 232.7L473.4 232.9L474.2 233.1L474.9 233.2L475.7 233.4L476.5 233.6L477.2 233.7L478 233.9L478.8 234.1L479.5 234.2L480.3 234.4L481.1 234.5L481.8 234.7L482.6 234.8L483.4 234.9L484.2 235.1L484.9 235.2L485.7 235.3L486.5 235.4L487.2 235.5L488 235.6L488.8 235.7L489.6 235.8L490.3 235.9L491.1 236L491.9 236.1L492.7 236.1L493.4 236.2L494.2 236.2L495 236.3L495.8 236.3L496.6 236.4L497.3 236.4L498.1 236.4L498.9 236.4L499.7 236.5L500.4 236.5L501.2 236.5L502 236.5L502.8 236.5L503.5 236.5L504.3 236.4L505 236.4L505.8 236.3L506.6 236.2L507.3 236.2L508.1 236.1L508.8 236L509.6 235.9L510.4 235.8L511.1 235.7L511.9 235.6L512.6 235.5L513.4 235.4L514.2 235.3L514.9 235.2L515.7 235.1L516.4 235L517.2 235L518 234.9L518.7 234.8L519.5 234.8L520.2 234.8L521 234.8L521.8 234.8L522.5 234.9L523.3 235L524 235.2L524.8 235.4L525.6 235.6L526.3 235.9L527.1 236.2L527.9 236.5L528.6 236.8L529.4 237.2L530.1 237.5L530.9 237.9L531.7 238.2L532.4 238.5L533.2 238.9L534 239.2L534.7 239.4L535.5 239.7L536.2 239.9L537 240.1L537.8 240.3L538.6 240.4L539.4 240.5L540.1 240.6L540.9 240.7L541.7 240.7L542.5 240.8L543.3 240.8L544.1 240.9L544.9 240.9L545.6 241L546.4 241L547.2 241.1L548 241.2"/>
<path d="M279 275.7L279 275.7L279.8 275.4L280.5 275.1L281.3 274.8L282 274.4L282.8 274.1L283.6 273.8L284.3 273.4L285.1 273.1L285.8 272.8L286.6 272.4L287.4 272.1L288.1 271.8L288.9 271.4L289.6 271.1L290.4 270.8L291.2 270.4L291.9 270.1L292.7 269.8L293.4 269.5L294.2 269.2L295 268.8L295.7 268.5L296.5 268.2L297.2 267.9L298 267.6L298.8 267.4L299.5 267.1L300.3 266.8L301.1 266.5L301.8 266.3L302.6 266L303.3 265.8L304.1 265.5L304.9 265.3L305.6 265.1L306.4 264.8L307.2 264.6L307.9 264.4L308.7 264.1L309.4 263.9L310.2 263.7L311 263.5L311.7 263.2L312.5 263L313.3 262.8L314 262.5L314.8 262.3L315.6 262.1L316.3 261.8L317.1 261.6L317.8 261.4L318.6 261.1L319.4 260.8L320.1 260.6L320.9 260.3L321.7 260L322.4 259.7L323.2 259.5L323.9 259.2L324.7 258.8L325.5 258.5L326.2 258.2L327 257.9L327.8 257.4L328.5 256.9L329.2 256.4L330 255.8L330.8 255.3L331.5 254.8L332.2 254.6L333 254.4L333.8 254.5L334.6 254.5L335.3 254.6L336.1 254.8L336.9 254.9L337.7 255.1L338.4 255.3L339.2 255.6L340 255.8L340.8 256.1L341.6 256.4L342.3 256.7L343.1 257L343.9 257.4L344.7 257.7L345.4 258L346.2 258.4L347 258.7L347.8 259L348.5 259.4L349.3 259.8L350 260.2L350.8 260.6L351.5 261L352.3 261.4L353.1 261.9L353.8 262.3L354.6 262.8L355.3 263.3L356.1 263.8L356.8 264.2L357.6 264.7L358.4 265.2L359.1 265.7L359.9 266.2L360.6 266.7L361.4 267.2L362.2 267.6L362.9 268.1L363.7 268.6L364.4 269L365.2 269.4L365.9 269.9L366.7 270.3L367.5 270.6L368.2 271L369 271.4L369.7 271.7L370.5 272L371.2 272.3L372 272.5L372.8 272.8L373.5 273L374.3 273.2L375 273.4L375.8 273.6L376.5 273.7L377.3 273.9L378.1 274L378.8 274.1L379.6 274.3L380.3 274.4L381.1 274.5L381.8 274.5L382.6 274.6L383.4 274.7L384.1 274.8L384.9 274.8L385.6 274.9L386.4 274.9L387.1 275L387.9 275L388.6 275L389.4 275.1L390.2 275.1L390.9 275.1L391.7 275.2L392.4 275.2L393.2 275.2L393.9 275.3L394.7 275.3L395.5 275.4L396.2 275.4L397 275.5L397.7 275.5L398.5 275.6L399.2 275.7L400 275.7"/>
<path d="M296 289L296 289L296.8 288.8L297.5 288.6L298.3 288.3L299 288.1L299.8 287.8L300.5 287.6L301.3 287.3L302 287.1L302.8 286.9L303.6 286.6L304.3 286.4L305.1 286.2L305.8 285.9L306.6 285.7L307.3 285.5L308.1 285.2L308.8 285L309.6 284.8L310.3 284.6L311.1 284.3L311.9 284.1L312.6 283.9L313.4 283.6L314.1 283.4L314.9 283.2L315.6 282.9L316.4 282.7L317.1 282.4L317.9 282.2L318.7 282L319.4 281.7L320.2 281.5L320.9 281.2L321.7 281L322.4 280.7L323.2 280.5L323.9 280.2L324.7 280L325.4 279.7L326.2 279.4L327 279.2L327.7 278.9L328.5 278.6L329.2 278.3L330 278.1L330.7 277.8L331.5 277.5L332.2 277.2L333 276.9L333.8 276.6L334.5 276.2L335.3 275.9L336.1 275.5L336.8 275L337.6 274.6L338.4 274.1L339.2 273.7L339.9 273.2L340.7 272.7L341.5 272.3L342.2 271.8L343 271.3L343.8 270.9L344.5 270.5L345.3 270L346.1 269.7L346.8 269.3L347.6 269L348.4 268.7L349.2 268.4L349.9 268.2L350.7 268L351.5 267.9L352.2 267.8L353 267.7L353.8 267.8L354.5 267.9L355.2 268L356 268.2L356.8 268.4L357.5 268.7L358.2 269L359 269.3L359.8 269.6L360.5 270L361.2 270.3L362 270.7L362.8 271L363.5 271.4L364.2 271.7L365 272L365.8 272.3L366.5 272.6L367.2 272.9L368 273.2L368.8 273.6L369.5 273.9L370.2 274.2L371 274.6L371.8 274.9L372.5 275.3L373.2 275.6L374 276L374.8 276.3L375.5 276.7L376.2 277L377 277.3L377.8 277.7L378.5 278L379.2 278.3L380 278.6L380.8 278.9L381.5 279.2L382.2 279.5L383 279.8L383.8 280L384.5 280.3L385.2 280.5L386 280.7L386.8 280.9L387.5 281.1L388.3 281.3L389.1 281.5L389.8 281.6L390.6 281.8L391.3 281.9L392.1 282L392.9 282.2L393.6 282.3L394.4 282.4L395.2 282.5L395.9 282.6L396.7 282.6L397.4 282.7L398.2 282.8L399 282.9L399.7 282.9L400.5 283L401.3 283.1L402 283.1L402.8 283.2L403.6 283.3L404.3 283.3L405.1 283.4L405.8 283.5L406.6 283.5L407.4 283.6L408.1 283.7L408.9 283.8L409.7 283.9L410.4 284L411.2 284.1L411.9 284.2L412.7 284.3L413.5 284.5L414.2 284.6L415 284.8L415.8 284.9L416.5 285.1L417.2 285.3L418 285.5L418.8 285.7L419.5 285.9L420.2 286.1L421 286.3L421.8 286.6L422.5 286.8L423.2 287L424 287.2L424.8 287.5L425.5 287.7L426.2 287.9L427 288.2L427.8 288.4L428.5 288.6L429.2 288.8L430 289"/>
<path d="M325 301.5L325 301.5L325.8 301.1L326.5 300.8L327.3 300.4L328 300L328.8 299.7L329.6 299.3L330.3 299L331.1 298.6L331.9 298.2L332.6 297.9L333.4 297.5L334.1 297.1L334.9 296.7L335.7 296.4L336.4 296L337.2 295.6L338 295.3L338.7 294.9L339.5 294.5L340.2 294.1L341 293.8L341.8 293.4L342.5 293L343.3 292.7L344 292.3L344.8 292L345.6 291.6L346.3 291.3L347.1 290.9L347.9 290.6L348.6 290.3L349.4 289.9L350.1 289.6L350.9 289.3L351.7 289L352.4 288.7L353.2 288.4L354 288.1L354.7 287.8L355.5 287.5L356.2 287.2L357 287L357.8 286.7L358.5 286.4L359.3 286.2L360.1 285.9L360.8 285.7L361.6 285.4L362.3 285.1L363.1 284.9L363.9 284.6L364.6 284.4L365.4 284.1L366.2 283.9L366.9 283.6L367.7 283.4L368.4 283.2L369.2 283L370 282.7L370.7 282.5L371.5 282.3L372.3 282.1L373 281.9L373.8 281.7L374.6 281.6L375.3 281.4L376.1 281.2L376.8 281.1L377.6 280.9L378.4 280.8L379.1 280.7L379.9 280.6L380.7 280.5L381.4 280.4L382.2 280.3L382.9 280.3L383.7 280.2L384.5 280.2L385.2 280.2L386 280.2L386.8 280.2L387.5 280.2L388.3 280.2L389.1 280.3L389.8 280.3L390.6 280.4L391.4 280.5L392.2 280.5L392.9 280.6L393.7 280.8L394.5 280.9L395.2 281L396 281.1L396.8 281.3L397.5 281.4L398.3 281.5L399.1 281.7L399.8 281.8L400.6 282L401.4 282.2L402.2 282.3L402.9 282.5L403.7 282.6L404.5 282.8L405.2 283L406 283.1L406.8 283.3L407.6 283.5L408.3 283.7L409.1 283.9L409.9 284.1L410.7 284.3L411.4 284.6L412.2 284.8L413 285L413.8 285.2L414.6 285.5L415.3 285.7L416.1 285.9L416.9 286.2L417.7 286.4L418.4 286.6L419.2 286.8L420 287L420.8 287.1L421.5 287.3L422.3 287.5L423.1 287.6L423.8 287.8L424.6 287.9L425.4 288.1L426.2 288.2L426.9 288.3L427.7 288.5L428.5 288.6L429.2 288.7L430 288.8L430.8 289L431.5 289.1L432.3 289.2L433.1 289.4L433.8 289.5L434.6 289.6L435.4 289.8L436.2 289.9L436.9 290.1L437.7 290.3L438.5 290.4L439.2 290.6L440 290.8L440.8 291L441.5 291.2L442.3 291.4L443 291.7L443.8 291.9L444.6 292.2L445.3 292.4L446.1 292.7L446.8 292.9L447.6 293.2L448.4 293.5L449.1 293.7L449.9 294L450.6 294.3L451.4 294.5L452.2 294.8L452.9 295L453.7 295.3L454.4 295.5L455.2 295.8L456 296L456.7 296.2L457.5 296.4L458.2 296.6L459 296.8L459.8 296.9L460.5 297.1L461.3 297.2L462 297.4L462.8 297.5L463.5 297.7L464.3 297.8L465 297.9L465.8 298.1L466.6 298.2L467.3 298.3L468.1 298.4L468.8 298.5L469.6 298.6L470.3 298.7L471.1 298.8L471.8 298.9L472.6 299L473.3 299.1L474.1 299.2L474.9 299.3L475.6 299.3L476.4 299.4L477.1 299.5L477.9 299.6L478.6 299.7L479.4 299.7L480.1 299.8L480.9 299.9L481.7 300L482.4 300L483.2 300.1L483.9 300.2L484.7 300.2L485.4 300.3L486.2 300.4L486.9 300.5L487.7 300.5L488.4 300.6L489.2 300.7L490 300.8L490.7 300.8L491.5 300.9L492.2 301L493 301.1L493.7 301.2L494.5 301.3L495.2 301.4L496 301.5"/>
<path d="M374 312.1L374 312.1L374.8 311.9L375.5 311.7L376.3 311.5L377 311.3L377.8 311.1L378.6 310.9L379.3 310.7L380.1 310.5L380.8 310.3L381.6 310.1L382.3 309.9L383.1 309.7L383.9 309.5L384.6 309.3L385.4 309.1L386.1 308.9L386.9 308.7L387.7 308.6L388.4 308.4L389.2 308.2L389.9 308L390.7 307.8L391.4 307.6L392.2 307.4L393 307.2L393.7 307.1L394.5 306.9L395.2 306.7L396 306.6L396.8 306.4L397.5 306.2L398.2 306.1L399 305.9L399.8 305.7L400.5 305.5L401.2 305.4L402 305.2L402.8 305L403.5 304.8L404.2 304.7L405 304.5L405.8 304.3L406.5 304.2L407.2 304L408 303.9L408.8 303.7L409.5 303.5L410.2 303.4L411 303.3L411.8 303.1L412.5 303L413.2 302.9L414 302.7L414.8 302.6L415.5 302.5L416.2 302.4L417 302.3L417.8 302.3L418.5 302.2L419.2 302.1L420 302.1L420.8 302L421.5 302L422.2 301.9L423 301.9L423.8 301.9L424.5 301.8L425.2 301.8L426 301.8L426.8 301.7L427.5 301.7L428.2 301.7L429 301.7L429.8 301.6L430.5 301.6L431.2 301.6L432 301.6L432.8 301.6L433.5 301.5L434.2 301.5L435 301.5L435.8 301.5L436.5 301.5L437.2 301.5L438 301.5L438.8 301.5L439.5 301.5L440.2 301.5L441 301.5L441.8 301.5L442.5 301.5L443.2 301.4L444 301.4L444.8 301.4L445.5 301.4L446.2 301.4L447 301.4L447.8 301.4L448.5 301.4L449.2 301.4L450 301.4L450.8 301.4L451.5 301.4L452.2 301.5L453 301.5L453.8 301.5L454.5 301.5L455.2 301.5L456 301.5L456.8 301.5L457.5 301.5L458.2 301.6L459 301.6L459.8 301.6L460.5 301.6L461.2 301.6L462 301.7L462.8 301.7L463.5 301.7L464.2 301.7L465 301.8L465.8 301.8L466.5 301.8L467.2 301.8L468 301.9L468.8 301.9L469.5 301.9L470.2 301.9L471 301.9L471.8 302L472.5 302L473.2 302L474 302L474.8 302L475.5 302L476.2 302.1L477 302.1L477.8 302.1L478.5 302.1L479.2 302.1L480 302.1L480.8 302.1L481.5 302.1L482.3 302.1L483.1 302.1L483.8 302.1L484.6 302.1L485.4 302.1L486.2 302.1L486.9 302.1L487.7 302L488.5 302L489.2 302L490 302L490.8 302L491.5 302L492.3 301.9L493.1 301.9L493.8 301.9L494.6 301.8L495.4 301.8L496.2 301.7L496.9 301.7L497.7 301.6L498.5 301.6L499.2 301.5L500 301.4L500.8 301.4L501.5 301.3L502.3 301.2L503.1 301.1L503.8 301L504.6 300.9L505.4 300.7L506.2 300.6L506.9 300.4L507.7 300.2L508.5 299.9L509.2 299.6L510 299.3L510.8 298.9L511.5 298.5L512.3 297.9L513.1 297.3L513.8 296.7L514.6 296L515.4 295.4L516.1 294.7L516.9 294L517.6 293.4L518.4 292.8L519.2 292.2L519.9 291.7L520.7 291.4L521.5 291L522.2 290.9L523 290.8L523.8 290.9L524.6 291L525.3 291.3L526.1 291.6L526.9 292.1L527.7 292.6L528.4 293.2L529.2 293.8L530 294.4L530.8 295.1L531.6 295.8L532.3 296.5L533.1 297.2L533.9 297.9L534.7 298.6L535.4 299.2L536.2 299.8L537 300.4L537.8 300.9L538.5 301.4L539.3 302L540.1 302.5L540.9 303.1L541.6 303.7L542.4 304.2L543.2 304.8L544 305.4L544.7 305.9L545.5 306.5L546.3 307L547 307.6L547.8 308.1L548.6 308.5L549.4 309L550.1 309.4L550.9 309.8L551.7 310.2L552.5 310.5L553.2 310.8L554 311L554.8 311.2L555.6 311.4L556.4 311.5L557.1 311.6L557.9 311.7L558.7 311.8L559.5 311.8L560.3 311.9L561.1 311.9L561.9 311.9L562.6 312L563.4 312L564.2 312L565 312.1"/>
<path d="M289 546.8L289 546.8L290 538.9L291 531.9L291.8 527.6L292.5 525.5L293.4 526L294.2 527.5L295.1 529.2L296 530.8L296.8 532.1L297.6 533.5L298.4 534.8L299.2 536.1L300 537.2L300.8 538.1L301.5 539L302.2 539.7L303 540.5L303.8 541.1L304.5 541.8L305.2 542.4L306 542.9L306.8 543.5L307.6 544L308.3 544.4L309.1 544.8L309.9 545.2L310.7 545.6L311.4 546L312.2 546.4L313 546.8"/>
<path d="M292.5 382L292.5 382L293.3 380.1L294.1 378.3L294.8 376.3L295.6 373.9L296.4 370.5L297.2 366.7L298 363.7L298.8 362.1L299.6 361.2L300.3 360.8L301.1 360.7L301.9 360.8L302.7 361L303.4 361.4L304.2 362L305 362.9L305.8 363.9L306.6 365.3L307.3 366.8L308.1 368.4L308.9 369.9L309.7 371.4L310.5 372.9L311.2 374.4L312 375.8L312.8 376.9L313.6 377.7L314.4 378.3L315.1 378.8L315.9 379.2L316.7 379.7L317.5 380.3L318.4 380.8L319.2 381.4L320 382"/>
<path d="M570 340.5L570 340.5L570.8 340L571.5 339.6L572.3 339.2L573.1 338.8L573.8 338.4L574.6 338.1L575.4 337.7L576.2 337.2L576.9 336.7L577.7 336.2L578.5 335.6L579.2 334.9L580 334.1L580.8 333.2L581.5 332.1L582.2 331L583 329.8L583.8 328.5L584.5 327.2L585.2 325.8L586 324.5L586.9 322.4L587.8 320.2L588.7 319.2L589.5 320.6L590.2 324L591 327.7L591.8 331.7L592.7 336.1L593.5 340.5"/>
<path d="M301 423.6L301 423.6L301.8 421.4L302.6 419.2L303.4 417L304.2 415L305 413.1L305.8 411.5L306.6 410L307.4 408.6L308.1 407.4L308.9 406.2L309.7 405.3L310.5 404.4L311.3 403.7L312 403.1L312.8 402.6L313.6 402.4L314.4 402.3L315.2 402.6L315.9 403.6L316.7 404.9L317.5 406.3L318.2 407.8L319 409.1L319.8 410.3L320.6 411.4L321.4 412.6L322.2 413.8L323 414.9L323.8 416L324.6 417L325.4 417.9L326.2 418.8L327 419.6L327.8 420.4L328.6 421.2L329.4 422L330.2 422.8L331 423.6"/>
<path d="M321.4 385.7L321.4 385.7L322.2 384.4L323 383.2L323.8 382L324.5 380.8L325.3 379.5L326.1 378.3L326.9 376.9L327.7 375.6L328.5 374.1L329.2 372.6L330 371.2L330.8 369.9L331.6 368.7L332.4 367.4L333.1 366.3L333.9 365.3L334.7 364.6L335.5 364.4L336.3 364.4L337.1 364.5L337.9 364.7L338.6 364.9L339.4 365.4L340.2 365.9L341 366.7L341.8 367.7L342.6 368.9L343.4 370.3L344.1 371.9L344.9 373.5L345.7 375.2L346.5 377.1L347.3 379.2L348 381.3L348.8 383.5L349.6 385.7"/>
<path d="M335 368.8L335 368.8L335.8 368.5L336.5 368.2L337.3 368L338.1 367.7L338.8 367.5L339.6 367.2L340.4 367L341.2 366.7L341.9 366.4L342.7 366L343.5 365.6L344.2 365.1L345 364.6L345.8 363.9L346.7 363.2L347.5 362.4L348.3 361.5L349.2 360.5L350 359.2L350.8 357.8L351.6 356.1L352.4 354.3L353.2 352.5L354 350.7L354.8 348.7L355.5 347.5L356.5 356.1L357.2 362.4L358 368.8"/>
<path d="M367 402.5L367 402.5L367.8 402.4L368.5 402.2L369.3 402.1L370 401.9L370.8 401.8L371.6 401.6L372.3 401.5L373.1 401.3L373.8 401.2L374.6 401L375.4 400.9L376.1 400.7L376.9 400.6L377.6 400.4L378.4 400.3L379.2 400.2L379.9 400L380.7 399.9L381.4 399.8L382.2 399.6L383 399.5L383.7 399.4L384.5 399.3L385.2 399.2L386 399.1L386.8 399L387.6 399L388.3 398.9L389.1 398.9L389.9 398.8L390.7 398.8L391.4 398.8L392.2 398.8L393 398.7L393.8 398.7L394.6 398.7L395.3 398.7L396.1 398.6L396.9 398.6L397.7 398.5L398.4 398.5L399.2 398.4L400 398.3L400.8 398.1L401.5 398L402.3 397.9L403.1 397.7L403.8 397.6L404.6 397.4L405.4 397.3L406.2 397.1L406.9 396.9L407.7 396.7L408.5 396.5L409.2 396.3L410 396.1L410.8 395.9L411.5 395.7L412.3 395.5L413.1 395.3L413.8 395.1L414.6 394.9L415.4 394.7L416.2 394.4L416.9 394.2L417.7 394L418.5 393.8L419.2 393.6L420 393.4L420.8 393.1L421.5 392.9L422.3 392.7L423.1 392.5L423.8 392.3L424.6 392L425.4 391.8L426.1 391.6L426.9 391.3L427.6 391.1L428.4 390.8L429.2 390.6L429.9 390.3L430.7 390.1L431.5 389.8L432.2 389.6L433 389.3L433.8 389.1L434.5 388.8L435.3 388.5L436 388.3L436.8 388L437.6 387.7L438.3 387.4L439.1 387.2L439.9 386.9L440.6 386.6L441.4 386.3L442.1 386L442.9 385.8L443.7 385.5L444.4 385.2L445.2 384.9L446 384.6L446.7 384.4L447.5 384.1L448.2 383.8L449 383.6L449.8 383.3L450.6 382.9L451.3 382.6L452.1 382.3L452.9 381.9L453.7 381.6L454.4 381.4L455.2 381.3L456 381.2L456.8 381.7L457.6 382.8L458.4 384.4L459.2 386.1L460 387.6L460.8 389L461.7 390.5L462.5 392L463.3 393.4L464.2 394.8L465 396.1L465.8 397.3L466.7 398.4L467.5 399.5L468.3 400.5L469.2 401.5L470 402.5"/>
<path d="M468 414.9L468 414.9L468.8 414.9L469.5 414.8L470.2 414.7L471 414.7L471.8 414.6L472.5 414.6L473.2 414.5L474 414.4L474.8 414.4L475.5 414.3L476.2 414.3L477 414.3L477.8 414.2L478.5 414.2L479.2 414.1L480 414.1L480.8 414L481.5 414L482.2 413.9L483 413.9L483.8 413.8L484.5 413.8L485.2 413.7L486 413.6L486.8 413.6L487.5 413.5L488.2 413.4L489 413.3L489.8 413.3L490.5 413.2L491.2 413.1L492 413L492.8 412.9L493.5 412.8L494.2 412.7L495 412.5L495.8 412.4L496.5 412.3L497.2 412.1L498 412L498.8 411.8L499.5 411.7L500.2 411.5L501 411.4L501.8 411.3L502.5 411.2L503.2 411.1L504 410.9L504.8 410.8L505.5 410.6L506.2 410.4L507 410.2L507.8 410L508.5 409.7L509.2 409.4L510 409L510.8 408.6L511.5 408.2L512.2 407.6L513 407.1L513.8 406.4L514.6 405.6L515.3 404.7L516.1 403.8L516.9 402.7L517.7 401.6L518.4 400.4L519.2 399.2L520 397.9L521 395.3L522 393.6L522.8 393.8L523.6 394.2L524.3 394.7L525.1 395.4L525.9 396.1L526.7 396.8L527.4 397.4L528.2 397.7L529 397.9L529.8 397.9L530.6 397.8L531.4 397.8L532.2 397.7L533 397.6L533.8 397.5L534.6 397.4L535.4 397.3L536.2 397.3L537 397.3L537.8 397.3L538.5 397.5L539.3 397.8L540.1 398.1L540.8 398.6L541.6 399.1L542.4 399.6L543.2 400.2L543.9 400.8L544.7 401.5L545.5 402.1L546.2 402.7L547 403.2L547.8 403.8L548.6 404.4L549.4 405L550.2 405.7L551 406.3L551.8 407L552.6 407.7L553.4 408.3L554.2 409L555 409.6L555.8 410.2L556.6 410.8L557.3 411.4L558.1 412L558.9 412.6L559.7 413.2L560.4 413.8L561.2 414.3L562 414.9"/>
<path d="M517 425.6L517 425.6L517.8 425.3L518.5 425.1L519.3 424.9L520.1 424.7L520.8 424.5L521.6 424.4L522.4 424.2L523.2 424.1L523.9 424L524.7 423.8L525.5 423.7L526.2 423.6L527 423.4L527.8 423.2L528.5 423L529.3 422.8L530.1 422.6L530.8 422.3L531.6 422L532.4 421.6L533.2 421.2L533.9 420.8L534.7 420.3L535.5 419.8L536.2 419.2L537 418.5L537.8 417.7L538.5 416.7L539.3 415.4L540.1 414L540.8 412.5L541.6 411L542.4 409.6L543.2 408.2L543.9 406.9L544.7 405.8L545.5 405L546.2 404.5L547 404.3L547.8 404.4L548.5 404.6L549.2 405.1L550 405.6L550.8 406.2L551.5 406.9L552.2 407.7L553 408.4L553.8 409.2L554.5 409.9L555.2 410.5L556 411.1L556.8 411.6L557.5 412.1L558.3 412.6L559.1 413.1L559.8 413.6L560.6 414.1L561.4 414.6L562.2 415L562.9 415.5L563.7 416L564.5 416.4L565.2 416.9L566 417.3L566.8 417.8L567.5 418.2L568.3 418.6L569.1 419.1L569.8 419.5L570.6 419.9L571.4 420.3L572.2 420.7L572.9 421.1L573.7 421.5L574.5 421.8L575.2 422.2L576 422.6L576.8 423L577.6 423.3L578.4 423.6L579.2 423.9L580 424.2L580.8 424.5L581.6 424.7L582.4 425L583.2 425.3L584 425.6"/>
<path d="M324 461.5L324 461.5L324.8 460.6L325.5 459.8L326.3 458.9L327 458L327.8 457.1L328.6 456.2L329.3 455.3L330.1 454.3L330.9 453.4L331.6 452.5L332.4 451.6L333.1 450.8L333.9 449.9L334.7 449L335.4 448.2L336.2 447.4L337 446.7L337.7 445.9L338.5 445.3L339.2 444.6L340 444L340.8 443.5L341.6 443L342.3 442.6L343.1 442.3L343.9 442L344.7 441.7L345.4 441.5L346.2 441.3L347 441L347.8 440.8L348.7 440.6L349.5 440.4L350.3 440.3L351.2 440.2L352 440.2L352.8 440.4L353.5 440.9L354.2 441.6L355 442.1L355.8 442.5L356.5 442.9L357.2 443.3L358 443.6L358.8 444L359.5 444.3L360.2 444.6L361 445L361.8 445.3L362.5 445.6L363.2 446L364 446.3L364.8 446.7L365.5 447.1L366.2 447.4L367 447.8L367.8 448.3L368.5 448.7L369.3 449.2L370.1 449.6L370.9 450.1L371.6 450.6L372.4 451.1L373.2 451.6L374 452L374.7 452.5L375.5 453L376.3 453.5L377 454.1L377.8 454.6L378.6 455.1L379.4 455.6L380.1 456.1L380.9 456.6L381.7 457L382.5 457.5L383.2 458L384 458.5L384.8 459L385.7 459.5L386.5 460L387.3 460.5L388.2 461L389 461.5"/>
<path d="M359 476.1L359 476.1L359.8 475.7L360.5 475.2L361.2 474.8L362 474.4L362.8 473.9L363.5 473.5L364.2 473.1L365 472.7L365.8 472.2L366.5 471.8L367.2 471.4L368 471L368.8 470.5L369.5 470.1L370.2 469.7L371 469.2L371.8 468.8L372.5 468.3L373.2 467.9L374 467.4L374.8 466.9L375.5 466.4L376.2 466L377 465.5L377.8 464.9L378.5 464.3L379.3 463.7L380.1 463.1L380.8 462.5L381.6 461.8L382.4 461.1L383.1 460.5L383.9 459.8L384.6 459.2L385.4 458.6L386.2 458L386.9 457.4L387.7 456.9L388.5 456.4L389.2 456L390 455.7L390.8 455.4L391.5 455.2L392.2 455L393 454.9L393.8 454.9L394.5 454.8L395.2 454.8L396 454.8L396.8 454.8L397.5 454.9L398.3 455L399.1 455.2L399.8 455.3L400.6 455.6L401.4 455.9L402.2 456.2L402.9 456.6L403.7 457L404.5 457.5L405.2 458.1L406 458.6L406.8 459.3L407.5 460L408.2 460.9L409 461.8L409.8 462.7L410.5 463.7L411.2 464.8L412 465.8L412.8 466.8L413.5 467.9L414.2 468.9L415 469.9L415.8 470.8L416.5 471.7L417.2 472.4L418 473.1L418.8 473.7L419.5 474.2L420.2 474.6L421 474.9L421.8 475.2L422.5 475.5L423.2 475.8L424 476.1"/>
<path d="M395 491.2L395 491.2L395.8 491L396.5 490.9L397.2 490.7L398 490.6L398.8 490.5L399.5 490.4L400.2 490.2L401 490.1L401.8 490L402.5 489.8L403.2 489.7L404 489.6L404.8 489.4L405.5 489.3L406.2 489.1L407 488.9L407.8 488.7L408.5 488.5L409.2 488.2L410 488L410.8 487.7L411.5 487.4L412.2 487.2L413 486.9L413.8 486.6L414.5 486.3L415.2 486L416 485.7L416.8 485.4L417.5 485.1L418.2 484.7L419 484.3L419.8 483.9L420.5 483.5L421.2 483.1L422 482.6L422.8 482.1L423.5 481.6L424.2 481.1L425 480.5L425.8 479.9L426.6 479.1L427.3 478.3L428.1 477.5L428.9 476.6L429.7 475.7L430.4 474.8L431.2 473.9L432 473.1L432.8 472.1L433.5 471.1L434.2 470.2L435 469.9L436 471.1L437 474.1L438 478.9L439 484.8L440 491.2"/>
<path d="M418 507.1L418 507.1L418.8 506.8L419.5 506.5L420.3 506.1L421 505.7L421.8 505.4L422.6 505L423.3 504.6L424.1 504.2L424.8 503.8L425.6 503.4L426.3 503.1L427.1 502.7L427.9 502.3L428.6 501.9L429.4 501.5L430.1 501.2L430.9 500.8L431.7 500.5L432.4 500.1L433.2 499.8L433.9 499.5L434.7 499.2L435.4 498.9L436.2 498.6L437 498.4L437.7 498.1L438.5 497.9L439.2 497.7L440 497.6L440.8 497.4L441.5 497.3L442.2 497.1L443 497L443.8 496.9L444.5 496.9L445.2 496.8L446 496.7L446.8 496.7L447.5 496.6L448.2 496.6L449 496.6L449.8 496.5L450.5 496.5L451.2 496.5L452 496.5L452.8 496.5L453.5 496.5L454.2 496.5L455 496.5L455.8 496.5L456.5 496.5L457.3 496.5L458.1 496.6L458.8 496.6L459.6 496.6L460.4 496.7L461.2 496.7L461.9 496.8L462.7 496.8L463.5 496.9L464.2 497L465 497L465.8 497.1L466.5 497.1L467.3 497.2L468.1 497.3L468.8 497.3L469.6 497.4L470.4 497.4L471.2 497.4L471.9 497.5L472.7 497.5L473.5 497.5L474.2 497.5L475 497.6L475.8 497.6L476.5 497.6L477.3 497.6L478.1 497.5L478.8 497.5L479.6 497.5L480.4 497.5L481.2 497.5L481.9 497.5L482.7 497.5L483.5 497.5L484.2 497.5L485 497.5L485.8 497.5L486.5 497.4L487.3 497.4L488.1 497.4L488.8 497.3L489.6 497.3L490.4 497.3L491.2 497.2L491.9 497.2L492.7 497.1L493.5 497L494.2 497L495 496.9L495.8 496.8L496.5 496.8L497.2 496.7L498 496.6L498.8 496.5L499.5 496.3L500.2 496.2L501 496.1L501.8 495.9L502.5 495.8L503.2 495.6L504 495.4L504.8 495.2L505.5 495L506.2 494.7L507 494.5L507.8 494.2L508.5 493.9L509.2 493.6L510 493.3L510.8 492.9L511.5 492.4L512.3 491.9L513.1 491.2L513.9 490.6L514.6 489.9L515.4 489.3L516.2 488.6L517 488L517.7 487.4L518.5 486.9L519.3 486.4L520.1 486.1L520.8 485.9L521.6 485.8L522.4 485.9L523.1 486.1L523.9 486.3L524.7 486.7L525.4 487.1L526.2 487.6L526.9 488.1L527.7 488.6L528.5 489.1L529.2 489.6L530 490.1L530.8 490.6L531.5 491L532.2 491.5L533 492L533.8 492.5L534.5 493.1L535.2 493.6L536 494.1L536.8 494.7L537.5 495.2L538.2 495.8L539 496.3L539.8 496.9L540.5 497.5L541.2 498L542 498.6L542.8 499.1L543.5 499.7L544.2 500.2L545 500.7L545.8 501.3L546.5 501.8L547.2 502.3L548 502.9L548.8 503.4L549.5 503.9L550.2 504.5L551 505L551.8 505.5L552.5 506.1L553.2 506.6L554 507.1"/>
<path d="M504.6 524.9L504.6 524.9L505.4 524.5L506.2 524.2L507 523.9L507.8 523.6L508.6 523.3L509.4 523L510.2 522.7L511 522.4L511.8 522.1L512.6 521.8L513.4 521.4L514.2 521L515 520.6L515.8 520.2L516.5 519.7L517.3 519.2L518.1 518.7L518.8 518.2L519.6 517.6L520.4 517.1L521.2 516.5L521.9 516L522.7 515.5L523.5 515L524.2 514.6L525 514.2L525.8 513.9L526.6 513.7L527.3 513.5L528.1 513.4L528.9 513.3L529.7 513.1L530.4 512.9L531.2 512.6L532 512.1L532.8 511.4L533.6 510.5L534.3 509.4L535.1 508.3L535.9 507.1L536.7 506L537.5 505.1L538.2 504.3L539 503.8L539.8 503.6L540.6 503.7L541.4 504.1L542.3 504.7L543.1 505.5L543.9 506.5L544.7 507.5L545.5 508.7L546.4 509.8L547.2 511L548 512.1L548.8 513.2L549.6 514.4L550.4 515.6L551.2 516.9L552 518.2L552.8 519.5L553.6 520.9L554.4 522.2L555.2 523.6L556 524.9"/>
<path d="M518 546.1L518 546.1L518.8 545.8L519.5 545.4L520.3 545.1L521.1 544.7L521.9 544.4L522.6 544.1L523.4 543.8L524.2 543.5L525 543.2L525.7 542.8L526.5 542.5L527.3 542.2L528 541.8L528.8 541.5L529.6 541.1L530.4 540.7L531.1 540.3L531.9 539.8L532.7 539.3L533.5 538.8L534.2 538.2L535 537.6L535.8 536.9L536.5 536.1L537.3 535.1L538.1 534.1L538.9 532.9L539.6 531.8L540.4 530.6L541.2 529.5L542 528.5L542.7 527.5L543.5 526.6L544.3 525.9L545.1 525.3L545.8 525L546.6 524.8L547.4 525L548.1 525.4L548.9 526L549.7 526.7L550.4 527.6L551.2 528.6L551.9 529.6L552.7 530.6L553.5 531.6L554.2 532.6L555 533.4L555.8 534.1L556.6 534.8L557.3 535.6L558.1 536.3L558.9 537L559.7 537.7L560.4 538.4L561.2 539.1L562 539.8L562.8 540.5L563.6 541.2L564.3 541.9L565.1 542.6L565.9 543.3L566.7 544L567.4 544.7L568.2 545.4L569 546.1"/>
<path d="M558 524.9L558 524.9L558.8 524.3L559.6 523.7L560.3 523.2L561.1 522.6L561.9 522.1L562.7 521.5L563.4 520.9L564.2 520.2L565 519.5L565.8 518.8L566.5 518.1L567.3 517.3L568.1 516.4L568.8 515.6L569.6 514.7L570.4 513.9L571.2 513L571.9 512.1L572.7 511.3L573.5 510.5L574.2 509.7L575 508.9L575.8 508.1L576.5 507.2L577.2 506.3L578 505.5L578.8 504.7L579.5 504.1L580.2 503.7L581 503.6L581.8 503.6L582.7 503.7L583.5 504.1L584.3 504.8L585.2 506L586 507.8L586.8 510.5L587.5 514.1L588.2 517.8L589 520.6L589.8 522.3L590.5 523.3L591.2 524L592 524.9"/>
<path d="M562 567.4L562 567.4L562.8 567L563.5 566.6L564.3 566.2L565.1 565.8L565.8 565.5L566.6 565.1L567.4 564.7L568.2 564.3L568.9 563.8L569.7 563.3L570.5 562.6L571.2 561.9L572 561L572.8 560L573.5 558.8L574.2 557.5L575 556.1L575.8 554.6L576.5 553.2L577.2 551.7L578 550.4L578.8 548.6L579.7 546.9L580.5 546.1L581.4 547L582.2 549.3L583.1 552.1L584 554.6L584.8 556.7L585.7 558.9L586.5 561L587.3 563.1L588.2 565.3L589 567.4"/>
<path d="M567 553.2L567 553.2L567.8 552.7L568.5 552.3L569.2 551.9L570 551.5L570.8 551.1L571.5 550.6L572.2 550.2L573 549.7L573.8 549.1L574.5 548.5L575.2 547.7L576 546.8L576.8 545.8L577.5 544.7L578.2 543.4L579 542.1L579.8 540.6L580.5 539.2L581.2 537.7L582 536.2L583 533.6L584 531.9L584.8 532.5L585.6 533.9L586.4 535.9L587.2 538.2L588 540.5L588.8 542.7L589.6 545.3L590.4 547.9L591.2 550.6L592 553.2"/>
<path d="M327 711.5L327 711.5L328 705.4L329 698.7L330 690.2L331 693.7L332 698.7L332.8 701.1L333.6 703L334.4 704.7L335.2 706.1L336 707.3L336.8 708.2L337.5 708.9L338.2 709.5L339 709.9L339.8 710.3L340.5 710.7L341.2 711L342 711.5"/>
<path d="M338 625.9L338 625.9L338.8 624.9L339.6 623.8L340.3 622.8L341.1 621.7L341.9 620.7L342.7 619.6L343.4 618.5L344.2 617.5L345 616.4L345.8 615.1L346.7 613.7L347.5 612.4L348.3 611.1L349.2 609.9L350 608.9L350.8 608.2L351.5 607.7L352.2 607.3L353 607.2L353.8 607.3L354.5 607.5L355.2 607.7L356 607.8L356.8 607.6L357.5 607L358.2 606.3L359 605.7L359.8 605.3L360.5 605L361.2 604.7L362 604.6L363 604.9L364 606.8L365 619.5L366 625.9"/>
<path d="M577 610L577 610L577.8 609.4L578.6 608.9L579.4 608.5L580.2 608.1L581 607.7L581.8 607.2L582.6 606.6L583.4 605.8L584.2 604.8L585 603.6L585.8 601.9L586.6 599.8L587.4 597.4L588.2 595.1L589 592.9L590 590.2L591 588.7L592 592.4L593 599.3L593.8 604.5L594.5 610"/>
<path d="M448 641.9L448 641.9L448.8 641.9L449.5 641.8L450.3 641.8L451 641.8L451.8 641.8L452.6 641.7L453.3 641.7L454.1 641.7L454.9 641.7L455.6 641.7L456.4 641.6L457.1 641.6L457.9 641.6L458.7 641.6L459.4 641.6L460.2 641.6L461 641.5L461.7 641.5L462.5 641.5L463.2 641.5L464 641.5L464.8 641.5L465.5 641.4L466.3 641.4L467 641.4L467.8 641.4L468.6 641.3L469.3 641.3L470.1 641.3L470.9 641.2L471.6 641.2L472.4 641.2L473.1 641.1L473.9 641.1L474.7 641L475.4 641L476.2 640.9L477 640.9L477.7 640.8L478.5 640.8L479.2 640.7L480 640.6L480.8 640.5L481.5 640.5L482.3 640.4L483.1 640.4L483.8 640.3L484.6 640.2L485.4 640.2L486.2 640.1L486.9 640L487.7 640L488.5 639.9L489.2 639.8L490 639.7L490.8 639.6L491.5 639.5L492.3 639.4L493.1 639.3L493.8 639.2L494.6 639L495.4 638.9L496.2 638.7L496.9 638.5L497.7 638.3L498.5 638.1L499.2 637.9L500 637.6L500.8 637.4L501.5 637.1L502.2 636.9L503 636.7L503.8 636.4L504.5 636.1L505.2 635.8L506 635.5L506.8 635.2L507.5 634.8L508.2 634.3L509 633.8L509.8 633.3L510.5 632.7L511.2 632L512 631.2L512.8 630.3L513.5 629.1L514.2 627.7L515 626.3L515.8 624.9L516.5 623.6L517.2 622.5L518 621.7L518.9 621L519.9 620.7L520.8 620.6L521.7 620.6L522.5 620.9L523.2 621.8L524 622.9L524.7 624.2L525.5 625.3L526.2 626.2L527 626.6L527.8 626.6L528.5 626.6L529.3 626.6L530.1 626.6L530.8 626.7L531.6 626.7L532.4 626.7L533.1 626.7L533.9 626.7L534.6 626.7L535.4 626.7L536.2 626.7L536.9 626.7L537.7 626.7L538.5 626.7L539.2 626.8L540 626.8L540.8 626.9L541.5 627.1L542.3 627.4L543.1 627.8L543.8 628.3L544.6 628.9L545.4 629.5L546.2 630.2L546.9 630.8L547.7 631.5L548.5 632.2L549.2 632.8L550 633.4L550.8 633.9L551.6 634.5L552.4 635.1L553.1 635.7L553.9 636.3L554.7 636.9L555.5 637.6L556.3 638.2L557.1 638.8L557.9 639.4L558.6 640L559.4 640.7L560.2 641.3L561 641.9"/>
<path d="M500 652.5L500 652.5L500.8 652.4L501.5 652.4L502.3 652.3L503.1 652.2L503.8 652.2L504.6 652.1L505.4 652.1L506.2 652L506.9 652L507.7 651.9L508.5 651.9L509.2 651.8L510 651.8L510.8 651.7L511.5 651.6L512.3 651.6L513.1 651.5L513.8 651.4L514.6 651.3L515.4 651.1L516.2 651L516.9 650.8L517.7 650.6L518.5 650.4L519.2 650.2L520 650L520.8 649.7L521.5 649.5L522.2 649.2L523 648.9L523.8 648.6L524.5 648.3L525.2 647.9L526 647.6L526.8 647.2L527.5 646.8L528.2 646.5L529 646L529.8 645.6L530.5 645.1L531.2 644.7L532 644.1L532.8 643.6L533.5 643.1L534.2 642.5L535 641.9L535.8 641.1L536.6 640.2L537.4 639.1L538.2 637.9L539 636.8L539.8 635.6L540.6 634.4L541.4 633.4L542.2 632.5L543 631.8L543.8 631.4L544.6 631.2L545.4 631.3L546.2 631.6L547 632.1L547.8 632.7L548.6 633.3L549.4 634.1L550.2 635L551 635.8L551.8 636.7L552.6 637.6L553.4 638.4L554.2 639.1L555 639.8L555.8 640.3L556.5 640.9L557.3 641.4L558.1 642L558.8 642.5L559.6 643L560.4 643.6L561.1 644.1L561.9 644.6L562.6 645.1L563.4 645.6L564.2 646.1L564.9 646.5L565.7 647L566.5 647.4L567.2 647.9L568 648.3L568.8 648.7L569.5 649.1L570.3 649.4L571.1 649.8L571.8 650.1L572.6 650.4L573.4 650.7L574.2 651L574.9 651.3L575.7 651.6L576.5 651.9L577.2 652.2L578 652.5"/>
<path d="M336.5 797.1L336.5 797.1L337.4 793.8L338.2 790.4L339.1 787.2L340 784.3L340.8 782L341.5 779.7L342.3 777.7L343 776.3L343.8 775.8L344.6 776.2L345.5 777.1L346.3 778.3L347.2 779.7L348 781.1L348.8 782.5L349.6 784.1L350.4 785.7L351.2 787.2L352 788.6L352.8 789.7L353.6 790.8L354.3 791.8L355.1 792.7L355.9 793.6L356.7 794.4L357.4 795.3L358.2 796.2L359 797.1"/>
<path d="M350.6 692.4L350.6 692.4L351.4 691.7L352.2 691.1L353.1 690.4L353.9 689.8L354.7 689.1L355.5 688.4L356.4 687.7L357.2 686.9L358 686L358.8 685.2L359.7 684.3L360.5 683.4L361.3 682.4L362.2 681.1L363 679.6L363.8 677.4L364.6 674.6L365.4 672.2L366.2 671.1L367 675.4L368 686L368.8 689.9L369.6 692.4"/>
<path d="M358.5 711L358.5 711L359.3 709.8L360 708.4L360.8 707.1L361.6 705.7L362.4 704.4L363.1 703L363.9 701.7L364.7 700.5L365.5 699.3L366.2 698.2L367 697.2L367.8 696.3L368.5 695.4L369.2 694.5L370 693.6L370.8 692.8L371.5 692.1L372.2 691.4L373 690.9L373.8 690.4L374.5 690L375.2 689.8L376 689.7L376.8 689.9L377.6 690.2L378.3 690.6L379.1 691.2L379.9 691.9L380.7 692.6L381.4 693.3L382.2 694L383 694.6L383.8 695.2L384.5 695.9L385.3 696.5L386.1 697.2L386.8 697.8L387.6 698.5L388.4 699.2L389.2 699.8L389.9 700.4L390.7 701L391.5 701.6L392.2 702.1L393 702.5L393.8 702.9L394.6 703.2L395.4 703.5L396.2 703.7L397 703.8L397.8 704L398.6 704.2L399.4 704.4L400.2 704.7L401 705.1L401.8 705.5L402.6 706.1L403.4 706.6L404.2 707.2L405 707.9L405.8 708.5L406.6 709.1L407.4 709.8L408.2 710.4L409 711"/>
<path d="M443.5 695.1L443.5 695.1L444.3 695.1L445 695L445.8 695L446.5 695L447.3 695L448.1 695L448.8 694.9L449.6 694.9L450.3 694.9L451.1 694.9L451.9 694.9L452.6 694.9L453.4 694.8L454.1 694.8L454.9 694.8L455.7 694.8L456.4 694.8L457.2 694.8L457.9 694.7L458.7 694.7L459.5 694.7L460.2 694.7L461 694.7L461.8 694.7L462.5 694.6L463.3 694.6L464 694.6L464.8 694.6L465.6 694.6L466.3 694.5L467.1 694.5L467.8 694.5L468.6 694.5L469.4 694.4L470.1 694.4L470.9 694.4L471.6 694.4L472.4 694.3L473.2 694.3L473.9 694.3L474.7 694.3L475.4 694.2L476.2 694.2L477 694.2L477.7 694.1L478.5 694.1L479.2 694.1L480 694L480.8 694L481.5 694L482.3 693.9L483.1 693.9L483.8 693.9L484.6 693.9L485.4 693.8L486.2 693.8L486.9 693.8L487.7 693.8L488.5 693.8L489.2 693.7L490 693.7L490.8 693.7L491.5 693.6L492.3 693.6L493.1 693.5L493.8 693.4L494.6 693.4L495.4 693.3L496.2 693.2L496.9 693.1L497.7 693L498.5 692.8L499.2 692.7L500 692.5L500.8 692.4L501.5 692.2L502.3 692L503.1 691.9L503.8 691.7L504.6 691.5L505.4 691.3L506.1 691L506.9 690.8L507.6 690.5L508.4 690.2L509.2 689.9L509.9 689.5L510.7 689.1L511.5 688.6L512.2 688.2L513 687.6L513.8 686.9L514.7 686.1L515.5 685.1L516.3 684.1L517.2 683.1L518 682.3L518.8 681.5L519.6 680.7L520.4 680L521.1 679.3L521.9 678.9L522.7 678.7L523.5 678.7L524.3 678.9L525.1 679.1L525.9 679.3L526.8 679.6L527.6 679.8L528.4 680L529.2 680.1L530 680.2L530.8 680.1L531.6 679.9L532.3 679.6L533.1 679.2L533.9 678.7L534.7 678.2L535.5 677.6L536.2 677L537 676.4L537.8 675.8L538.6 675.3L539.4 674.8L540.2 674.4L540.9 674.1L541.7 673.9L542.5 673.8L543.3 673.9L544.1 674.2L544.9 674.8L545.7 675.4L546.5 676.2L547.2 677.1L548 678L548.8 678.9L549.6 679.9L550.4 680.8L551.2 681.6L552 682.3L552.8 682.9L553.5 683.6L554.3 684.2L555.1 684.8L555.8 685.4L556.6 686L557.4 686.6L558.1 687.2L558.9 687.8L559.6 688.4L560.4 688.9L561.2 689.5L561.9 690L562.7 690.5L563.5 691L564.2 691.4L565 691.9L565.8 692.3L566.6 692.7L567.4 693L568.2 693.4L569 693.7L569.8 693.9L570.6 694.2L571.4 694.5L572.2 694.8L573 695.1"/>
<path d="M364.7 727L364.7 727L365.5 726.9L366.3 726.8L367.1 726.8L367.9 726.7L368.7 726.7L369.5 726.6L370.4 726.5L371.2 726.4L372 726.3L372.8 726.1L373.6 725.8L374.4 725.5L375.2 725.1L376 724.6L376.9 723.9L377.7 723.2L378.5 722.5L379.3 721.7L380.2 721L381 720.2L381.8 719.5L382.6 718.9L383.3 718.3L384.1 717.6L384.9 716.9L385.6 716.3L386.4 715.6L387.1 714.9L387.9 714.2L388.7 713.6L389.4 713L390.2 712.3L390.9 711.7L391.7 711.2L392.5 710.7L393.2 710.2L394 709.8L394.8 709.3L395.5 709L396.3 708.6L397.1 708.2L397.9 707.9L398.6 707.6L399.4 707.3L400.2 707.1L401 706.8L401.7 706.6L402.5 706.4L403.3 706.3L404.1 706.1L404.8 706L405.6 705.9L406.4 705.8L407.2 705.8L407.9 705.7L408.7 705.7L409.5 705.7L410.2 705.8L411 705.9L411.8 706.1L412.5 706.3L413.3 706.5L414.1 706.8L414.8 707.1L415.6 707.4L416.4 707.7L417.2 708.1L417.9 708.4L418.7 708.8L419.5 709.2L420.2 709.5L421 709.9L421.8 710.2L422.5 710.5L423.3 710.8L424.1 711.1L424.8 711.4L425.6 711.7L426.4 712L427.1 712.3L427.9 712.7L428.7 713L429.5 713.3L430.2 713.6L431 713.9L431.8 714.3L432.5 714.6L433.3 714.9L434.1 715.2L434.8 715.4L435.6 715.7L436.4 716L437.1 716.2L437.9 716.5L438.7 716.8L439.4 717L440.2 717.3L440.9 717.5L441.7 717.7L442.5 718L443.2 718.2L444 718.4L444.8 718.6L445.5 718.8L446.3 719L447 719.2L447.8 719.3L448.6 719.5L449.3 719.6L450.1 719.8L450.8 719.9L451.6 720L452.3 720.1L453.1 720.2L453.9 720.3L454.6 720.4L455.4 720.5L456.1 720.6L456.9 720.6L457.6 720.7L458.4 720.8L459.1 720.9L459.9 720.9L460.7 721L461.4 721L462.2 721.1L462.9 721.2L463.7 721.2L464.4 721.3L465.2 721.3L465.9 721.4L466.7 721.4L467.5 721.5L468.2 721.6L469 721.6L469.7 721.7L470.5 721.7L471.2 721.8L472 721.9L472.8 722L473.5 722L474.3 722.1L475 722.2L475.8 722.3L476.5 722.3L477.3 722.4L478.1 722.5L478.8 722.6L479.6 722.6L480.3 722.7L481.1 722.8L481.8 722.9L482.6 722.9L483.4 723L484.1 723.1L484.9 723.2L485.6 723.2L486.4 723.3L487.2 723.4L487.9 723.5L488.7 723.5L489.4 723.6L490.2 723.7L490.9 723.7L491.7 723.8L492.5 723.9L493.2 723.9L494 724L494.7 724.1L495.5 724.1L496.2 724.2L497 724.2L497.8 724.3L498.5 724.4L499.3 724.4L500.1 724.5L500.8 724.6L501.6 724.6L502.4 724.7L503.2 724.7L503.9 724.8L504.7 724.8L505.5 724.8L506.2 724.9L507 724.9L507.8 724.8L508.6 724.7L509.3 724.6L510.1 724.4L510.9 724.1L511.7 723.9L512.4 723.6L513.2 723.3L514 722.9L514.8 722.6L515.6 722.3L516.3 722L517.1 721.7L517.9 721.4L518.7 721.2L519.4 721L520.2 720.9L521 720.8L521.8 720.8L522.6 720.8L523.3 720.7L524.1 720.7L524.9 720.7L525.7 720.7L526.4 720.7L527.2 720.7L528 720.6L528.8 720.6L529.6 720.6L530.3 720.6L531.1 720.6L531.9 720.6L532.7 720.6L533.4 720.6L534.2 720.6L535 720.6L535.8 720.7L536.5 720.8L537.3 721L538.1 721.2L538.8 721.6L539.6 721.9L540.4 722.3L541.1 722.8L541.9 723.2L542.6 723.7L543.4 724.2L544.2 724.7L544.9 725.2L545.7 725.7L546.5 726.2L547.2 726.6L548 727"/>
<path d="M385.5 737.6L385.5 737.6L386.2 737.5L387 737.4L387.8 737.3L388.5 737.2L389.2 737.1L390 737L390.8 736.9L391.5 736.8L392.2 736.7L393 736.5L393.8 736.4L394.5 736.3L395.2 736.1L396 736L396.8 735.8L397.5 735.6L398.2 735.3L399 735.1L399.8 734.8L400.5 734.5L401.3 734.1L402.1 733.8L402.9 733.4L403.6 733L404.4 732.6L405.2 732.2L406 731.8L406.7 731.4L407.5 730.9L408.3 730.5L409 730L409.8 729.6L410.6 729.1L411.4 728.7L412.1 728.2L412.9 727.7L413.7 727.3L414.5 726.8L415.2 726.4L416 725.9L416.8 725.5L417.5 725L418.3 724.5L419.1 724L419.9 723.5L420.6 723L421.4 722.5L422.2 721.9L423 721.4L423.7 720.9L424.5 720.4L425.3 719.9L426.1 719.4L426.8 719L427.6 718.6L428.4 718.2L429.2 717.8L429.9 717.5L430.7 717.2L431.5 716.9L432.3 716.7L433.1 716.6L433.9 716.5L434.8 716.4L435.6 716.4L436.4 716.4L437.2 716.3L438 716.3L438.8 716.4L439.5 716.5L440.3 716.7L441 716.9L441.8 717.2L442.5 717.5L443.3 717.8L444 718.1L444.8 718.5L445.5 718.8L446.3 719.1L447 719.3L447.8 719.5L448.6 719.7L449.3 719.9L450.1 720L450.8 720.2L451.6 720.4L452.3 720.5L453.1 720.6L453.9 720.8L454.6 720.9L455.4 721L456.1 721.1L456.9 721.3L457.6 721.4L458.4 721.5L459.1 721.6L459.9 721.7L460.7 721.8L461.4 721.9L462.2 722L462.9 722.1L463.7 722.2L464.4 722.3L465.2 722.3L465.9 722.4L466.7 722.5L467.5 722.6L468.2 722.7L469 722.8L469.7 722.9L470.5 723L471.2 723.1L472 723.2L472.8 723.3L473.5 723.3L474.3 723.4L475 723.5L475.8 723.6L476.5 723.7L477.3 723.8L478.1 723.9L478.8 723.9L479.6 724L480.3 724.1L481.1 724.2L481.8 724.2L482.6 724.3L483.4 724.4L484.1 724.5L484.9 724.5L485.6 724.6L486.4 724.7L487.2 724.8L487.9 724.8L488.7 724.9L489.4 725L490.2 725L490.9 725.1L491.7 725.2L492.5 725.3L493.2 725.3L494 725.4L494.7 725.5L495.5 725.6L496.2 725.6L497 725.7L497.8 725.8L498.5 725.9L499.2 726L500 726.1L500.8 726.2L501.5 726.3L502.2 726.4L503 726.5L503.8 726.6L504.5 726.7L505.2 726.8L506 726.9L506.8 726.9L507.5 727L508.2 727L509 727L509.8 726.9L510.5 726.7L511.2 726.3L512 725.9L512.8 725.3L513.5 724.7L514.2 724L515 723.2L515.8 722.5L516.5 721.8L517.2 721.1L518 720.4L518.8 719.8L519.5 719.2L520.2 718.8L521 718.5L521.8 718.2L522.5 718L523.2 717.8L524 717.6L524.8 717.5L525.5 717.4L526.2 717.2L527 717.1L527.8 717.1L528.5 717L529.2 716.9L530 716.9L530.8 716.8L531.5 716.8L532.2 716.8L533 716.8L533.8 716.8L534.5 716.8L535.2 716.8L536 716.8L536.8 716.8L537.6 716.9L538.3 717.1L539.1 717.4L539.9 717.7L540.7 718.1L541.4 718.5L542.2 719L543 719.5L543.8 720.1L544.5 720.7L545.2 721.3L546 722L546.8 722.7L547.5 723.4L548.2 724.2L549 725L549.8 725.8L550.5 726.6L551.2 727.4L552 728.3L552.8 729.1L553.5 729.9L554.2 730.7L555 731.4L555.8 732.2L556.5 732.9L557.2 733.6L558 734.2L558.8 734.9L559.7 735.5L560.5 736L561.3 736.6L562.2 737.1L563 737.6"/>
<path d="M378 901.8L378 901.8L379 893.9L380 886.9L380.8 882.5L381.6 880.5L382.4 880.5L383.3 880.5L384.1 880.6L384.9 880.7L385.7 880.9L386.6 881.2L387.4 881.6L388.2 882.1L388.9 882.8L389.7 883.6L390.5 884.6L391.2 885.7L392 886.9L392.8 888.4L393.6 890.2L394.4 892.1L395.2 893.9L396 895.4L396.8 896.7L397.7 897.9L398.5 898.9L399.3 899.8L400.2 900.8L401 901.8"/>
<path d="M394.7 820.3L394.7 820.3L395.5 819.6L396.3 818.9L397.1 818.2L397.9 817.6L398.8 816.9L399.6 816.2L400.4 815.4L401.2 814.7L402 813.9L402.8 813.2L403.5 812.6L404.2 811.9L405 811.2L405.8 810.4L406.5 809.6L407.2 808.6L408 807.5L408.8 806.1L409.5 804.4L410.2 802.6L411 801.1L411.8 799.7L412.6 799L414 807.5L415 820.3"/>
<path d="M407.8 771.3L407.8 771.3L408.6 769.9L409.5 768.4L410.3 766.9L411.2 765.4L412 763.9L412.8 762.2L413.7 760.5L414.5 758.7L415.3 757L416.2 755.5L417 754.3L417.8 753.3L418.6 752.5L419.4 751.7L420.2 751.1L421.1 750.6L421.9 750.3L422.7 750.1L423.5 750L424.3 750.1L425.1 750.1L425.9 750.2L426.8 750.4L427.6 750.6L428.4 750.7L429.2 750.9L430 751.1L430.8 751.2L431.6 751.3L432.3 751.4L433.1 751.6L433.9 751.8L434.7 752.2L435.4 752.7L436.2 753.4L437 754.3L437.8 756L438.5 758.6L439.2 761.8L440 764.9L441.4 771.3"/>
<path d="M482 783.7L482 783.7L482.8 783.7L483.5 783.7L484.3 783.7L485.1 783.7L485.8 783.7L486.6 783.7L487.4 783.6L488.1 783.6L488.9 783.6L489.7 783.6L490.4 783.6L491.2 783.6L492 783.6L492.7 783.5L493.5 783.5L494.3 783.5L495 783.5L495.8 783.4L496.6 783.4L497.3 783.4L498.1 783.3L498.9 783.3L499.6 783.2L500.4 783.2L501.2 783.1L501.9 783L502.7 783L503.5 782.9L504.2 782.8L505 782.7L505.8 782.5L506.5 782.4L507.3 782.1L508.1 781.8L508.8 781.5L509.6 781.2L510.4 780.8L511.2 780.4L511.9 780L512.7 779.6L513.5 779.2L514.2 778.8L515 778.4L515.8 778L516.6 777.6L517.3 777.1L518.1 776.7L518.9 776.2L519.7 775.8L520.4 775.3L521.2 774.9L522 774.6L522.8 774.3L523.6 774L524.4 773.8L525.2 773.6L526 773.4L526.8 773.2L527.6 773L528.4 772.7L529.2 772.4L530 772L530.8 771.6L531.6 771.1L532.3 770.5L533.1 769.9L533.9 769.2L534.7 768.5L535.4 767.8L536.2 767.1L537 766.4L537.8 765.7L538.6 765L539.3 764.4L540.1 763.9L540.9 763.4L541.7 763L542.4 762.7L543.2 762.5L544 762.4L544.8 762.5L545.6 762.8L546.4 763.1L547.1 763.6L547.9 764.2L548.7 764.9L549.5 765.7L550.3 766.4L551.1 767.3L551.9 768.1L552.6 768.9L553.4 769.6L554.2 770.3L555 771L555.8 771.5L556.5 772.1L557.3 772.8L558.1 773.4L558.8 774L559.6 774.6L560.4 775.2L561.1 775.8L561.9 776.4L562.6 777L563.4 777.6L564.2 778.1L564.9 778.7L565.7 779.2L566.5 779.7L567.2 780.1L568 780.5L568.8 780.9L569.5 781.3L570.3 781.6L571.1 781.8L571.8 782.1L572.6 782.3L573.4 782.5L574.2 782.7L574.9 782.9L575.7 783.1L576.5 783.3L577.2 783.5L578 783.7"/>
<path d="M561 794.4L561 794.4L561.8 794.1L562.6 793.8L563.4 793.6L564.1 793.3L564.9 793.1L565.7 792.9L566.5 792.6L567.3 792.4L568.1 792.1L568.9 791.8L569.6 791.4L570.4 791L571.2 790.6L572 790.1L572.8 789.6L573.6 789L574.4 788.3L575.2 787.6L576 786.8L576.8 786L577.6 785.2L578.4 784.4L579.2 783.5L580 782.7L580.8 781.7L581.5 780.6L582.3 779.4L583.1 778.1L583.9 776.8L584.6 775.7L585.4 774.6L586.2 773.8L586.9 773.3L587.7 773.1L588.5 774L589.2 776.4L590 779.5L591 784.8L592 790.1L592.8 792.5L593.5 794.4"/>
<path d="M412.7 869.3L412.7 869.3L413.5 868.5L414.3 867.6L415.1 866.8L415.9 866L416.8 865.2L417.6 864.3L418.4 863.5L419.2 862.7L420 861.8L420.8 861L421.5 860.2L422.2 859.4L423 858.5L423.8 857.7L424.5 857L425.2 856.3L426 855.7L426.8 855.1L427.5 854.7L428.2 854.2L429 853.8L429.8 853.5L430.5 853.2L431.2 852.9L432 852.6L432.8 852.3L433.5 852L434.2 851.7L435 851.4L435.8 851.1L436.5 850.7L437.2 850.3L438 850L438.8 849.6L439.5 849.2L440.2 848.9L441 848.6L441.8 848.3L442.5 848.2L443.2 848L444 848L444.8 848L445.5 848L446.3 848.1L447 848.1L447.8 848.1L448.6 848.2L449.3 848.3L450.1 848.4L450.9 848.5L451.6 848.6L452.4 848.7L453.1 848.8L453.9 848.9L454.7 849L455.4 849.2L456.2 849.3L457 849.5L457.7 849.6L458.5 849.8L459.2 850L460 850.1L460.8 850.3L461.5 850.5L462.3 850.7L463.1 850.9L463.8 851.1L464.6 851.3L465.4 851.6L466.2 851.8L466.9 852L467.7 852.3L468.5 852.5L469.2 852.8L470 853L470.8 853.3L471.5 853.6L472.3 853.8L473.1 854.1L473.8 854.4L474.6 854.6L475.4 854.9L476.2 855.2L476.9 855.5L477.7 855.7L478.5 856L479.2 856.3L480 856.5L480.8 856.8L481.5 857L482.2 857.3L483 857.5L483.8 857.7L484.5 858L485.2 858.2L486 858.4L486.8 858.7L487.5 858.9L488.2 859.2L489 859.4L489.8 859.7L490.5 860L491.2 860.2L492 860.5L492.8 860.8L493.5 861.2L494.2 861.5L495 861.8L495.8 862.2L496.6 862.6L497.3 863.1L498.1 863.5L498.9 863.9L499.7 864.4L500.5 864.9L501.2 865.4L502 865.9L502.8 866.4L503.6 866.9L504.4 867.4L505.2 867.9L505.9 868.3L506.7 868.8L507.5 869.3"/>
<path d="M495.8 829L495.8 829L496.6 828.6L497.4 828.3L498.2 828L499 827.7L499.7 827.5L500.5 827.2L501.3 827L502.1 826.7L502.9 826.4L503.7 826.2L504.5 825.8L505.3 825.5L506.1 825.1L506.8 824.7L507.6 824.3L508.4 823.8L509.2 823.2L510 822.6L510.8 821.8L511.5 821L512.3 819.9L513 818.8L513.8 817.6L514.6 816.4L515.3 815.1L516.1 813.8L516.9 812.6L517.6 811.5L518.4 810.4L519.2 809.5L519.9 808.7L520.7 808.2L521.4 807.8L522.2 807.7L523 807.8L523.9 808.1L524.7 808.5L525.5 809L526.3 809.4L527.2 809.7L528 809.8L528.8 809.8L529.6 809.7L530.4 809.6L531.2 809.4L532 809.3L532.7 809.1L533.5 809L534.3 808.8L535.1 808.8L535.9 808.7L536.7 808.8L537.4 809.2L538.2 809.8L538.9 810.5L539.7 811.3L540.5 812.3L541.2 813.3L542 814.3L542.7 815.4L543.5 816.4L544.2 817.4L545 818.3L545.8 819.2L546.6 820L547.4 820.9L548.1 821.8L548.9 822.7L549.7 823.6L550.5 824.5L551.3 825.4L552 826.3L552.8 827.2L553.6 828.1L554.4 829"/>
<path d="M513.4 842.3L513.4 842.3L514.2 841.9L514.9 841.6L515.7 841.3L516.4 841L517.2 840.7L517.9 840.5L518.7 840.2L519.4 839.9L520.2 839.7L520.9 839.4L521.7 839.1L522.5 838.8L523.2 838.5L524 838.2L524.7 837.9L525.5 837.5L526.2 837.1L527 836.7L527.7 836.3L528.5 835.8L529.2 835.3L530 834.8L530.8 834.2L531.5 833.4L532.3 832.6L533 831.7L533.8 830.7L534.6 829.7L535.3 828.7L536.1 827.7L536.9 826.6L537.6 825.6L538.4 824.7L539.1 823.8L539.9 823L540.7 822.3L541.4 821.8L542.2 821.3L542.9 821.1L543.7 821L544.5 821L545.2 821.3L546 821.7L546.7 822.3L547.5 822.9L548.2 823.7L549 824.5L549.7 825.4L550.5 826.3L551.2 827.2L552 828.2L552.7 829.1L553.5 830L554.2 830.8L555 831.6L555.8 832.4L556.6 833.1L557.4 833.9L558.1 834.6L558.9 835.4L559.7 836.2L560.5 836.9L561.3 837.7L562.1 838.4L562.9 839.2L563.6 840L564.4 840.7L565.2 841.5L566 842.3"/>
<path d="M530 854.7L530 854.7L530.8 854.1L531.5 853.6L532.2 853.1L533 852.6L533.8 852.2L534.5 851.7L535.2 851.2L536 850.7L536.8 850.2L537.5 849.7L538.2 849.2L539 848.7L539.8 848.2L540.5 847.7L541.2 847.1L542 846.6L542.8 846L543.5 845.3L544.2 844.7L545 844L545.8 843.2L546.6 842.2L547.4 841.1L548.1 840L548.9 838.8L549.7 837.6L550.5 836.5L551.3 835.5L552 834.6L552.8 834L553.6 833.5L554.4 833.4L555.2 833.5L555.9 833.8L556.7 834.3L557.4 834.9L558.2 835.7L558.9 836.5L559.7 837.4L560.5 838.4L561.2 839.4L562 840.4L562.7 841.4L563.5 842.4L564.2 843.2L565 844L565.8 844.7L566.5 845.4L567.2 846.1L568 846.8L568.8 847.5L569.5 848.1L570.2 848.8L571 849.4L571.8 850.1L572.5 850.7L573.2 851.4L574 852L574.8 852.7L575.5 853.3L576.2 854L577 854.7"/>
<path d="M551.5 865.3L551.5 865.3L552.2 865L553 864.6L553.8 864.3L554.5 864L555.2 863.8L556 863.5L556.8 863.2L557.5 862.9L558.2 862.6L559 862.3L559.8 862L560.5 861.6L561.2 861.3L562 860.9L562.8 860.4L563.5 860L564.2 859.5L565 858.9L565.8 858.3L566.5 857.6L567.3 856.8L568.1 856L568.8 855.1L569.6 854.2L570.4 853.3L571.2 852.4L571.9 851.5L572.7 850.6L573.5 849.8L574.2 849L575 848.3L575.8 847.5L576.7 846.7L577.5 845.9L578.3 845.1L579.1 844.5L580 844.2L580.8 844L581.7 844.4L582.5 845.4L583.4 846.8L584.3 848.6L585.1 850.6L586 852.5L586.8 854.4L587.5 856.4L588.3 858.6L589.1 860.9L589.8 863.1L590.6 865.3"/>
<path d="M424.4 909.6L424.4 909.6L425.2 909.2L426 908.7L426.7 908.2L427.5 907.7L428.3 907.2L429.1 906.8L429.9 906.3L430.6 905.8L431.4 905.3L432.2 904.9L433 904.4L433.8 903.9L434.5 903.4L435.3 903L436.1 902.5L436.9 902L437.7 901.5L438.4 901L439.2 900.5L440 900.1L440.8 899.6L441.5 899.1L442.2 898.6L443 898L443.8 897.5L444.5 897L445.2 896.4L446 895.9L446.8 895.4L447.5 894.8L448.2 894.3L449 893.8L449.8 893.3L450.5 892.8L451.2 892.4L452 891.9L452.8 891.5L453.5 891.1L454.2 890.8L455 890.5L455.8 890.2L456.6 889.9L457.4 889.7L458.2 889.4L458.9 889.2L459.7 889.1L460.5 888.9L461.3 888.8L462.1 888.7L462.9 888.6L463.7 888.5L464.5 888.5L465.2 888.4L466 888.4L466.8 888.4L467.6 888.3L468.4 888.3L469.2 888.3L469.9 888.4L470.7 888.4L471.4 888.4L472.2 888.4L472.9 888.5L473.7 888.5L474.4 888.6L475.2 888.7L475.9 888.7L476.7 888.8L477.5 888.9L478.2 889L479 889.1L479.7 889.3L480.5 889.4L481.2 889.6L482 889.7L482.7 889.9L483.5 890.1L484.2 890.3L485 890.5L485.8 890.7L486.5 890.9L487.2 891.2L488 891.4L488.8 891.7L489.5 892L490.2 892.3L491 892.6L491.8 892.9L492.5 893.3L493.2 893.6L494 894L494.8 894.3L495.5 894.7L496.2 895L497 895.4L497.8 895.8L498.5 896.1L499.2 896.5L500 896.9L500.8 897.2L501.5 897.6L502.2 897.9L503 898.3L503.8 898.6L504.5 899L505.2 899.3L506 899.7L506.8 900.1L507.5 900.5L508.2 900.9L509 901.3L509.8 901.8L510.5 902.2L511.2 902.7L512 903.2L512.8 903.8L513.6 904.5L514.4 905.2L515.2 905.9L516.1 906.7L516.9 907.4L517.7 908.2L518.5 908.9L519.3 909.6"/>
<path d="M515.3 893.7L515.3 893.7L516.1 893.3L516.8 893L517.6 892.7L518.4 892.4L519.2 892.1L519.9 891.8L520.7 891.5L521.5 891.2L522.3 890.9L523 890.6L523.8 890.2L524.6 889.9L525.4 889.6L526.1 889.2L526.9 888.9L527.7 888.5L528.5 888.1L529.2 887.7L530 887.3L530.8 886.8L531.5 886.3L532.3 885.8L533 885.2L533.8 884.6L534.5 884L535.3 883.3L536 882.7L536.8 882L537.5 881.3L538.3 880.7L539.1 880L539.8 879.4L540.6 878.8L541.3 878.3L542.1 877.8L542.8 877.3L543.6 876.9L544.3 876.6L545.1 876.3L545.8 876.1L546.6 876L547.4 875.9L548.2 875.9L549 875.8L549.8 875.8L550.5 875.8L551.3 875.7L552.1 875.7L552.9 875.7L553.7 875.7L554.5 875.7L555.3 875.7L556.1 875.7L556.8 875.6L557.6 875.6L558.4 875.6L559.2 875.6L560 875.6L560.8 875.5L561.6 875.4L562.3 875.3L563.1 875.1L563.9 874.9L564.7 874.7L565.4 874.4L566.2 874.2L567 873.9L567.8 873.7L568.6 873.4L569.3 873.2L570.1 873L570.9 872.8L571.7 872.6L572.4 872.5L573.2 872.4L574 872.4L574.8 872.5L575.5 872.7L576.2 873.2L577 873.7L577.8 874.4L578.5 875.2L579.2 876L580 876.9L580.8 877.9L581.5 878.9L582.2 879.9L583 880.9L583.8 881.9L584.5 883.1L585.3 884.3L586 885.6L586.8 886.9L587.6 888.3L588.3 889.7L589.1 891L589.8 892.4L590.6 893.7"/>
<path d="M484 925.6L484 925.6L484.8 925.5L485.5 925.4L486.2 925.3L487 925.3L487.8 925.2L488.5 925.1L489.2 925.1L490 925L490.8 925L491.5 925L492.2 924.9L493 924.9L493.8 924.8L494.5 924.7L495.2 924.7L496 924.6L496.8 924.5L497.5 924.4L498.2 924.3L499 924.2L499.8 924L500.5 923.9L501.2 923.7L502 923.5L502.8 923.2L503.5 923L504.2 922.7L505 922.4L505.8 922.1L506.5 921.7L507.3 921.3L508.1 920.9L508.8 920.4L509.6 919.9L510.4 919.4L511.2 918.8L511.9 918.2L512.7 917.5L513.5 916.7L514.2 915.9L515 914.9L515.8 913.8L516.5 912.2L517.3 910.5L518.1 908.7L518.9 907L519.7 905.6L520.4 904.6L521.2 904.3L522 905.1L522.7 907.1L523.5 909.5L524.2 911.7L525 912.8L525.8 913.2L526.5 913.6L527.3 913.9L528 914.1L528.8 914.3L529.5 914.5L530.3 914.7L531 914.8L531.8 914.9L532.5 915L533.3 915.1L534 915.2L534.8 915.2L535.5 915.3L536.3 915.4L537 915.4L537.8 915.5L538.5 915.6L539.3 915.7L540 915.8L540.8 916L541.6 916.3L542.4 916.6L543.1 917L543.9 917.6L544.7 918.2L545.5 918.9L546.3 919.6L547 920.3L547.8 921.1L548.6 921.9L549.4 922.7L550.2 923.5L550.9 924.2L551.7 924.9L552.5 925.6"/>
<path d="M515.3 936.2L515.3 936.2L516.1 935.8L516.8 935.4L517.6 934.9L518.4 934.5L519.2 934.1L519.9 933.7L520.7 933.2L521.5 932.8L522.3 932.4L523 932L523.8 931.5L524.6 931.1L525.4 930.7L526.1 930.2L526.9 929.7L527.7 929.3L528.5 928.8L529.2 928.2L530 927.7L530.8 927.1L531.6 926.5L532.4 925.8L533.1 925L533.9 924.2L534.7 923.3L535.5 922.5L536.3 921.6L537.1 920.8L537.9 920L538.6 919.1L539.4 918.4L540.2 917.7L541 917L541.8 916.4L542.6 915.9L543.3 915.5L544.1 915.2L544.9 915L545.7 914.9L546.5 915L547.2 915.2L548 915.6L548.7 916L549.5 916.6L550.2 917.2L551 917.9L551.7 918.7L552.5 919.5L553.2 920.4L554 921.3L554.7 922.2L555.5 923.1L556.2 923.9L557 924.8L557.7 925.6L558.5 926.4L559.2 927.1L560 927.7L560.8 928.3L561.5 928.9L562.3 929.4L563.1 929.9L563.8 930.4L564.6 930.9L565.4 931.4L566.1 931.9L566.9 932.4L567.6 932.9L568.4 933.4L569.2 933.8L569.9 934.3L570.7 934.8L571.5 935.2L572.2 935.7L573 936.2"/>
<path d="M447 983.3L447 983.3L447.8 980L448.5 976.8L449.2 973.6L450 970.5L451 966L452 963L452.9 962.4L453.8 962.1L454.7 962L455.6 962L456.5 962.4L457.4 963.4L458.2 964.8L459.1 966.2L460 967.3L460.8 968.1L461.6 968.8L462.4 969.5L463.1 970.1L463.9 970.7L464.7 971.3L465.5 971.9L466.3 972.5L467.1 973.1L467.9 973.6L468.6 974.2L469.4 974.7L470.2 975.3L471 975.8L471.8 976.4L472.6 976.9L473.4 977.5L474.1 978L474.9 978.6L475.7 979.1L476.5 979.6L477.3 980.1L478.1 980.7L478.9 981.2L479.6 981.7L480.4 982.2L481.2 982.7L482 983.3"/>
<path d="M455.6 1009L455.6 1009L456.4 1007.6L457.2 1006.1L458 1004.6L458.8 1003L459.6 1001.5L460.3 1000L461.1 998.6L461.9 997.3L462.7 996L463.5 995L464.3 994L465.1 993.1L465.8 992.3L466.6 991.5L467.4 990.8L468.2 990.1L468.9 989.5L469.7 989L470.5 988.5L471.3 988.2L472 987.9L472.8 987.8L473.6 987.7L474.4 987.8L475.2 987.9L476 988.1L476.8 988.4L477.5 988.7L478.3 989.1L479.1 989.7L479.9 990.3L480.7 990.9L481.5 991.8L482.3 992.7L483.1 993.8L483.9 995L484.6 996.2L485.4 997.4L486.2 998.6L487 999.7L487.8 1000.7L488.5 1001.6L489.3 1002.6L490.1 1003.5L490.9 1004.4L491.6 1005.4L492.4 1006.3L493.2 1007.2L493.9 1008.1L494.7 1009"/>
<path d="M466 1046.4L466 1046.4L466.8 1045.6L467.5 1044.9L468.3 1044.1L469.1 1043.4L469.8 1042.7L470.6 1041.9L471.4 1041.2L472.1 1040.4L472.9 1039.7L473.6 1038.9L474.4 1038.2L475.2 1037.4L475.9 1036.7L476.7 1035.9L477.5 1035.2L478.2 1034.4L479 1033.6L479.8 1032.7L480.6 1031.7L481.4 1030.6L482.2 1029.4L483 1028.3L483.8 1027.3L484.6 1026.4L485.4 1025.7L486.2 1025.3L487 1025.1L487.8 1025.2L488.6 1025.4L489.4 1025.7L490.2 1026.2L491 1026.7L491.8 1027.3L492.6 1028L493.4 1028.8L494.2 1029.6L495 1030.4L495.8 1031.3L496.6 1032.3L497.4 1033.3L498.2 1034.4L499 1035.6L499.8 1036.8L500.6 1038L501.4 1039.3L502.2 1040.5L503 1041.7L503.8 1042.8L504.5 1044L505.2 1045.2L506 1046.4"/>
<path d="M488 1106.9L488 1106.9L488.8 1106.2L489.6 1105.5L490.3 1104.8L491.1 1104.2L491.9 1103.5L492.7 1102.8L493.4 1102.1L494.2 1101.3L495 1100.5L495.8 1099.7L496.6 1098.8L497.3 1097.9L498.1 1096.9L498.9 1096L499.7 1095L500.4 1094L501.2 1093L502 1092L502.8 1090.8L503.5 1089.4L504.2 1088L505 1086.8L505.8 1085.9L506.5 1085.6L507.4 1085.8L508.2 1086.3L509.1 1087.3L510 1088.8L510.8 1090.6L511.6 1092.8L512.4 1095.4L513.2 1098L514 1100.5L515 1103.7L516 1106.9"/>
<path d="M519.4 1017.1L519.4 1017.1L520 1004.4L520.4 995.8L521.2 998.4L522 1002.2L522.8 1004.2L523.5 1005.7L524.2 1007.1L525 1008.6L525.8 1010.3L526.5 1012L527.3 1013.7L528 1015.4L528.8 1017.1"/>
<path d="M524.9 1034.2L524.9 1034.2L525.8 1032.1L526.6 1029.9L527.5 1027.7L528.3 1025.6L529.1 1023.5L530 1021.4L530.8 1019.4L531.5 1017.1L532.3 1015L533 1013.5L533.8 1012.9L534.6 1013.8L535.4 1016.1L536.2 1018.9L537 1021.4L537.8 1023.5L538.6 1025.7L539.4 1027.8L540.1 1029.9L540.9 1032.1L541.7 1034.2"/>
<path d="M528.8 1054.1L528.8 1054.1L529.6 1052.5L530.3 1050.9L531.1 1049.3L531.9 1047.7L532.7 1046L533.5 1044.5L534.2 1042.9L535 1041.4L535.8 1039.7L536.6 1037.8L537.4 1036L538.1 1034.4L538.9 1033.3L539.7 1032.8L540.5 1033.7L541.4 1035.9L542.2 1038.6L543 1041.4L543.9 1044.3L544.9 1047.6L545.8 1050.9L546.7 1054.1"/>
<path d="M541.7 1035.5L541.7 1035.5L542.5 1033.7L543.2 1031.8L544 1029.9L544.7 1028L545.5 1026.2L546.2 1024.4L547 1022.7L547.8 1021L548.5 1019.1L549.3 1017.3L550.1 1015.7L550.8 1014.6L551.6 1014.2L552.4 1014.3L553.1 1014.7L553.9 1015.2L554.7 1015.9L555.4 1016.6L556.2 1017.5L556.9 1018.4L557.7 1019.3L558.5 1020.1L559.2 1021L560 1021.7L560.8 1022.4L561.5 1023L562.3 1023.7L563.1 1024.4L563.8 1025L564.6 1025.7L565.4 1026.4L566.2 1027L566.9 1027.7L567.7 1028.3L568.5 1029L569.2 1029.6L570 1030.2L570.8 1030.8L571.6 1031.5L572.5 1032.1L573.3 1032.6L574.1 1033.2L574.9 1033.8L575.8 1034.4L576.6 1034.9L577.4 1035.5"/>
<path d="M532.3 1072.8L532.3 1072.8L533.1 1071.2L533.9 1069.7L534.7 1068.2L535.6 1066.7L536.4 1065.2L537.2 1063.6L538 1062.1L538.8 1060.4L539.6 1058.4L540.4 1056.4L541.3 1054.5L542.1 1053L542.9 1051.9L543.7 1051.5L544.5 1052.7L545.2 1055.9L546 1060L546.9 1066L547.7 1072.8"/>
<path d="M538.2 1088.7L538.2 1088.7L539 1087.2L539.9 1085.7L540.7 1084.2L541.5 1082.7L542.3 1081.1L543.2 1079.6L544 1078.1L544.8 1076.4L545.6 1074.4L546.4 1072.4L547.2 1070.5L548 1068.9L548.8 1067.8L549.6 1067.4L550.4 1067.8L551.1 1068.7L551.9 1070.1L552.7 1071.8L553.5 1073.6L554.2 1075.4L555 1077L555.8 1078.6L556.6 1080.2L557.4 1081.9L558.1 1083.6L558.9 1085.3L559.7 1087L560.5 1088.7"/>
<path d="M554.6 1106.5L554.6 1106.5L555.4 1105L556.2 1103.6L557.1 1102.2L557.9 1100.7L558.7 1099.3L559.5 1097.9L560.4 1096.5L561.2 1095.1L562 1093.7L562.8 1092.3L563.5 1090.7L564.3 1089.1L565 1087.6L565.8 1086.3L566.5 1085.5L567.3 1085.2L568.2 1086L569.1 1088L570.1 1090.8L571 1093.7L571.9 1096.5L572.7 1099.8L573.5 1103.1L574.4 1106.5"/>
<path d="M572.4 1092.3L572.4 1092.3L573.2 1091.2L573.9 1090.2L574.7 1089.2L575.4 1088.2L576.2 1087.1L577 1086.1L577.7 1085.1L578.5 1084L579.2 1082.8L580 1081.6L580.8 1080L581.7 1078.1L582.5 1076.1L583.3 1074.2L584.1 1072.5L585 1071.4L585.8 1071L586.6 1071.8L587.4 1074L588.2 1076.8L589 1079.5L589.8 1081.9L590.5 1084.4L591.3 1087L592 1089.7L592.8 1092.3"/>
<path d="M559.6 1120.6L559.6 1120.6L560.4 1119.9L561.1 1119.1L561.9 1118.4L562.7 1117.6L563.4 1116.9L564.2 1116.1L564.9 1115.4L565.7 1114.6L566.5 1113.8L567.2 1113L568 1112.1L568.8 1111.2L569.5 1110L570.3 1108.8L571 1107.5L571.8 1106.2L572.6 1104.9L573.3 1103.7L574.1 1102.5L574.9 1101.5L575.6 1100.6L576.4 1099.9L577.1 1099.5L577.9 1099.3L578.8 1099.7L579.6 1100.8L580.5 1102.3L581.3 1104.1L582.1 1106L583 1107.9L583.8 1109.5L584.5 1111.2L585.3 1113.1L586 1115L586.8 1116.9L587.5 1118.8L588.3 1120.6"/>
<path d="M499 1196.7L499 1196.7L499.8 1195.7L500.5 1194.8L501.2 1194L502 1193.1L502.8 1192.1L503.5 1191.2L504.2 1190.2L505 1189.2L505.8 1188.1L506.5 1186.9L507.2 1185.7L508 1184.4L508.8 1183.1L509.5 1181.9L510.2 1180.7L511 1179.6L511.9 1178.3L512.8 1176.9L513.6 1175.8L514.5 1175.4L515.3 1176.3L516.2 1178.7L517 1181.7L517.8 1185L518.5 1188.7L519.2 1192.8L520 1196.7"/>
<path d="M506.5 1163.2L506.5 1163.2L507.3 1161.8L508.1 1160.4L508.9 1159L509.6 1157.7L510.4 1156.3L511.2 1154.9L512 1153.6L512.8 1152.3L513.5 1151.1L514.2 1149.8L515 1148.6L515.8 1147.3L516.5 1146.2L517.2 1145.1L518 1144L519 1142.6L520 1141.9L520.8 1142.8L521.5 1144.9L522.2 1147.7L523 1150.4L523.9 1153.4L524.7 1156.6L525.5 1159.9L526.4 1163.2"/>
<path d="M532.5 1149L532.5 1149L533.2 1148.7L534 1148.5L534.8 1148.2L535.5 1148L536.2 1147.8L537 1147.5L537.8 1147.2L538.5 1146.8L539.2 1146.4L540 1145.8L540.8 1145.1L541.5 1144.4L542.2 1143.5L543 1142.6L543.8 1141.6L544.5 1140.6L545.2 1139.5L546 1138.4L546.8 1137L547.5 1135.4L548.2 1133.7L549 1131.9L549.8 1130.3L550.5 1128.9L551.2 1128L552 1127.7L552.8 1127.9L553.6 1128.3L554.4 1128.9L555.2 1129.8L556 1130.8L556.8 1131.8L557.6 1133L558.4 1134.1L559.2 1135.2L560 1136.2L560.8 1137.2L561.6 1138.2L562.4 1139.2L563.2 1140.3L564 1141.4L564.8 1142.5L565.5 1143.5L566.3 1144.6L567.1 1145.8L567.9 1146.8L568.7 1147.9L569.5 1149"/>
<path d="M519.5 1177.4L519.5 1177.4L520.2 1176L521 1174.7L521.8 1173.4L522.5 1172L523.2 1170.5L524 1168.9L524.8 1166.9L525.5 1164.6L526.2 1162.4L527 1160.3L528 1157.6L529.1 1156.1L530.5 1164.6L531.8 1177.4"/>
<path d="M518.3 1230.1L518.3 1230.1L519.2 1215.2L519.8 1208.8L520.4 1217.3L521.2 1230.1"/>
<path d="M522.5 1261.6L522.5 1261.6L523.4 1246.7L524.1 1240.3L524.7 1248.8L525.5 1261.6"/>
<path d="M527 1223.5L527 1223.5L527.8 1220.3L528.6 1217L529.4 1213.8L530.2 1210.9L531 1208.6L531.8 1206.6L532.7 1205.1L533.5 1203.8L534.3 1202.9L535.2 1202.4L536 1202.2L536.8 1202.4L537.5 1202.8L538.2 1203.5L539 1204.4L539.8 1205.5L540.5 1206.5L541.2 1207.6L542 1208.6L542.8 1209.5L543.5 1210.5L544.2 1211.6L545 1212.6L545.8 1213.7L546.5 1214.8L547.2 1216L548 1217.1L548.8 1218.3L549.6 1219.6L550.4 1220.9L551.2 1222.2L552 1223.5"/>
<path d="M534 1234.1L534 1234.1L534.8 1232.5L535.6 1230.8L536.4 1229.1L537.2 1227.4L538.1 1225.7L538.9 1224.2L539.7 1222.7L540.5 1221.3L541.2 1220.2L542 1219L542.8 1217.8L543.5 1216.7L544.2 1215.6L545 1214.7L545.8 1213.9L546.5 1213.3L547.2 1213L548 1212.8L548.8 1212.9L549.5 1213.1L550.2 1213.4L551 1213.9L551.8 1214.4L552.5 1215L553.2 1215.6L554 1216.3L554.8 1217L555.5 1217.7L556.2 1218.4L557 1219L557.8 1219.7L558.6 1220.4L559.4 1221.2L560.2 1222L561 1222.8L561.8 1223.6L562.6 1224.4L563.4 1225.2L564.2 1225.9L565 1226.7L565.8 1227.3L566.5 1228L567.2 1228.6L568 1229.2L568.8 1229.9L569.5 1230.5L570.2 1231.1L571 1231.7L571.8 1232.3L572.5 1232.9L573.2 1233.5L574 1234.1"/>
<path d="M526 1299.7L526 1299.7L527 1293L528 1286.9L529.1 1281.2L530.2 1278.4L531.1 1281.5L532 1286.9L532.8 1291.1L533.7 1295.4L534.5 1299.7"/>
<path d="M526.7 1343.9L526.7 1343.9L527.5 1340.6L528.4 1337.2L529.2 1334L530 1331.2L530.9 1328.2L531.8 1325.5L532.7 1323.4L533.6 1322.6L534.5 1323.5L535.3 1325.7L536.1 1328.4L537 1331.2L537.8 1333.5L538.5 1336L539.3 1338.7L540 1341.3L540.8 1343.9"/>
<path d="M533 1302.4L533 1302.4L533.8 1299.8L534.6 1297.2L535.4 1294.6L536.2 1292.1L537 1289.6L537.8 1287L538.5 1284.2L539.2 1282L540 1281.1L540.8 1281.7L541.6 1283.2L542.4 1285.3L543.2 1287.6L544 1289.6L544.8 1291.4L545.5 1293.2L546.3 1295L547.1 1296.8L547.9 1298.7L548.6 1300.5L549.4 1302.4"/>
<path d="M535.3 1280.2L535.3 1280.2L536.1 1278L536.9 1275.8L537.6 1273.6L538.4 1271.4L539.2 1269.3L540 1267.4L540.8 1265.6L541.6 1263.7L542.4 1261.8L543.1 1260.3L543.9 1259.3L544.7 1258.9L545.5 1260.4L546.2 1263.7L547 1267.4L547.8 1271.4L548.6 1275.8L549.4 1280.2"/>
<path d="M541.6 1290.9L541.6 1290.9L542.4 1289L543.1 1287.1L543.9 1285.3L544.7 1283.4L545.5 1281.6L546.2 1279.8L547 1278.1L547.9 1276L548.8 1273.7L549.6 1271.6L550.5 1270.1L551.4 1269.6L552.2 1269.8L553 1270.3L553.9 1271.2L554.7 1272.3L555.5 1273.4L556.4 1274.7L557.2 1275.9L558 1277L558.8 1278L559.6 1279.1L560.3 1280.2L561.1 1281.3L561.9 1282.4L562.7 1283.5L563.4 1284.6L564.2 1285.6L565 1286.6L565.8 1287.5L566.6 1288.4L567.4 1289.2L568.2 1290L569 1290.9"/>
<path d="M536.1 1324.5L536.1 1324.5L536.9 1322.4L537.7 1320.2L538.5 1318L539.4 1315.8L540.2 1313.7L541 1311.8L541.8 1309.7L542.6 1307.4L543.5 1305.3L544.3 1303.8L545.1 1303.2L546.1 1304.6L547 1307.9L548 1311.8L548.9 1315.6L549.7 1320.1L550.6 1324.5"/>
<path d="M540.8 1337L540.8 1337L541.6 1335.4L542.3 1333.8L543.1 1332.2L543.9 1330.6L544.7 1329L545.5 1327.4L546.2 1325.8L547 1324.2L547.8 1322.2L548.6 1320L549.4 1317.9L550.2 1316.3L551 1315.7L551.8 1316.1L552.6 1317.4L553.4 1319.3L554.2 1321.7L555 1324.2L555.8 1326.9L556.5 1330.2L557.2 1333.6L558 1337"/>
<path d="M547.8 1347.6L547.8 1347.6L548.6 1346.3L549.4 1345L550.3 1343.7L551.1 1342.4L551.9 1341.1L552.7 1339.8L553.5 1338.5L554.4 1337.2L555.2 1336L556 1334.8L556.8 1333.5L557.7 1332.2L558.5 1330.7L559.4 1329.4L560.2 1328.2L561 1327.2L561.9 1326.5L562.7 1326.3L563.5 1326.4L564.2 1326.8L565 1327.3L565.7 1328L566.5 1328.8L567.2 1329.7L568 1330.6L568.8 1331.6L569.6 1332.8L570.4 1334.1L571.2 1335.5L572 1336.9L572.8 1338.4L573.6 1339.9L574.4 1341.4L575.1 1342.9L575.9 1344.5L576.7 1346.1L577.5 1347.6"/>
<path d="M530.3 1385.5L530.3 1385.5L531.1 1383.4L531.9 1381.3L532.6 1379.2L533.4 1377.1L534.2 1374.9L535 1372.7L536 1369.3L536.9 1365.8L537.9 1364.2L539 1367.2L540 1372.7L541.1 1378.9L542.2 1385.5"/>
<path d="M534.7 1402.1L534.7 1402.1L535.6 1399.5L536.4 1396.9L537.3 1394.3L538.1 1391.7L539 1389.3L539.9 1386.7L540.8 1383.9L541.7 1381.7L542.6 1380.8L543.5 1381.8L544.3 1384.1L545.1 1386.9L546 1389.3L546.8 1391.2L547.6 1393.1L548.4 1394.9L549.3 1396.7L550.1 1398.5L550.9 1400.3L551.7 1402.1"/>
<path d="M538.7 1421.2L538.7 1421.2L539.6 1418.6L540.4 1415.9L541.3 1413.2L542.1 1410.7L543 1408.4L543.9 1406.1L544.8 1403.8L545.6 1401.8L546.5 1400.4L547.4 1399.9L548.3 1400.8L549.2 1403L550.1 1405.8L551 1408.4L551.8 1410.5L552.7 1412.6L553.5 1414.7L554.3 1416.9L555.2 1419L556 1421.2"/>
<path d="M557.4 1404.3L557.4 1404.3L558.2 1403.1L559 1402L559.9 1400.8L560.7 1399.6L561.5 1398.4L562.4 1397.2L563.2 1396L564 1394.8L564.8 1393.6L565.5 1392.3L566.2 1390.9L567 1389.6L567.8 1388.3L568.5 1387.1L569.2 1386.1L570 1385.2L570.8 1384.4L571.6 1383.8L572.4 1383.4L573.2 1383.1L574 1383L574.8 1383.2L575.5 1383.7L576.2 1384.5L577 1385.5L577.8 1386.7L578.5 1387.9L579.2 1389.2L580 1390.5L580.8 1391.9L581.6 1393.5L582.4 1395.3L583.2 1397.1L584.1 1398.9L584.9 1400.7L585.7 1402.6L586.5 1404.3"/>
<path d="M543.7 1438L543.7 1438L544.5 1436.2L545.2 1434.3L546 1432.3L546.7 1430.4L547.5 1428.6L548.2 1426.9L549 1425.2L549.9 1423.4L550.7 1421.5L551.5 1419.7L552.4 1418.2L553.2 1417.1L554.1 1416.7L555 1419.8L556 1425.2L557.1 1431.5L558.2 1438"/>
<path d="M548.2 1450.4L548.2 1450.4L549 1449L549.7 1447.6L550.5 1446.1L551.2 1444.7L552 1443.3L552.7 1441.8L553.5 1440.4L554.2 1439L555 1437.7L555.8 1436L556.6 1434.1L557.5 1432.3L558.3 1430.7L559.1 1429.6L559.9 1429.1L560.7 1429.7L561.5 1431.2L562.4 1433.3L563.2 1435.6L564 1437.7L564.8 1439.7L565.7 1441.7L566.5 1443.9L567.3 1446.1L568.2 1448.3L569 1450.4"/>
<path d="M564.9 1461.1L564.9 1461.1L565.7 1459.5L566.4 1457.8L567.2 1456.1L568 1454.4L568.7 1452.8L569.5 1451.2L570.2 1449.7L571 1448.3L571.8 1446.7L572.7 1445.1L573.5 1443.5L574.4 1442L575.2 1440.9L576.1 1440.1L576.9 1439.8L577.7 1440.2L578.5 1441.3L579.4 1442.8L580.2 1444.5L581 1446.2L581.8 1447.7L582.6 1449.2L583.4 1450.9L584.2 1452.5L584.9 1454.2L585.7 1456L586.5 1457.7L587.3 1459.4L588.1 1461.1"/>
</g>
<g font-style="italic" font-size="14.8" fill="#111" stroke="#111" stroke-width="0.25" transform="translate(599.3,0)">
<text x="0" y="25.3">Pyramimonas parkeae</text>
<text x="0" y="39.5">Nephroselmis pyriformis</text>
<text x="0" y="53.7">Monomastix opisthostigma</text>
<text x="0" y="67.9">Uronema sp</text>
<text x="0" y="82.0">Mesostigma viride</text>
<text x="0" y="96.2">Spirotaenia minuta</text>
<text x="0" y="110.4">Chlorokybus atmophyticus</text>
<text x="0" y="125.6">Klebsormidium subtile</text>
<text x="0" y="138.8">Entransia</text>
<text x="0" y="153.0">Chara vulgaris</text>
<text x="0" y="167.2">Chaetosphaeridium globosum</text>
<text x="0" y="182.5">Coleochaete scutata</text>
<text x="0" y="195.5">Coleochaete irregularis</text>
<text x="0" y="209.7">Mesotaenium endlicherianum</text>
<text x="0" y="338.7">Nothoceros vincentianus</text>
<text x="0" y="351.6">Nothoceros aenigmaticus</text>
<text x="0" y="365.7">Bazzania trilobata</text>
<text x="0" y="379.9">Metzgeria crassipilis</text>
<text x="0" y="394.1">Sphaerocarpos texanus</text>
<text x="0" y="408.3">Ricciocarpos natans</text>
<text x="0" y="422.5">Marchantia polymorpha</text>
<text x="0" y="436.7">Marchantia emarginata</text>
<text x="0" y="450.9">Sphagnum lescurii</text>
<text x="0" y="465.0">Polytrichum commune</text>
<text x="0" y="479.2">Physcomitrella patens</text>
<text x="0" y="493.4">Ceratodon purpureus</text>
<text x="0" y="507.6">Hedwigia ciliata</text>
<text x="0" y="521.8">Rosulabryum cf capillare</text>
<text x="0" y="536.0">Bryum argenteum</text>
<text x="0" y="551.8">Thuidium delicatulum</text>
<text x="0" y="564.3">Rhynchostegium serrulatum</text>
<text x="0" y="578.5">Leucodon brachypus</text>
<text x="0" y="593.7">Anomodon attenuatus</text>
<text x="0" y="606.9">Selaginella moellendor</text>
<text x="168.3" y="606.9">genome</text>
<text x="0" y="621.1">Selaginella moellendor</text>
<text x="0" y="635.3">Huperzia squarrosa</text>
<text x="0" y="649.4">Dendrolycopodium obscurum</text>
<text x="0" y="663.6">Pseudolycopodiella caroliniana</text>
<text x="0" y="677.8">Equisetum di</text>
<text x="0" y="692.0">Pteridium aquilinum</text>
<text x="0" y="706.2">Alsophila spinulosa</text>
<text x="0" y="720.4">Angiopteris evecta</text>
<text x="0" y="734.5">Psilotum nudum</text>
<text x="0" y="748.7">Ophioglossum petiolatum</text>
<text x="0" y="762.9">Ginkgo biloba</text>
<text x="0" y="777.1">Zamia vazquezii</text>
<text x="0" y="792.6">Cycas micholitzii</text>
<text x="0" y="806.2">Cycas rumphii</text>
<text x="0" y="819.7">Prumnopitys andina</text>
<text x="0" y="833.8">Sciadopitys verticillata</text>
<text x="0" y="849.3">Taxus baccata</text>
<text x="0" y="862.9">Juniperus scopulorum</text>
<text x="0" y="877.1">Cunninghamia lanceolata</text>
<text x="0" y="891.3">Pinus taeda</text>
<text x="0" y="905.5">Cedrus libani</text>
<text x="0" y="919.0">Ephedra sinica</text>
<text x="0" y="934.4">Gnetum montanum</text>
<text x="0" y="948.0">Welwitschia mirabilis</text>
<text x="0" y="961.5">Amborella trichopoda</text>
<text x="0" y="976.4">Nuphar advena</text>
<text x="0" y="990.6">Kadsura heteroclita</text>
<text x="0" y="1004.8">Acorus americanus</text>
<text x="0" y="1019.5">Dioscorea villosa</text>
<text x="0" y="1034.0">Smilax bona−nox</text>
<text x="0" y="1047.9">Colchicum autumnale</text>
<text x="0" y="1060.8">Yucca</text>
<text x="0" y="1076.3">Sabal bermudana</text>
<text x="0" y="1089.9">Sorghum bicolor</text>
<text x="0" y="1104.1">Zea mays</text>
<text x="0" y="1117.5">Brachypodium distachyon</text>
<text x="0" y="1131.7">Oryza sativa</text>
<text x="0" y="1145.9">Saruma henryi</text>
<text x="0" y="1160.6">Houttuynia cordata</text>
<text x="0" y="1174.8">Persea americana</text>
<text x="0" y="1188.5">Liriodendron tulipifera</text>
<text x="0" y="1202.7">Sarcandra glabra</text>
<text x="0" y="1217.3">Eschscholzia californica</text>
<text x="0" y="1231.0">Podophyllum peltatum</text>
<text x="0" y="1245.7">Aquilegia formosa</text>
<text x="0" y="1259.9">Vitis vinifera</text>
<text x="0" y="1273.6">Larrea tridentata</text>
<text x="0" y="1287.8">Medicago truncatula</text>
<text x="0" y="1303.2">Boehmeria nivea</text>
<text x="0" y="1316.1">Populus trichocarpa</text>
<text x="0" y="1331.9">Hibiscus cannabinus</text>
<text x="0" y="1344.5">Carica papaya</text>
<text x="0" y="1358.7">Arabidopsis thaliana</text>
<text x="0" y="1372.9">Kochia scoparia</text>
<text x="0" y="1387.1">Diospyros malabarica</text>
<text x="0" y="1401.2">Tanacetum parthenium</text>
<text x="0" y="1416.8">Inula helenium</text>
<text x="0" y="1429.6">Rosmarinus o</text>
<text x="0" y="1443.8">Ipomoea purpurea</text>
<text x="0" y="1459.3">Catharanthus roseus</text>
<text x="0" y="1473.5">Allamanda cathartica</text>
</g>
<rect x="92.8" y="326.8" width="128" height="1130.2" fill="rgb(195,230,232)" fill-opacity="0.75"/>
<rect x="92" y="206.7" width="790.6" height="120.3" fill="#7cc354" fill-opacity="0.58"/>
<g font-style="italic" font-size="14.8" fill="#2b5a1e" stroke="#2b5a1e" stroke-width="0.25" transform="translate(599.3,0)">
<text x="0" y="223.9">Cylindrocystis brebissonii</text>
<text x="0" y="238.1">Cylindrocystis cushleckae</text>
<text x="0" y="252.3">Mougeotia sp</text>
<text x="0" y="266.4">Spirogyra sp</text>
<text x="0" y="280.6">Netrium digitus</text>
<text x="0" y="294.8">Roya obtusa</text>
<text x="0" y="309.0">Penium margaritaceum</text>
<text x="0" y="323.2">Cosmarium ochthodes</text>
</g>
<rect x="93" y="207.8" width="128" height="118.8" fill="rgb(171,220,201)" fill-opacity="0.6" stroke="#e3161c" stroke-width="2.1"/>
<rect x="910.5" y="17.2" width="24.3" height="50.9" fill="#000"/>
<rect x="910.5" y="70.7" width="24.3" height="1401.8" fill="#000"/>
<rect x="884.2" y="207.0" width="24.2" height="120.0" fill="#000"/>
<rect x="884.2" y="328.5" width="24.2" height="1144.0" fill="#000"/>
<rect x="858.0" y="328.5" width="24.3" height="266.5" fill="#000"/>
<rect x="858.0" y="596.6" width="24.3" height="875.9" fill="#000"/>
<rect x="832.0" y="328.3" width="24.2" height="26.5" fill="#000"/>
<rect x="832.0" y="357.0" width="24.2" height="81.6" fill="#000"/>
<rect x="832.0" y="440.7" width="24.2" height="152.9" fill="#000"/>
<rect x="832.0" y="596.0" width="24.2" height="70.5" fill="#000"/>
<rect x="832.0" y="668.6" width="24.2" height="803.9" fill="#000"/>
<rect x="805.6" y="668.6" width="24.2" height="86.0" fill="#000"/>
<rect x="805.6" y="756.8" width="24.2" height="715.7" fill="#000"/>
<rect x="778.8" y="756.7" width="24.4" height="193.0" fill="#000"/>
<rect x="778.8" y="951.9" width="24.4" height="520.6" fill="#000"/>
<text transform="translate(916.5,20.1) rotate(90)" font-size="19" fill="#fff" textLength="44.7" lengthAdjust="spacingAndGlyphs">Chlor.</text>
<text transform="translate(916.5,714.5) rotate(90)" font-size="19" fill="#fff" textLength="100.5" lengthAdjust="spacingAndGlyphs">Streptophyta</text>
<text transform="translate(890.2,210.3) rotate(90)" font-size="19" fill="#fff" textLength="115.4" lengthAdjust="spacingAndGlyphs">Zygnematoph.</text>
<text transform="translate(890.2,979.5) rotate(90)" font-size="19" fill="#fff" textLength="104.5" lengthAdjust="spacingAndGlyphs">Embryophyta</text>
<text transform="translate(864.0,416.8) rotate(90)" font-size="19" fill="#fff" textLength="87.6" lengthAdjust="spacingAndGlyphs">bryophytes</text>
<text transform="translate(864.0,956.8) rotate(90)" font-size="19" fill="#fff" textLength="113.5" lengthAdjust="spacingAndGlyphs">Tracheophyta</text>
<text transform="translate(838.0,331.7) rotate(90)" font-size="19" fill="#fff" textLength="22.2" lengthAdjust="spacingAndGlyphs">Ho</text>
<text transform="translate(838.0,359.9) rotate(90)" font-size="19" fill="#fff" textLength="74.0" lengthAdjust="spacingAndGlyphs">Liverwort</text>
<text transform="translate(838.0,486.7) rotate(90)" font-size="19" fill="#fff" textLength="57.2" lengthAdjust="spacingAndGlyphs">Mosses</text>
<text transform="translate(838.0,602.2) rotate(90)" font-size="19" fill="#fff" textLength="60.3" lengthAdjust="spacingAndGlyphs">Lycoph.</text>
<text transform="translate(838.0,1104.2) rotate(90)" font-size="19" fill="#fff" textLength="111.0" lengthAdjust="spacingAndGlyphs">Euphyllophyta</text>
<text transform="translate(811.6,672.1) rotate(90)" font-size="19" fill="#fff" textLength="81.4" lengthAdjust="spacingAndGlyphs">Pteridoph.</text>
<text transform="translate(811.6,1028.3) rotate(90)" font-size="19" fill="#fff" textLength="119.5" lengthAdjust="spacingAndGlyphs">Spermatophyta</text>
<text transform="translate(784.8,789.5) rotate(90)" font-size="19" fill="#fff" textLength="125.8" lengthAdjust="spacingAndGlyphs">Gymnospermae</text>
<text transform="translate(784.8,1146.5) rotate(90)" font-size="19" fill="#fff" textLength="113.0" lengthAdjust="spacingAndGlyphs">Angiospermae</text>
<polygon points="962.2,26 934.8,200 934.8,330 960.4,496" fill="#c6e5b5" stroke="#a5d48f" stroke-width="1"/>
<text transform="translate(981.1,31) rotate(90)" font-size="56" fill="#78be5a" stroke="#fff" stroke-width="1.1" textLength="492" lengthAdjust="spacingAndGlyphs">Zygnematophyceae</text>
<text transform="translate(165,1001.3) rotate(-90)" font-size="60" fill="#1fb4be" stroke="#d2ecee" stroke-width="0.9" textLength="288" lengthAdjust="spacingAndGlyphs">Cryogenian</text>
<path d="M4 1492.5 H596" stroke="#000" stroke-width="4.2" stroke-linecap="round"/>
<rect x="594" y="1486" width="4" height="8.5" fill="#000"/>
<text x="49.5" y="1486.3" font-size="15.3" fill="#111" stroke="#111" stroke-width="0.3" text-anchor="middle">Tonian</text>
<text x="158.0" y="1486.3" font-size="15.3" fill="#111" stroke="#111" stroke-width="0.3" text-anchor="middle">Cryogenian</text>
<text x="247.5" y="1486.3" font-size="15.3" fill="#111" stroke="#111" stroke-width="0.3" text-anchor="middle">Ediacar</text>
<text x="291.5" y="1486.3" font-size="15.3" fill="#111" stroke="#111" stroke-width="0.3" text-anchor="middle">Cam</text>
<text x="321.6" y="1486.3" font-size="15.3" fill="#111" stroke="#111" stroke-width="0.3" text-anchor="middle">O</text>
<text x="340.3" y="1486.3" font-size="15.3" fill="#111" stroke="#111" stroke-width="0.3" text-anchor="middle">S</text>
<text x="364.9" y="1486.3" font-size="15.3" fill="#111" stroke="#111" stroke-width="0.3" text-anchor="middle">Dev</text>
<text x="402.0" y="1486.3" font-size="15.3" fill="#111" stroke="#111" stroke-width="0.3" text-anchor="middle">Carb</text>
<text x="433.3" y="1486.3" font-size="15.3" fill="#111" stroke="#111" stroke-width="0.3" text-anchor="middle">Pr</text>
<text x="462.6" y="1486.3" font-size="15.3" fill="#111" stroke="#111" stroke-width="0.3" text-anchor="middle">Tr</text>
<text x="493.0" y="1486.3" font-size="15.3" fill="#111" stroke="#111" stroke-width="0.3" text-anchor="middle">Jr</text>
<text x="531.8" y="1486.3" font-size="15.3" fill="#111" stroke="#111" stroke-width="0.3" text-anchor="middle">K</text>
<text x="569.9" y="1486.3" font-size="15.3" fill="#111" stroke="#111" stroke-width="0.3" text-anchor="middle">Pg</text>
<text x="589.3" y="1486.3" font-size="15.3" fill="#111" stroke="#111" stroke-width="0.3" text-anchor="middle">N</text>
<text x="15.6" y="1510.3" font-size="14.6" fill="#111" stroke="#111" stroke-width="0.3" text-anchor="middle">1000</text>
<text x="91.7" y="1510.3" font-size="14.6" fill="#111" stroke="#111" stroke-width="0.3" text-anchor="middle">850</text>
<text x="220.0" y="1510.3" font-size="14.6" fill="#111" stroke="#111" stroke-width="0.3" text-anchor="middle">635</text>
<text x="274.0" y="1510.3" font-size="14.6" fill="#111" stroke="#111" stroke-width="0.3" text-anchor="middle">541</text>
<text x="329.6" y="1510.3" font-size="14.6" fill="#111" stroke="#111" stroke-width="0.3" text-anchor="middle">443</text>
<text x="382.2" y="1510.3" font-size="14.6" fill="#111" stroke="#111" stroke-width="0.3" text-anchor="middle">359</text>
<text x="418.5" y="1510.3" font-size="14.6" fill="#111" stroke="#111" stroke-width="0.3" text-anchor="middle">299</text>
<text x="475.6" y="1510.3" font-size="14.6" fill="#111" stroke="#111" stroke-width="0.3" text-anchor="middle">201</text>
<text x="509.2" y="1510.3" font-size="14.6" fill="#111" stroke="#111" stroke-width="0.3" text-anchor="middle">145</text>
<text x="556.7" y="1510.3" font-size="14.6" fill="#111" stroke="#111" stroke-width="0.3" text-anchor="middle">66</text>
<text x="595.1" y="1510.3" font-size="14.6" fill="#111" stroke="#111" stroke-width="0.3" text-anchor="middle">0</text>
<text x="609.5" y="1510.3" font-size="14.6" fill="#111" stroke="#111" stroke-width="0.3">Time (Ma)</text>
<text x="861" y="1510.3" font-size="14.6" fill="#111" stroke="#111" stroke-width="0.3">Time (Ma)</text>
<rect x="4" y="0" width="4" height="1.5" fill="#000"/><rect x="23.5" y="0" width="4.5" height="1.5" fill="#000"/><rect x="937" y="0" width="2" height="1.2" fill="#000"/>
</svg></body></html>
